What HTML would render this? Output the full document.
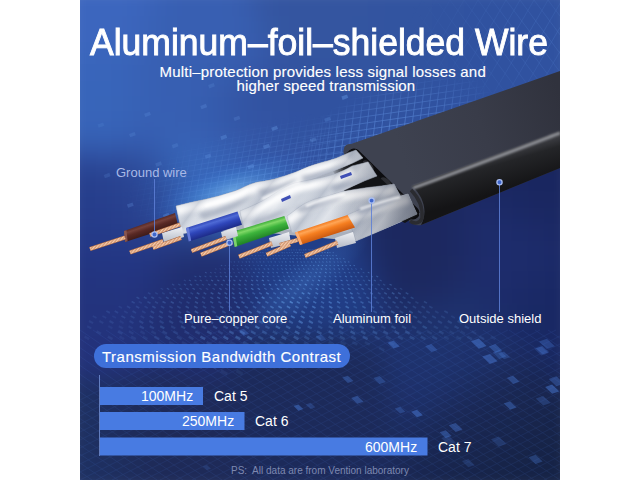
<!DOCTYPE html>
<html><head><meta charset="utf-8">
<style>
html,body{margin:0;padding:0;background:#fff;}
body{width:640px;height:480px;position:relative;overflow:hidden;font-family:"Liberation Sans",sans-serif;}
#art{position:absolute;left:80px;top:0;width:480px;height:480px;overflow:hidden;}
svg{position:absolute;left:0;top:0;}
.t{position:absolute;white-space:nowrap;color:#fff;line-height:1;}
</style></head><body>
<div id="art">
<svg width="480" height="480" viewBox="80 0 480 480">
<defs>
<linearGradient id="bg" x1="0" y1="0" x2="0" y2="480" gradientUnits="userSpaceOnUse">
<stop offset="0" stop-color="#2c5cbd"/>
<stop offset="0.31" stop-color="#2757bb"/>
<stop offset="0.46" stop-color="#2046aa"/>
<stop offset="0.58" stop-color="#1c368c"/>
<stop offset="0.71" stop-color="#182c70"/>
<stop offset="1" stop-color="#14255c"/>
</linearGradient>
<radialGradient id="navyR" cx="0" cy="0" r="1" gradientUnits="userSpaceOnUse" gradientTransform="translate(520 250) scale(190 95)">
<stop offset="0" stop-color="#182b7a" stop-opacity="0.9"/>
<stop offset="0.6" stop-color="#182b7a" stop-opacity="0.6"/>
<stop offset="1" stop-color="#182b7a" stop-opacity="0"/>
</radialGradient>
<radialGradient id="blueL" cx="0" cy="0" r="1" gradientUnits="userSpaceOnUse" gradientTransform="translate(110 265) scale(120 80)">
<stop offset="0" stop-color="#1f49ad" stop-opacity="0.8"/>
<stop offset="1" stop-color="#1f49ad" stop-opacity="0"/>
</radialGradient>
<radialGradient id="glow1" cx="0" cy="0" r="1" gradientUnits="userSpaceOnUse" gradientTransform="translate(232 190) rotate(-18) scale(90 28)">
<stop offset="0" stop-color="#8fd2ff" stop-opacity="0.95"/>
<stop offset="0.45" stop-color="#52a0ea" stop-opacity="0.55"/>
<stop offset="1" stop-color="#2a60c8" stop-opacity="0"/>
</radialGradient>
<radialGradient id="glow2" cx="0" cy="0" r="1" gradientUnits="userSpaceOnUse" gradientTransform="translate(310 282) scale(160 50)">
<stop offset="0" stop-color="#4a8ae0" stop-opacity="0.9"/>
<stop offset="0.5" stop-color="#3370cc" stop-opacity="0.5"/>
<stop offset="1" stop-color="#2a60c8" stop-opacity="0"/>
</radialGradient>
<linearGradient id="ctop" x1="400" y1="150" x2="560" y2="95" gradientUnits="userSpaceOnUse">
<stop offset="0" stop-color="#3e4250"/>
<stop offset="0.5" stop-color="#393c49"/>
<stop offset="1" stop-color="#30323d"/>
</linearGradient>
<linearGradient id="cside" x1="468" y1="164" x2="478" y2="198" gradientUnits="userSpaceOnUse">
<stop offset="0" stop-color="#3a3b40"/>
<stop offset="0.25" stop-color="#242528"/>
<stop offset="1" stop-color="#141416"/>
</linearGradient>
<filter id="blur1" x="-10%" y="-50%" width="120%" height="200%"><feGaussianBlur stdDeviation="1.2"/></filter>
<filter id="blur2" x="-20%" y="-50%" width="140%" height="200%"><feGaussianBlur stdDeviation="2"/></filter>
<linearGradient id="foilsh" x1="330" y1="0" x2="420" y2="0" gradientUnits="userSpaceOnUse">
<stop offset="0" stop-color="#3a4050" stop-opacity="0"/>
<stop offset="0.6" stop-color="#3a4050" stop-opacity="0.25"/>
<stop offset="1" stop-color="#3a4050" stop-opacity="0.6"/>
</linearGradient>
<clipPath id="fclip"><path d="M176,206 C195,201 215,198 232,192 C242,189 248,184 258,182 C268,181 280,178 296,172 C305,168 312,165 320,163 C332,160 340,157 348,153 L356,150 L363,158 C350,165 335,170 320,176 L280,194 L240,222 L182,234 Z"/><path d="M240,211 C250,207 262,202 274,194 C282,189 288,185 295,183 C305,181 312,179 320,178 C330,176 340,173 352,166 L368,162 L377,176 C360,182 345,190 330,197 L292,230 L244,229 Z"/><path d="M287,216 C292,213 297,208 304,204 C312,200 317,198 324,197 C332,195 338,192 346,191 C356,189 364,188 372,187 C382,186 388,185 394,184 L401,197 C385,202 370,210 356,218 L356,232 L292,233 Z"/><path d="M347,215 C357,211 367,206 380,202 C390,199 400,196 408,194 L417,214 C400,222 378,232 356,241 Z"/></clipPath>
<clipPath id="gridclip"><polygon points="300,0 560,0 560,73 347,150 250,170 230,90"/></clipPath>
<pattern id="cuPat" width="2.4" height="20" patternUnits="userSpaceOnUse" patternTransform="rotate(38)">
<rect width="2.4" height="20" fill="#d8987077"/><rect width="2.4" height="20" fill="#d69a72"/><rect width="1.1" height="20" fill="#f5ccb0"/>
</pattern>
<radialGradient id="gm" cx="0" cy="0" r="1" gradientUnits="userSpaceOnUse" gradientTransform="translate(390 130) rotate(-20) scale(110 45)">
<stop offset="0" stop-color="#fff" stop-opacity="0.55"/><stop offset="0.6" stop-color="#fff" stop-opacity="0.3"/><stop offset="1" stop-color="#fff" stop-opacity="0"/>
</radialGradient>
<mask id="gridmask" maskUnits="userSpaceOnUse" x="80" y="0" width="480" height="480"><rect x="80" y="0" width="480" height="480" fill="url(#gm)"/></mask>
<radialGradient id="mm" cx="0" cy="0" r="1" gradientUnits="userSpaceOnUse" gradientTransform="translate(540 40) scale(140 80)">
<stop offset="0" stop-color="#fff" stop-opacity="0.3"/><stop offset="1" stop-color="#fff" stop-opacity="0"/>
</radialGradient>
<mask id="meshmask" maskUnits="userSpaceOnUse" x="80" y="0" width="480" height="480"><rect x="80" y="0" width="480" height="480" fill="url(#mm)"/></mask>
<linearGradient id="twist" x1="180" y1="200" x2="218" y2="228" gradientUnits="userSpaceOnUse" spreadMethod="repeat">
<stop offset="0" stop-color="#ffffff" stop-opacity="0"/>
<stop offset="0.35" stop-color="#7f8aa0" stop-opacity="0.28"/>
<stop offset="0.55" stop-color="#ffffff" stop-opacity="0"/>
<stop offset="0.7" stop-color="#ffffff" stop-opacity="0.4"/>
<stop offset="1" stop-color="#ffffff" stop-opacity="0"/>
</linearGradient>
<filter id="bgblur" x="-5%" y="-5%" width="110%" height="110%" color-interpolation-filters="sRGB"><feGaussianBlur stdDeviation="9"/></filter>
<radialGradient id="beam" cx="0" cy="0" r="1" gradientUnits="userSpaceOnUse" gradientTransform="translate(305 282) rotate(-40) scale(85 22)">
<stop offset="0" stop-color="#5a9ae8" stop-opacity="0.22"/><stop offset="1" stop-color="#5a9ae8" stop-opacity="0"/>
</radialGradient>
<clipPath id="cA"><path d="M176,206 C195,201 215,198 232,192 C242,189 248,184 258,182 C268,181 280,178 296,172 C305,168 312,165 320,163 C332,160 340,157 348,153 L356,150 L363,158 C350,165 335,170 320,176 L280,194 L240,222 L182,234 Z"/></clipPath><clipPath id="cB"><path d="M240,211 C250,207 262,202 274,194 C282,189 288,185 295,183 C305,181 312,179 320,178 C330,176 340,173 352,166 L368,162 L377,176 C360,182 345,190 330,197 L292,230 L244,229 Z"/></clipPath><clipPath id="cC"><path d="M287,216 C292,213 297,208 304,204 C312,200 317,198 324,197 C332,195 338,192 346,191 C356,189 364,188 372,187 C382,186 388,185 394,184 L401,197 C385,202 370,210 356,218 L356,232 L292,233 Z"/></clipPath><clipPath id="cD"><path d="M347,215 C357,211 367,206 380,202 C390,199 400,196 408,194 L417,214 C400,222 378,232 356,241 Z"/></clipPath>
<linearGradient id="foilbase" x1="180" y1="0" x2="420" y2="0" gradientUnits="userSpaceOnUse">
<stop offset="0" stop-color="#d9dee6"/><stop offset="0.6" stop-color="#cdd3dd"/><stop offset="1" stop-color="#b4bbc8"/>
</linearGradient>
<radialGradient id="gm2" cx="0" cy="0" r="1" gradientUnits="userSpaceOnUse" gradientTransform="translate(270 175) rotate(-12) scale(150 55)">
<stop offset="0" stop-color="#fff" stop-opacity="0.35"/><stop offset="0.6" stop-color="#fff" stop-opacity="0.15"/><stop offset="1" stop-color="#fff" stop-opacity="0"/>
</radialGradient>
<mask id="gridmask2" maskUnits="userSpaceOnUse" x="80" y="0" width="480" height="480"><rect x="80" y="0" width="480" height="480" fill="url(#gm2)"/></mask>
<filter id="dotblur" x="0" y="0" width="1" height="1" filterUnits="objectBoundingBox"><feGaussianBlur stdDeviation="0.5"/></filter>
<linearGradient id="cavg" x1="332" y1="0" x2="352" y2="0" gradientUnits="userSpaceOnUse">
<stop offset="0" stop-color="#121316" stop-opacity="0"/><stop offset="0.6" stop-color="#121316" stop-opacity="0.85"/><stop offset="1" stop-color="#121316"/>
</linearGradient>
<linearGradient id="foil" x1="0" y1="0" x2="0" y2="1">
<stop offset="0" stop-color="#ffffff"/>
<stop offset="0.45" stop-color="#eceff4"/>
<stop offset="0.8" stop-color="#c9cfd9"/>
<stop offset="1" stop-color="#9aa3b3"/>
</linearGradient>
<linearGradient id="gBrown" x1="149.5" y1="222" x2="153.5" y2="233.5" gradientUnits="userSpaceOnUse">
<stop offset="0" stop-color="#5a2a26"/><stop offset="0.22" stop-color="#74403a"/><stop offset="0.5" stop-color="#582824"/><stop offset="1" stop-color="#3a1916"/>
</linearGradient>
<linearGradient id="gBlue" x1="211.75" y1="219.75" x2="216" y2="233.3" gradientUnits="userSpaceOnUse">
<stop offset="0" stop-color="#3248b8"/><stop offset="0.22" stop-color="#4e6ad6"/><stop offset="0.5" stop-color="#2f46ba"/><stop offset="1" stop-color="#1c2a86"/>
</linearGradient>
<linearGradient id="gGreen" x1="258.2" y1="224" x2="262.3" y2="237.6" gradientUnits="userSpaceOnUse">
<stop offset="0" stop-color="#3fae3a"/><stop offset="0.22" stop-color="#7fd866"/><stop offset="0.5" stop-color="#3db43c"/><stop offset="1" stop-color="#228628"/>
</linearGradient>
<linearGradient id="gOrange" x1="321.25" y1="223.75" x2="325.5" y2="236.8" gradientUnits="userSpaceOnUse">
<stop offset="0" stop-color="#f27c22"/><stop offset="0.22" stop-color="#ffa555"/><stop offset="0.5" stop-color="#f57e20"/><stop offset="1" stop-color="#cc5a10"/>
</linearGradient>
<linearGradient id="gStub" x1="0" y1="0" x2="0" y2="1">
<stop offset="0" stop-color="#eef0f4"/><stop offset="1" stop-color="#b4bac6"/>
</linearGradient>
</defs>
<!-- BG START -->
<g filter="url(#bgblur)"><rect x="64" y="-16" width="16" height="16" fill="#3c66be"/><rect x="80" y="-16" width="16" height="16" fill="#3c66be"/><rect x="96" y="-16" width="16" height="16" fill="#3c66be"/><rect x="112" y="-16" width="16" height="16" fill="#3c66be"/><rect x="128" y="-16" width="16" height="16" fill="#3c65bd"/><rect x="144" y="-16" width="16" height="16" fill="#3a63b9"/><rect x="160" y="-16" width="16" height="16" fill="#3960b4"/><rect x="176" y="-16" width="16" height="16" fill="#385fb2"/><rect x="192" y="-16" width="16" height="16" fill="#385fb2"/><rect x="208" y="-16" width="16" height="16" fill="#385fb2"/><rect x="224" y="-16" width="16" height="16" fill="#385eb1"/><rect x="240" y="-16" width="16" height="16" fill="#365bab"/><rect x="256" y="-16" width="16" height="16" fill="#3557a3"/><rect x="272" y="-16" width="16" height="16" fill="#3455a0"/><rect x="288" y="-16" width="16" height="16" fill="#3455a0"/><rect x="304" y="-16" width="16" height="16" fill="#3455a0"/><rect x="320" y="-16" width="16" height="16" fill="#3455a0"/><rect x="336" y="-16" width="16" height="16" fill="#3455a0"/><rect x="352" y="-16" width="16" height="16" fill="#3455a0"/><rect x="368" y="-16" width="16" height="16" fill="#3355a0"/><rect x="384" y="-16" width="16" height="16" fill="#3354a0"/><rect x="400" y="-16" width="16" height="16" fill="#3254a0"/><rect x="416" y="-16" width="16" height="16" fill="#3254a0"/><rect x="432" y="-16" width="16" height="16" fill="#3254a0"/><rect x="448" y="-16" width="16" height="16" fill="#3153a0"/><rect x="464" y="-16" width="16" height="16" fill="#3052a0"/><rect x="480" y="-16" width="16" height="16" fill="#3052a0"/><rect x="496" y="-16" width="16" height="16" fill="#3052a0"/><rect x="512" y="-16" width="16" height="16" fill="#3052a0"/><rect x="528" y="-16" width="16" height="16" fill="#3052a0"/><rect x="544" y="-16" width="16" height="16" fill="#3052a0"/><rect x="560" y="-16" width="16" height="16" fill="#3052a0"/><rect x="64" y="0" width="16" height="16" fill="#3c66be"/><rect x="80" y="0" width="16" height="16" fill="#3c66be"/><rect x="96" y="0" width="16" height="16" fill="#3c66be"/><rect x="112" y="0" width="16" height="16" fill="#3c66be"/><rect x="128" y="0" width="16" height="16" fill="#3b65bc"/><rect x="144" y="0" width="16" height="16" fill="#3a62b8"/><rect x="160" y="0" width="16" height="16" fill="#3860b4"/><rect x="176" y="0" width="16" height="16" fill="#385fb2"/><rect x="192" y="0" width="16" height="16" fill="#385fb2"/><rect x="208" y="0" width="16" height="16" fill="#385fb2"/><rect x="224" y="0" width="16" height="16" fill="#385fb1"/><rect x="240" y="0" width="16" height="16" fill="#375cad"/><rect x="256" y="0" width="16" height="16" fill="#3557a4"/><rect x="272" y="0" width="16" height="16" fill="#3455a1"/><rect x="288" y="0" width="16" height="16" fill="#3455a0"/><rect x="304" y="0" width="16" height="16" fill="#3455a0"/><rect x="320" y="0" width="16" height="16" fill="#3455a0"/><rect x="336" y="0" width="16" height="16" fill="#3455a0"/><rect x="352" y="0" width="16" height="16" fill="#3455a0"/><rect x="368" y="0" width="16" height="16" fill="#3354a0"/><rect x="384" y="0" width="16" height="16" fill="#3254a0"/><rect x="400" y="0" width="16" height="16" fill="#3254a0"/><rect x="416" y="0" width="16" height="16" fill="#3254a0"/><rect x="432" y="0" width="16" height="16" fill="#3153a0"/><rect x="448" y="0" width="16" height="16" fill="#3153a0"/><rect x="464" y="0" width="16" height="16" fill="#3052a0"/><rect x="480" y="0" width="16" height="16" fill="#3052a0"/><rect x="496" y="0" width="16" height="16" fill="#3052a0"/><rect x="512" y="0" width="16" height="16" fill="#3052a0"/><rect x="528" y="0" width="16" height="16" fill="#3052a0"/><rect x="544" y="0" width="16" height="16" fill="#3052a0"/><rect x="560" y="0" width="16" height="16" fill="#3052a0"/><rect x="64" y="16" width="16" height="16" fill="#3c66be"/><rect x="80" y="16" width="16" height="16" fill="#3c66be"/><rect x="96" y="16" width="16" height="16" fill="#3c66be"/><rect x="112" y="16" width="16" height="16" fill="#3c66bd"/><rect x="128" y="16" width="16" height="16" fill="#3b64bb"/><rect x="144" y="16" width="16" height="16" fill="#3962b6"/><rect x="160" y="16" width="16" height="16" fill="#3860b3"/><rect x="176" y="16" width="16" height="16" fill="#385fb2"/><rect x="192" y="16" width="16" height="16" fill="#385fb2"/><rect x="208" y="16" width="16" height="16" fill="#385fb2"/><rect x="224" y="16" width="16" height="16" fill="#385fb1"/><rect x="240" y="16" width="16" height="16" fill="#375daf"/><rect x="256" y="16" width="16" height="16" fill="#3559a6"/><rect x="272" y="16" width="16" height="16" fill="#3456a1"/><rect x="288" y="16" width="16" height="16" fill="#3455a0"/><rect x="304" y="16" width="16" height="16" fill="#3455a0"/><rect x="320" y="16" width="16" height="16" fill="#3455a0"/><rect x="336" y="16" width="16" height="16" fill="#3455a0"/><rect x="352" y="16" width="16" height="16" fill="#3355a0"/><rect x="368" y="16" width="16" height="16" fill="#3354a0"/><rect x="384" y="16" width="16" height="16" fill="#3254a0"/><rect x="400" y="16" width="16" height="16" fill="#3254a0"/><rect x="416" y="16" width="16" height="16" fill="#3254a0"/><rect x="432" y="16" width="16" height="16" fill="#3153a0"/><rect x="448" y="16" width="16" height="16" fill="#3153a0"/><rect x="464" y="16" width="16" height="16" fill="#3052a0"/><rect x="480" y="16" width="16" height="16" fill="#3052a0"/><rect x="496" y="16" width="16" height="16" fill="#3052a0"/><rect x="512" y="16" width="16" height="16" fill="#3052a0"/><rect x="528" y="16" width="16" height="16" fill="#3052a0"/><rect x="544" y="16" width="16" height="16" fill="#3052a0"/><rect x="560" y="16" width="16" height="16" fill="#3052a0"/><rect x="64" y="32" width="16" height="16" fill="#3c66be"/><rect x="80" y="32" width="16" height="16" fill="#3c66be"/><rect x="96" y="32" width="16" height="16" fill="#3b66bd"/><rect x="112" y="32" width="16" height="16" fill="#3b65bd"/><rect x="128" y="32" width="16" height="16" fill="#3a64ba"/><rect x="144" y="32" width="16" height="16" fill="#3961b5"/><rect x="160" y="32" width="16" height="16" fill="#385fb3"/><rect x="176" y="32" width="16" height="16" fill="#385fb2"/><rect x="192" y="32" width="16" height="16" fill="#385fb2"/><rect x="208" y="32" width="16" height="16" fill="#385fb2"/><rect x="224" y="32" width="16" height="16" fill="#385fb1"/><rect x="240" y="32" width="16" height="16" fill="#375daf"/><rect x="256" y="32" width="16" height="16" fill="#3659a8"/><rect x="272" y="32" width="16" height="16" fill="#3456a2"/><rect x="288" y="32" width="16" height="16" fill="#3455a0"/><rect x="304" y="32" width="16" height="16" fill="#3455a0"/><rect x="320" y="32" width="16" height="16" fill="#3455a0"/><rect x="336" y="32" width="16" height="16" fill="#3355a0"/><rect x="352" y="32" width="16" height="16" fill="#3354a0"/><rect x="368" y="32" width="16" height="16" fill="#3254a0"/><rect x="384" y="32" width="16" height="16" fill="#3254a0"/><rect x="400" y="32" width="16" height="16" fill="#3254a0"/><rect x="416" y="32" width="16" height="16" fill="#3153a0"/><rect x="432" y="32" width="16" height="16" fill="#3153a0"/><rect x="448" y="32" width="16" height="16" fill="#3153a0"/><rect x="464" y="32" width="16" height="16" fill="#3052a0"/><rect x="480" y="32" width="16" height="16" fill="#3052a0"/><rect x="496" y="32" width="16" height="16" fill="#3052a0"/><rect x="512" y="32" width="16" height="16" fill="#3052a0"/><rect x="528" y="32" width="16" height="16" fill="#3052a0"/><rect x="544" y="32" width="16" height="16" fill="#3052a0"/><rect x="560" y="32" width="16" height="16" fill="#3052a0"/><rect x="64" y="48" width="16" height="16" fill="#3a66bc"/><rect x="80" y="48" width="16" height="16" fill="#3a66bc"/><rect x="96" y="48" width="16" height="16" fill="#3a65bc"/><rect x="112" y="48" width="16" height="16" fill="#3a65bb"/><rect x="128" y="48" width="16" height="16" fill="#3963b8"/><rect x="144" y="48" width="16" height="16" fill="#3860b4"/><rect x="160" y="48" width="16" height="16" fill="#385fb2"/><rect x="176" y="48" width="16" height="16" fill="#385fb2"/><rect x="192" y="48" width="16" height="16" fill="#385fb2"/><rect x="208" y="48" width="16" height="16" fill="#385fb1"/><rect x="224" y="48" width="16" height="16" fill="#375eb0"/><rect x="240" y="48" width="16" height="16" fill="#375cae"/><rect x="256" y="48" width="16" height="16" fill="#3558a8"/><rect x="272" y="48" width="16" height="16" fill="#3455a2"/><rect x="288" y="48" width="16" height="16" fill="#3455a0"/><rect x="304" y="48" width="16" height="16" fill="#3455a0"/><rect x="320" y="48" width="16" height="16" fill="#3355a0"/><rect x="336" y="48" width="16" height="16" fill="#3354a0"/><rect x="352" y="48" width="16" height="16" fill="#3254a0"/><rect x="368" y="48" width="16" height="16" fill="#3254a0"/><rect x="384" y="48" width="16" height="16" fill="#3254a0"/><rect x="400" y="48" width="16" height="16" fill="#3254a0"/><rect x="416" y="48" width="16" height="16" fill="#3153a0"/><rect x="432" y="48" width="16" height="16" fill="#3153a0"/><rect x="448" y="48" width="16" height="16" fill="#3052a0"/><rect x="464" y="48" width="16" height="16" fill="#3052a0"/><rect x="480" y="48" width="16" height="16" fill="#3052a0"/><rect x="496" y="48" width="16" height="16" fill="#3052a0"/><rect x="512" y="48" width="16" height="16" fill="#3052a0"/><rect x="528" y="48" width="16" height="16" fill="#3052a0"/><rect x="544" y="48" width="16" height="16" fill="#3052a0"/><rect x="560" y="48" width="16" height="16" fill="#3052a0"/><rect x="64" y="64" width="16" height="16" fill="#3965bb"/><rect x="80" y="64" width="16" height="16" fill="#3965bb"/><rect x="96" y="64" width="16" height="16" fill="#3965ba"/><rect x="112" y="64" width="16" height="16" fill="#3864b9"/><rect x="128" y="64" width="16" height="16" fill="#3862b6"/><rect x="144" y="64" width="16" height="16" fill="#3860b4"/><rect x="160" y="64" width="16" height="16" fill="#375fb2"/><rect x="176" y="64" width="16" height="16" fill="#375fb2"/><rect x="192" y="64" width="16" height="16" fill="#375fb1"/><rect x="208" y="64" width="16" height="16" fill="#375eb0"/><rect x="224" y="64" width="16" height="16" fill="#365cad"/><rect x="240" y="64" width="16" height="16" fill="#3558a9"/><rect x="256" y="64" width="16" height="16" fill="#3355a4"/><rect x="272" y="64" width="16" height="16" fill="#3354a1"/><rect x="288" y="64" width="16" height="16" fill="#3253a0"/><rect x="304" y="64" width="16" height="16" fill="#3253a0"/><rect x="320" y="64" width="16" height="16" fill="#3253a0"/><rect x="336" y="64" width="16" height="16" fill="#3254a0"/><rect x="352" y="64" width="16" height="16" fill="#3254a0"/><rect x="368" y="64" width="16" height="16" fill="#3254a0"/><rect x="384" y="64" width="16" height="16" fill="#3254a0"/><rect x="400" y="64" width="16" height="16" fill="#3153a0"/><rect x="416" y="64" width="16" height="16" fill="#3153a0"/><rect x="432" y="64" width="16" height="16" fill="#3153a0"/><rect x="448" y="64" width="16" height="16" fill="#3052a0"/><rect x="464" y="64" width="16" height="16" fill="#3052a0"/><rect x="480" y="64" width="16" height="16" fill="#3052a0"/><rect x="496" y="64" width="16" height="16" fill="#3052a0"/><rect x="512" y="64" width="16" height="16" fill="#3052a0"/><rect x="528" y="64" width="16" height="16" fill="#3052a0"/><rect x="544" y="64" width="16" height="16" fill="#3052a0"/><rect x="560" y="64" width="16" height="16" fill="#3052a0"/><rect x="64" y="80" width="16" height="16" fill="#3865ba"/><rect x="80" y="80" width="16" height="16" fill="#3865ba"/><rect x="96" y="80" width="16" height="16" fill="#3865ba"/><rect x="112" y="80" width="16" height="16" fill="#3864b9"/><rect x="128" y="80" width="16" height="16" fill="#3862b6"/><rect x="144" y="80" width="16" height="16" fill="#3760b4"/><rect x="160" y="80" width="16" height="16" fill="#375fb2"/><rect x="176" y="80" width="16" height="16" fill="#375fb2"/><rect x="192" y="80" width="16" height="16" fill="#375eb1"/><rect x="208" y="80" width="16" height="16" fill="#365cae"/><rect x="224" y="80" width="16" height="16" fill="#3559a9"/><rect x="240" y="80" width="16" height="16" fill="#3355a5"/><rect x="256" y="80" width="16" height="16" fill="#3353a2"/><rect x="272" y="80" width="16" height="16" fill="#3253a1"/><rect x="288" y="80" width="16" height="16" fill="#3152a0"/><rect x="304" y="80" width="16" height="16" fill="#3152a0"/><rect x="320" y="80" width="16" height="16" fill="#3152a0"/><rect x="336" y="80" width="16" height="16" fill="#3153a0"/><rect x="352" y="80" width="16" height="16" fill="#3153a0"/><rect x="368" y="80" width="16" height="16" fill="#3153a0"/><rect x="384" y="80" width="16" height="16" fill="#3153a0"/><rect x="400" y="80" width="16" height="16" fill="#3153a0"/><rect x="416" y="80" width="16" height="16" fill="#3153a0"/><rect x="432" y="80" width="16" height="16" fill="#3052a0"/><rect x="448" y="80" width="16" height="16" fill="#3052a0"/><rect x="464" y="80" width="16" height="16" fill="#3052a0"/><rect x="480" y="80" width="16" height="16" fill="#3052a0"/><rect x="496" y="80" width="16" height="16" fill="#3052a0"/><rect x="512" y="80" width="16" height="16" fill="#3052a0"/><rect x="528" y="80" width="16" height="16" fill="#3052a0"/><rect x="544" y="80" width="16" height="16" fill="#3052a0"/><rect x="560" y="80" width="16" height="16" fill="#30529f"/><rect x="64" y="96" width="16" height="16" fill="#3865ba"/><rect x="80" y="96" width="16" height="16" fill="#3865ba"/><rect x="96" y="96" width="16" height="16" fill="#3865b9"/><rect x="112" y="96" width="16" height="16" fill="#3864b8"/><rect x="128" y="96" width="16" height="16" fill="#3762b6"/><rect x="144" y="96" width="16" height="16" fill="#3760b4"/><rect x="160" y="96" width="16" height="16" fill="#375fb3"/><rect x="176" y="96" width="16" height="16" fill="#375fb2"/><rect x="192" y="96" width="16" height="16" fill="#365eb0"/><rect x="208" y="96" width="16" height="16" fill="#355bac"/><rect x="224" y="96" width="16" height="16" fill="#3457a7"/><rect x="240" y="96" width="16" height="16" fill="#3355a4"/><rect x="256" y="96" width="16" height="16" fill="#3253a2"/><rect x="272" y="96" width="16" height="16" fill="#3253a1"/><rect x="288" y="96" width="16" height="16" fill="#3152a0"/><rect x="304" y="96" width="16" height="16" fill="#3152a0"/><rect x="320" y="96" width="16" height="16" fill="#3052a0"/><rect x="336" y="96" width="16" height="16" fill="#3052a0"/><rect x="352" y="96" width="16" height="16" fill="#3052a0"/><rect x="368" y="96" width="16" height="16" fill="#3153a0"/><rect x="384" y="96" width="16" height="16" fill="#3153a0"/><rect x="400" y="96" width="16" height="16" fill="#3153a0"/><rect x="416" y="96" width="16" height="16" fill="#3052a0"/><rect x="432" y="96" width="16" height="16" fill="#3052a0"/><rect x="448" y="96" width="16" height="16" fill="#3052a0"/><rect x="464" y="96" width="16" height="16" fill="#3052a0"/><rect x="480" y="96" width="16" height="16" fill="#3052a0"/><rect x="496" y="96" width="16" height="16" fill="#30519f"/><rect x="512" y="96" width="16" height="16" fill="#2f519e"/><rect x="528" y="96" width="16" height="16" fill="#2f509d"/><rect x="544" y="96" width="16" height="16" fill="#2f4f9c"/><rect x="560" y="96" width="16" height="16" fill="#2e4e9b"/><rect x="64" y="112" width="16" height="16" fill="#3864b9"/><rect x="80" y="112" width="16" height="16" fill="#3864b9"/><rect x="96" y="112" width="16" height="16" fill="#3864b9"/><rect x="112" y="112" width="16" height="16" fill="#3763b8"/><rect x="128" y="112" width="16" height="16" fill="#3761b5"/><rect x="144" y="112" width="16" height="16" fill="#3760b3"/><rect x="160" y="112" width="16" height="16" fill="#3760b3"/><rect x="176" y="112" width="16" height="16" fill="#375fb2"/><rect x="192" y="112" width="16" height="16" fill="#365eb1"/><rect x="208" y="112" width="16" height="16" fill="#355bad"/><rect x="224" y="112" width="16" height="16" fill="#3458a8"/><rect x="240" y="112" width="16" height="16" fill="#3355a5"/><rect x="256" y="112" width="16" height="16" fill="#3354a3"/><rect x="272" y="112" width="16" height="16" fill="#3253a2"/><rect x="288" y="112" width="16" height="16" fill="#3152a1"/><rect x="304" y="112" width="16" height="16" fill="#3152a0"/><rect x="320" y="112" width="16" height="16" fill="#3052a0"/><rect x="336" y="112" width="16" height="16" fill="#3052a0"/><rect x="352" y="112" width="16" height="16" fill="#3052a0"/><rect x="368" y="112" width="16" height="16" fill="#3052a0"/><rect x="384" y="112" width="16" height="16" fill="#3153a0"/><rect x="400" y="112" width="16" height="16" fill="#3052a0"/><rect x="416" y="112" width="16" height="16" fill="#3052a0"/><rect x="432" y="112" width="16" height="16" fill="#3052a0"/><rect x="448" y="112" width="16" height="16" fill="#3052a0"/><rect x="464" y="112" width="16" height="16" fill="#30529f"/><rect x="480" y="112" width="16" height="16" fill="#2f509d"/><rect x="496" y="112" width="16" height="16" fill="#2d4c97"/><rect x="512" y="112" width="16" height="16" fill="#2b4891"/><rect x="528" y="112" width="16" height="16" fill="#29448c"/><rect x="544" y="112" width="16" height="16" fill="#274086"/><rect x="560" y="112" width="16" height="16" fill="#253d81"/><rect x="64" y="128" width="16" height="16" fill="#3660b4"/><rect x="80" y="128" width="16" height="16" fill="#3661b5"/><rect x="96" y="128" width="16" height="16" fill="#3661b5"/><rect x="112" y="128" width="16" height="16" fill="#3660b4"/><rect x="128" y="128" width="16" height="16" fill="#365eb2"/><rect x="144" y="128" width="16" height="16" fill="#365eb1"/><rect x="160" y="128" width="16" height="16" fill="#3760b3"/><rect x="176" y="128" width="16" height="16" fill="#3761b4"/><rect x="192" y="128" width="16" height="16" fill="#3760b3"/><rect x="208" y="128" width="16" height="16" fill="#365daf"/><rect x="224" y="128" width="16" height="16" fill="#355aab"/><rect x="240" y="128" width="16" height="16" fill="#3457a7"/><rect x="256" y="128" width="16" height="16" fill="#3355a5"/><rect x="272" y="128" width="16" height="16" fill="#3254a3"/><rect x="288" y="128" width="16" height="16" fill="#3153a1"/><rect x="304" y="128" width="16" height="16" fill="#3152a0"/><rect x="320" y="128" width="16" height="16" fill="#3052a0"/><rect x="336" y="128" width="16" height="16" fill="#3052a0"/><rect x="352" y="128" width="16" height="16" fill="#3052a0"/><rect x="368" y="128" width="16" height="16" fill="#3052a0"/><rect x="384" y="128" width="16" height="16" fill="#3052a0"/><rect x="400" y="128" width="16" height="16" fill="#3052a0"/><rect x="416" y="128" width="16" height="16" fill="#3052a0"/><rect x="432" y="128" width="16" height="16" fill="#3052a0"/><rect x="448" y="128" width="16" height="16" fill="#30519f"/><rect x="464" y="128" width="16" height="16" fill="#2e4f9b"/><rect x="480" y="128" width="16" height="16" fill="#2a468f"/><rect x="496" y="128" width="16" height="16" fill="#23397c"/><rect x="512" y="128" width="16" height="16" fill="#1f3170"/><rect x="528" y="128" width="16" height="16" fill="#1d2e6a"/><rect x="544" y="128" width="16" height="16" fill="#1c2c67"/><rect x="560" y="128" width="16" height="16" fill="#1b2a65"/><rect x="64" y="144" width="16" height="16" fill="#3053a4"/><rect x="80" y="144" width="16" height="16" fill="#3155a7"/><rect x="96" y="144" width="16" height="16" fill="#3156a8"/><rect x="112" y="144" width="16" height="16" fill="#3155a7"/><rect x="128" y="144" width="16" height="16" fill="#3256a7"/><rect x="144" y="144" width="16" height="16" fill="#3359ab"/><rect x="160" y="144" width="16" height="16" fill="#355fb1"/><rect x="176" y="144" width="16" height="16" fill="#3763b6"/><rect x="192" y="144" width="16" height="16" fill="#3763b6"/><rect x="208" y="144" width="16" height="16" fill="#3761b3"/><rect x="224" y="144" width="16" height="16" fill="#355daf"/><rect x="240" y="144" width="16" height="16" fill="#3459aa"/><rect x="256" y="144" width="16" height="16" fill="#3357a7"/><rect x="272" y="144" width="16" height="16" fill="#3355a4"/><rect x="288" y="144" width="16" height="16" fill="#3253a2"/><rect x="304" y="144" width="16" height="16" fill="#3152a1"/><rect x="320" y="144" width="16" height="16" fill="#3052a0"/><rect x="336" y="144" width="16" height="16" fill="#3052a0"/><rect x="352" y="144" width="16" height="16" fill="#3052a0"/><rect x="368" y="144" width="16" height="16" fill="#30529f"/><rect x="384" y="144" width="16" height="16" fill="#2f519e"/><rect x="400" y="144" width="16" height="16" fill="#2f4f9b"/><rect x="416" y="144" width="16" height="16" fill="#2e4e9a"/><rect x="432" y="144" width="16" height="16" fill="#2e4e9a"/><rect x="448" y="144" width="16" height="16" fill="#2d4c98"/><rect x="464" y="144" width="16" height="16" fill="#28438a"/><rect x="480" y="144" width="16" height="16" fill="#203372"/><rect x="496" y="144" width="16" height="16" fill="#1b2a65"/><rect x="512" y="144" width="16" height="16" fill="#1a2862"/><rect x="528" y="144" width="16" height="16" fill="#1a2760"/><rect x="544" y="144" width="16" height="16" fill="#192760"/><rect x="560" y="144" width="16" height="16" fill="#192660"/><rect x="64" y="160" width="16" height="16" fill="#294494"/><rect x="80" y="160" width="16" height="16" fill="#2a4695"/><rect x="96" y="160" width="16" height="16" fill="#2b4796"/><rect x="112" y="160" width="16" height="16" fill="#2c4998"/><rect x="128" y="160" width="16" height="16" fill="#2d4c9b"/><rect x="144" y="160" width="16" height="16" fill="#3052a2"/><rect x="160" y="160" width="16" height="16" fill="#335bac"/><rect x="176" y="160" width="16" height="16" fill="#3663b5"/><rect x="192" y="160" width="16" height="16" fill="#3866b9"/><rect x="208" y="160" width="16" height="16" fill="#3764b7"/><rect x="224" y="160" width="16" height="16" fill="#3660b3"/><rect x="240" y="160" width="16" height="16" fill="#355cae"/><rect x="256" y="160" width="16" height="16" fill="#3459aa"/><rect x="272" y="160" width="16" height="16" fill="#3356a6"/><rect x="288" y="160" width="16" height="16" fill="#3254a3"/><rect x="304" y="160" width="16" height="16" fill="#3152a1"/><rect x="320" y="160" width="16" height="16" fill="#3052a0"/><rect x="336" y="160" width="16" height="16" fill="#3052a0"/><rect x="352" y="160" width="16" height="16" fill="#30519f"/><rect x="368" y="160" width="16" height="16" fill="#2f4f9c"/><rect x="384" y="160" width="16" height="16" fill="#2c4992"/><rect x="400" y="160" width="16" height="16" fill="#273e81"/><rect x="416" y="160" width="16" height="16" fill="#253a7b"/><rect x="432" y="160" width="16" height="16" fill="#253a7c"/><rect x="448" y="160" width="16" height="16" fill="#233879"/><rect x="464" y="160" width="16" height="16" fill="#1f306e"/><rect x="480" y="160" width="16" height="16" fill="#1b2964"/><rect x="496" y="160" width="16" height="16" fill="#1a2761"/><rect x="512" y="160" width="16" height="16" fill="#192760"/><rect x="528" y="160" width="16" height="16" fill="#192660"/><rect x="544" y="160" width="16" height="16" fill="#19265f"/><rect x="560" y="160" width="16" height="16" fill="#19265f"/><rect x="64" y="176" width="16" height="16" fill="#273f8e"/><rect x="80" y="176" width="16" height="16" fill="#27408e"/><rect x="96" y="176" width="16" height="16" fill="#28418f"/><rect x="112" y="176" width="16" height="16" fill="#294391"/><rect x="128" y="176" width="16" height="16" fill="#2b4795"/><rect x="144" y="176" width="16" height="16" fill="#2d4d9c"/><rect x="160" y="176" width="16" height="16" fill="#3157a7"/><rect x="176" y="176" width="16" height="16" fill="#3561b3"/><rect x="192" y="176" width="16" height="16" fill="#3866b9"/><rect x="208" y="176" width="16" height="16" fill="#3866ba"/><rect x="224" y="176" width="16" height="16" fill="#3764b7"/><rect x="240" y="176" width="16" height="16" fill="#3660b2"/><rect x="256" y="176" width="16" height="16" fill="#355cae"/><rect x="272" y="176" width="16" height="16" fill="#3458a9"/><rect x="288" y="176" width="16" height="16" fill="#3254a4"/><rect x="304" y="176" width="16" height="16" fill="#3052a0"/><rect x="320" y="176" width="16" height="16" fill="#30519f"/><rect x="336" y="176" width="16" height="16" fill="#2f519e"/><rect x="352" y="176" width="16" height="16" fill="#2e4e9a"/><rect x="368" y="176" width="16" height="16" fill="#2a458c"/><rect x="384" y="176" width="16" height="16" fill="#223574"/><rect x="400" y="176" width="16" height="16" fill="#1e2d66"/><rect x="416" y="176" width="16" height="16" fill="#1d2a63"/><rect x="432" y="176" width="16" height="16" fill="#1d2a63"/><rect x="448" y="176" width="16" height="16" fill="#1d2b64"/><rect x="464" y="176" width="16" height="16" fill="#1c2a65"/><rect x="480" y="176" width="16" height="16" fill="#1b2863"/><rect x="496" y="176" width="16" height="16" fill="#1a2762"/><rect x="512" y="176" width="16" height="16" fill="#1a2761"/><rect x="528" y="176" width="16" height="16" fill="#192660"/><rect x="544" y="176" width="16" height="16" fill="#192660"/><rect x="560" y="176" width="16" height="16" fill="#19265f"/><rect x="64" y="192" width="16" height="16" fill="#263e8c"/><rect x="80" y="192" width="16" height="16" fill="#263e8c"/><rect x="96" y="192" width="16" height="16" fill="#273f8d"/><rect x="112" y="192" width="16" height="16" fill="#28418f"/><rect x="128" y="192" width="16" height="16" fill="#2a4492"/><rect x="144" y="192" width="16" height="16" fill="#2c4997"/><rect x="160" y="192" width="16" height="16" fill="#2f52a1"/><rect x="176" y="192" width="16" height="16" fill="#335cae"/><rect x="192" y="192" width="16" height="16" fill="#3765b7"/><rect x="208" y="192" width="16" height="16" fill="#3867bb"/><rect x="224" y="192" width="16" height="16" fill="#3866b9"/><rect x="240" y="192" width="16" height="16" fill="#3763b6"/><rect x="256" y="192" width="16" height="16" fill="#355eb0"/><rect x="272" y="192" width="16" height="16" fill="#3258a8"/><rect x="288" y="192" width="16" height="16" fill="#2e509f"/><rect x="304" y="192" width="16" height="16" fill="#2b4c99"/><rect x="320" y="192" width="16" height="16" fill="#2b4b98"/><rect x="336" y="192" width="16" height="16" fill="#2b4a95"/><rect x="352" y="192" width="16" height="16" fill="#274186"/><rect x="368" y="192" width="16" height="16" fill="#21326f"/><rect x="384" y="192" width="16" height="16" fill="#1d2b63"/><rect x="400" y="192" width="16" height="16" fill="#1c2960"/><rect x="416" y="192" width="16" height="16" fill="#1c2860"/><rect x="432" y="192" width="16" height="16" fill="#1c2860"/><rect x="448" y="192" width="16" height="16" fill="#1c2962"/><rect x="464" y="192" width="16" height="16" fill="#1c2a65"/><rect x="480" y="192" width="16" height="16" fill="#1c2966"/><rect x="496" y="192" width="16" height="16" fill="#1b2964"/><rect x="512" y="192" width="16" height="16" fill="#1a2863"/><rect x="528" y="192" width="16" height="16" fill="#1a2761"/><rect x="544" y="192" width="16" height="16" fill="#1a2761"/><rect x="560" y="192" width="16" height="16" fill="#192660"/><rect x="64" y="208" width="16" height="16" fill="#263d8b"/><rect x="80" y="208" width="16" height="16" fill="#263d8b"/><rect x="96" y="208" width="16" height="16" fill="#263d8c"/><rect x="112" y="208" width="16" height="16" fill="#273f8d"/><rect x="128" y="208" width="16" height="16" fill="#29428f"/><rect x="144" y="208" width="16" height="16" fill="#2a4694"/><rect x="160" y="208" width="16" height="16" fill="#2d4c9b"/><rect x="176" y="208" width="16" height="16" fill="#3156a5"/><rect x="192" y="208" width="16" height="16" fill="#345fb0"/><rect x="208" y="208" width="16" height="16" fill="#3764b6"/><rect x="224" y="208" width="16" height="16" fill="#3765b8"/><rect x="240" y="208" width="16" height="16" fill="#3662b4"/><rect x="256" y="208" width="16" height="16" fill="#325aab"/><rect x="272" y="208" width="16" height="16" fill="#2b4d9b"/><rect x="288" y="208" width="16" height="16" fill="#254490"/><rect x="304" y="208" width="16" height="16" fill="#23418c"/><rect x="320" y="208" width="16" height="16" fill="#23408b"/><rect x="336" y="208" width="16" height="16" fill="#233e86"/><rect x="352" y="208" width="16" height="16" fill="#203474"/><rect x="368" y="208" width="16" height="16" fill="#1d2b64"/><rect x="384" y="208" width="16" height="16" fill="#1c2960"/><rect x="400" y="208" width="16" height="16" fill="#1c285f"/><rect x="416" y="208" width="16" height="16" fill="#1c285f"/><rect x="432" y="208" width="16" height="16" fill="#1c2860"/><rect x="448" y="208" width="16" height="16" fill="#1c2962"/><rect x="464" y="208" width="16" height="16" fill="#1d2a66"/><rect x="480" y="208" width="16" height="16" fill="#1d2b69"/><rect x="496" y="208" width="16" height="16" fill="#1c2a68"/><rect x="512" y="208" width="16" height="16" fill="#1b2966"/><rect x="528" y="208" width="16" height="16" fill="#1b2864"/><rect x="544" y="208" width="16" height="16" fill="#1a2863"/><rect x="560" y="208" width="16" height="16" fill="#1a2761"/><rect x="64" y="224" width="16" height="16" fill="#253b89"/><rect x="80" y="224" width="16" height="16" fill="#253b89"/><rect x="96" y="224" width="16" height="16" fill="#253b89"/><rect x="112" y="224" width="16" height="16" fill="#263c8a"/><rect x="128" y="224" width="16" height="16" fill="#273e8c"/><rect x="144" y="224" width="16" height="16" fill="#28418e"/><rect x="160" y="224" width="16" height="16" fill="#2a4591"/><rect x="176" y="224" width="16" height="16" fill="#2c4a96"/><rect x="192" y="224" width="16" height="16" fill="#2e4f9b"/><rect x="208" y="224" width="16" height="16" fill="#3054a1"/><rect x="224" y="224" width="16" height="16" fill="#3157a5"/><rect x="240" y="224" width="16" height="16" fill="#2f55a3"/><rect x="256" y="224" width="16" height="16" fill="#294a97"/><rect x="272" y="224" width="16" height="16" fill="#23428c"/><rect x="288" y="224" width="16" height="16" fill="#223f89"/><rect x="304" y="224" width="16" height="16" fill="#213e88"/><rect x="320" y="224" width="16" height="16" fill="#213e88"/><rect x="336" y="224" width="16" height="16" fill="#213c84"/><rect x="352" y="224" width="16" height="16" fill="#1f3374"/><rect x="368" y="224" width="16" height="16" fill="#1d2b64"/><rect x="384" y="224" width="16" height="16" fill="#1c2860"/><rect x="400" y="224" width="16" height="16" fill="#1c285f"/><rect x="416" y="224" width="16" height="16" fill="#1c285f"/><rect x="432" y="224" width="16" height="16" fill="#1c2860"/><rect x="448" y="224" width="16" height="16" fill="#1c2963"/><rect x="464" y="224" width="16" height="16" fill="#1d2b67"/><rect x="480" y="224" width="16" height="16" fill="#1d2c6b"/><rect x="496" y="224" width="16" height="16" fill="#1d2c6b"/><rect x="512" y="224" width="16" height="16" fill="#1c2b6a"/><rect x="528" y="224" width="16" height="16" fill="#1c2a68"/><rect x="544" y="224" width="16" height="16" fill="#1b2966"/><rect x="560" y="224" width="16" height="16" fill="#1a2864"/><rect x="64" y="240" width="16" height="16" fill="#243886"/><rect x="80" y="240" width="16" height="16" fill="#243886"/><rect x="96" y="240" width="16" height="16" fill="#243886"/><rect x="112" y="240" width="16" height="16" fill="#243986"/><rect x="128" y="240" width="16" height="16" fill="#253a87"/><rect x="144" y="240" width="16" height="16" fill="#253b87"/><rect x="160" y="240" width="16" height="16" fill="#263a84"/><rect x="176" y="240" width="16" height="16" fill="#253a80"/><rect x="192" y="240" width="16" height="16" fill="#25397f"/><rect x="208" y="240" width="16" height="16" fill="#253b80"/><rect x="224" y="240" width="16" height="16" fill="#263d83"/><rect x="240" y="240" width="16" height="16" fill="#253f87"/><rect x="256" y="240" width="16" height="16" fill="#233f89"/><rect x="272" y="240" width="16" height="16" fill="#213e88"/><rect x="288" y="240" width="16" height="16" fill="#213e88"/><rect x="304" y="240" width="16" height="16" fill="#213e88"/><rect x="320" y="240" width="16" height="16" fill="#213e88"/><rect x="336" y="240" width="16" height="16" fill="#213d85"/><rect x="352" y="240" width="16" height="16" fill="#1f3679"/><rect x="368" y="240" width="16" height="16" fill="#1d2c67"/><rect x="384" y="240" width="16" height="16" fill="#1c2960"/><rect x="400" y="240" width="16" height="16" fill="#1c285f"/><rect x="416" y="240" width="16" height="16" fill="#1c285f"/><rect x="432" y="240" width="16" height="16" fill="#1c2860"/><rect x="448" y="240" width="16" height="16" fill="#1c2963"/><rect x="464" y="240" width="16" height="16" fill="#1d2b68"/><rect x="480" y="240" width="16" height="16" fill="#1d2c6b"/><rect x="496" y="240" width="16" height="16" fill="#1d2c6c"/><rect x="512" y="240" width="16" height="16" fill="#1d2c6b"/><rect x="528" y="240" width="16" height="16" fill="#1c2b6a"/><rect x="544" y="240" width="16" height="16" fill="#1c2a68"/><rect x="560" y="240" width="16" height="16" fill="#1b2966"/><rect x="64" y="256" width="16" height="16" fill="#233682"/><rect x="80" y="256" width="16" height="16" fill="#233682"/><rect x="96" y="256" width="16" height="16" fill="#233683"/><rect x="112" y="256" width="16" height="16" fill="#233683"/><rect x="128" y="256" width="16" height="16" fill="#233683"/><rect x="144" y="256" width="16" height="16" fill="#23357f"/><rect x="160" y="256" width="16" height="16" fill="#223379"/><rect x="176" y="256" width="16" height="16" fill="#213174"/><rect x="192" y="256" width="16" height="16" fill="#213072"/><rect x="208" y="256" width="16" height="16" fill="#213072"/><rect x="224" y="256" width="16" height="16" fill="#213174"/><rect x="240" y="256" width="16" height="16" fill="#21367b"/><rect x="256" y="256" width="16" height="16" fill="#213c85"/><rect x="272" y="256" width="16" height="16" fill="#213e88"/><rect x="288" y="256" width="16" height="16" fill="#213e88"/><rect x="304" y="256" width="16" height="16" fill="#213e88"/><rect x="320" y="256" width="16" height="16" fill="#213e88"/><rect x="336" y="256" width="16" height="16" fill="#213d86"/><rect x="352" y="256" width="16" height="16" fill="#20397e"/><rect x="368" y="256" width="16" height="16" fill="#1d2e6b"/><rect x="384" y="256" width="16" height="16" fill="#1c2961"/><rect x="400" y="256" width="16" height="16" fill="#1c285f"/><rect x="416" y="256" width="16" height="16" fill="#1c285f"/><rect x="432" y="256" width="16" height="16" fill="#1c2960"/><rect x="448" y="256" width="16" height="16" fill="#1d2a63"/><rect x="464" y="256" width="16" height="16" fill="#1d2b69"/><rect x="480" y="256" width="16" height="16" fill="#1e2c6c"/><rect x="496" y="256" width="16" height="16" fill="#1d2c6c"/><rect x="512" y="256" width="16" height="16" fill="#1d2c6b"/><rect x="528" y="256" width="16" height="16" fill="#1c2b6a"/><rect x="544" y="256" width="16" height="16" fill="#1b2a68"/><rect x="560" y="256" width="16" height="16" fill="#1a2966"/><rect x="64" y="272" width="16" height="16" fill="#23347f"/><rect x="80" y="272" width="16" height="16" fill="#233480"/><rect x="96" y="272" width="16" height="16" fill="#233580"/><rect x="112" y="272" width="16" height="16" fill="#233581"/><rect x="128" y="272" width="16" height="16" fill="#233480"/><rect x="144" y="272" width="16" height="16" fill="#22337b"/><rect x="160" y="272" width="16" height="16" fill="#213074"/><rect x="176" y="272" width="16" height="16" fill="#202e70"/><rect x="192" y="272" width="16" height="16" fill="#202e6f"/><rect x="208" y="272" width="16" height="16" fill="#202e6f"/><rect x="224" y="272" width="16" height="16" fill="#202f70"/><rect x="240" y="272" width="16" height="16" fill="#213378"/><rect x="256" y="272" width="16" height="16" fill="#213b83"/><rect x="272" y="272" width="16" height="16" fill="#213e87"/><rect x="288" y="272" width="16" height="16" fill="#213e88"/><rect x="304" y="272" width="16" height="16" fill="#213e88"/><rect x="320" y="272" width="16" height="16" fill="#213e88"/><rect x="336" y="272" width="16" height="16" fill="#213d87"/><rect x="352" y="272" width="16" height="16" fill="#203b82"/><rect x="368" y="272" width="16" height="16" fill="#1e3170"/><rect x="384" y="272" width="16" height="16" fill="#1c2a63"/><rect x="400" y="272" width="16" height="16" fill="#1c2960"/><rect x="416" y="272" width="16" height="16" fill="#1c2960"/><rect x="432" y="272" width="16" height="16" fill="#1c2962"/><rect x="448" y="272" width="16" height="16" fill="#1d2b65"/><rect x="464" y="272" width="16" height="16" fill="#1d2c69"/><rect x="480" y="272" width="16" height="16" fill="#1d2c6c"/><rect x="496" y="272" width="16" height="16" fill="#1d2c6b"/><rect x="512" y="272" width="16" height="16" fill="#1c2b6a"/><rect x="528" y="272" width="16" height="16" fill="#1b2a68"/><rect x="544" y="272" width="16" height="16" fill="#1a2966"/><rect x="560" y="272" width="16" height="16" fill="#1a2965"/><rect x="64" y="288" width="16" height="16" fill="#23337e"/><rect x="80" y="288" width="16" height="16" fill="#23347e"/><rect x="96" y="288" width="16" height="16" fill="#23347e"/><rect x="112" y="288" width="16" height="16" fill="#23347f"/><rect x="128" y="288" width="16" height="16" fill="#23337d"/><rect x="144" y="288" width="16" height="16" fill="#223178"/><rect x="160" y="288" width="16" height="16" fill="#212f72"/><rect x="176" y="288" width="16" height="16" fill="#202d6f"/><rect x="192" y="288" width="16" height="16" fill="#202d6e"/><rect x="208" y="288" width="16" height="16" fill="#202d6e"/><rect x="224" y="288" width="16" height="16" fill="#202e70"/><rect x="240" y="288" width="16" height="16" fill="#203276"/><rect x="256" y="288" width="16" height="16" fill="#213a82"/><rect x="272" y="288" width="16" height="16" fill="#213d87"/><rect x="288" y="288" width="16" height="16" fill="#213e88"/><rect x="304" y="288" width="16" height="16" fill="#213e88"/><rect x="320" y="288" width="16" height="16" fill="#213e88"/><rect x="336" y="288" width="16" height="16" fill="#213e87"/><rect x="352" y="288" width="16" height="16" fill="#213c84"/><rect x="368" y="288" width="16" height="16" fill="#1f3476"/><rect x="384" y="288" width="16" height="16" fill="#1d2c66"/><rect x="400" y="288" width="16" height="16" fill="#1c2a63"/><rect x="416" y="288" width="16" height="16" fill="#1d2b64"/><rect x="432" y="288" width="16" height="16" fill="#1d2c66"/><rect x="448" y="288" width="16" height="16" fill="#1d2e69"/><rect x="464" y="288" width="16" height="16" fill="#1d2e6b"/><rect x="480" y="288" width="16" height="16" fill="#1d2d6b"/><rect x="496" y="288" width="16" height="16" fill="#1c2b6a"/><rect x="512" y="288" width="16" height="16" fill="#1b2a68"/><rect x="528" y="288" width="16" height="16" fill="#1a2966"/><rect x="544" y="288" width="16" height="16" fill="#192865"/><rect x="560" y="288" width="16" height="16" fill="#192864"/><rect x="64" y="304" width="16" height="16" fill="#23337c"/><rect x="80" y="304" width="16" height="16" fill="#23337d"/><rect x="96" y="304" width="16" height="16" fill="#23337d"/><rect x="112" y="304" width="16" height="16" fill="#23337d"/><rect x="128" y="304" width="16" height="16" fill="#23337c"/><rect x="144" y="304" width="16" height="16" fill="#223076"/><rect x="160" y="304" width="16" height="16" fill="#212e71"/><rect x="176" y="304" width="16" height="16" fill="#202d6f"/><rect x="192" y="304" width="16" height="16" fill="#202d6e"/><rect x="208" y="304" width="16" height="16" fill="#202d6e"/><rect x="224" y="304" width="16" height="16" fill="#202e6f"/><rect x="240" y="304" width="16" height="16" fill="#203275"/><rect x="256" y="304" width="16" height="16" fill="#213980"/><rect x="272" y="304" width="16" height="16" fill="#213c84"/><rect x="288" y="304" width="16" height="16" fill="#213d85"/><rect x="304" y="304" width="16" height="16" fill="#213d85"/><rect x="320" y="304" width="16" height="16" fill="#213d85"/><rect x="336" y="304" width="16" height="16" fill="#213d85"/><rect x="352" y="304" width="16" height="16" fill="#203c83"/><rect x="368" y="304" width="16" height="16" fill="#1f3679"/><rect x="384" y="304" width="16" height="16" fill="#1e2f6b"/><rect x="400" y="304" width="16" height="16" fill="#1d2e69"/><rect x="416" y="304" width="16" height="16" fill="#1e306a"/><rect x="432" y="304" width="16" height="16" fill="#1e306c"/><rect x="448" y="304" width="16" height="16" fill="#1e316d"/><rect x="464" y="304" width="16" height="16" fill="#1e316d"/><rect x="480" y="304" width="16" height="16" fill="#1d2f6c"/><rect x="496" y="304" width="16" height="16" fill="#1c2c69"/><rect x="512" y="304" width="16" height="16" fill="#1a2a66"/><rect x="528" y="304" width="16" height="16" fill="#192965"/><rect x="544" y="304" width="16" height="16" fill="#192864"/><rect x="560" y="304" width="16" height="16" fill="#192864"/><rect x="64" y="320" width="16" height="16" fill="#23337b"/><rect x="80" y="320" width="16" height="16" fill="#23337c"/><rect x="96" y="320" width="16" height="16" fill="#23337c"/><rect x="112" y="320" width="16" height="16" fill="#23337c"/><rect x="128" y="320" width="16" height="16" fill="#22327a"/><rect x="144" y="320" width="16" height="16" fill="#213075"/><rect x="160" y="320" width="16" height="16" fill="#202e70"/><rect x="176" y="320" width="16" height="16" fill="#202d6f"/><rect x="192" y="320" width="16" height="16" fill="#202d6e"/><rect x="208" y="320" width="16" height="16" fill="#202d6e"/><rect x="224" y="320" width="16" height="16" fill="#202e6f"/><rect x="240" y="320" width="16" height="16" fill="#203071"/><rect x="256" y="320" width="16" height="16" fill="#203576"/><rect x="272" y="320" width="16" height="16" fill="#1f3778"/><rect x="288" y="320" width="16" height="16" fill="#1f3779"/><rect x="304" y="320" width="16" height="16" fill="#1f3779"/><rect x="320" y="320" width="16" height="16" fill="#1f3779"/><rect x="336" y="320" width="16" height="16" fill="#1f3779"/><rect x="352" y="320" width="16" height="16" fill="#1f3778"/><rect x="368" y="320" width="16" height="16" fill="#1f3473"/><rect x="384" y="320" width="16" height="16" fill="#1e316d"/><rect x="400" y="320" width="16" height="16" fill="#1e316d"/><rect x="416" y="320" width="16" height="16" fill="#1e326d"/><rect x="432" y="320" width="16" height="16" fill="#1e326d"/><rect x="448" y="320" width="16" height="16" fill="#1e326d"/><rect x="464" y="320" width="16" height="16" fill="#1e316d"/><rect x="480" y="320" width="16" height="16" fill="#1d306c"/><rect x="496" y="320" width="16" height="16" fill="#1c2d69"/><rect x="512" y="320" width="16" height="16" fill="#1a2a66"/><rect x="528" y="320" width="16" height="16" fill="#192964"/><rect x="544" y="320" width="16" height="16" fill="#192864"/><rect x="560" y="320" width="16" height="16" fill="#192864"/><rect x="64" y="336" width="16" height="16" fill="#23327b"/><rect x="80" y="336" width="16" height="16" fill="#23327b"/><rect x="96" y="336" width="16" height="16" fill="#23327b"/><rect x="112" y="336" width="16" height="16" fill="#23327b"/><rect x="128" y="336" width="16" height="16" fill="#223279"/><rect x="144" y="336" width="16" height="16" fill="#213075"/><rect x="160" y="336" width="16" height="16" fill="#202e70"/><rect x="176" y="336" width="16" height="16" fill="#202d6e"/><rect x="192" y="336" width="16" height="16" fill="#202d6e"/><rect x="208" y="336" width="16" height="16" fill="#202d6e"/><rect x="224" y="336" width="16" height="16" fill="#202d6d"/><rect x="240" y="336" width="16" height="16" fill="#1e2e68"/><rect x="256" y="336" width="16" height="16" fill="#1d2e64"/><rect x="272" y="336" width="16" height="16" fill="#1d2e64"/><rect x="288" y="336" width="16" height="16" fill="#1d2e63"/><rect x="304" y="336" width="16" height="16" fill="#1d2e63"/><rect x="320" y="336" width="16" height="16" fill="#1d2e63"/><rect x="336" y="336" width="16" height="16" fill="#1d2e63"/><rect x="352" y="336" width="16" height="16" fill="#1d2e64"/><rect x="368" y="336" width="16" height="16" fill="#1d2f67"/><rect x="384" y="336" width="16" height="16" fill="#1e316d"/><rect x="400" y="336" width="16" height="16" fill="#1e326e"/><rect x="416" y="336" width="16" height="16" fill="#1e326e"/><rect x="432" y="336" width="16" height="16" fill="#1e326e"/><rect x="448" y="336" width="16" height="16" fill="#1e326d"/><rect x="464" y="336" width="16" height="16" fill="#1e316c"/><rect x="480" y="336" width="16" height="16" fill="#1d306b"/><rect x="496" y="336" width="16" height="16" fill="#1c2e68"/><rect x="512" y="336" width="16" height="16" fill="#1b2b64"/><rect x="528" y="336" width="16" height="16" fill="#192963"/><rect x="544" y="336" width="16" height="16" fill="#192863"/><rect x="560" y="336" width="16" height="16" fill="#192864"/><rect x="64" y="352" width="16" height="16" fill="#23327a"/><rect x="80" y="352" width="16" height="16" fill="#23327a"/><rect x="96" y="352" width="16" height="16" fill="#23327a"/><rect x="112" y="352" width="16" height="16" fill="#23327a"/><rect x="128" y="352" width="16" height="16" fill="#223178"/><rect x="144" y="352" width="16" height="16" fill="#212f73"/><rect x="160" y="352" width="16" height="16" fill="#202e6f"/><rect x="176" y="352" width="16" height="16" fill="#202d6e"/><rect x="192" y="352" width="16" height="16" fill="#202d6e"/><rect x="208" y="352" width="16" height="16" fill="#202d6c"/><rect x="224" y="352" width="16" height="16" fill="#1e2c66"/><rect x="240" y="352" width="16" height="16" fill="#1d2b5e"/><rect x="256" y="352" width="16" height="16" fill="#1c2b5c"/><rect x="272" y="352" width="16" height="16" fill="#1c2b5b"/><rect x="288" y="352" width="16" height="16" fill="#1c2b5b"/><rect x="304" y="352" width="16" height="16" fill="#1c2b5b"/><rect x="320" y="352" width="16" height="16" fill="#1c2b5b"/><rect x="336" y="352" width="16" height="16" fill="#1c2b5b"/><rect x="352" y="352" width="16" height="16" fill="#1c2b5c"/><rect x="368" y="352" width="16" height="16" fill="#1d2d60"/><rect x="384" y="352" width="16" height="16" fill="#1e316b"/><rect x="400" y="352" width="16" height="16" fill="#1e326d"/><rect x="416" y="352" width="16" height="16" fill="#1e326d"/><rect x="432" y="352" width="16" height="16" fill="#1e326d"/><rect x="448" y="352" width="16" height="16" fill="#1e316c"/><rect x="464" y="352" width="16" height="16" fill="#1d306a"/><rect x="480" y="352" width="16" height="16" fill="#1d2f67"/><rect x="496" y="352" width="16" height="16" fill="#1c2d62"/><rect x="512" y="352" width="16" height="16" fill="#1b2a5e"/><rect x="528" y="352" width="16" height="16" fill="#1a295e"/><rect x="544" y="352" width="16" height="16" fill="#192860"/><rect x="560" y="352" width="16" height="16" fill="#192862"/><rect x="64" y="368" width="16" height="16" fill="#213171"/><rect x="80" y="368" width="16" height="16" fill="#213171"/><rect x="96" y="368" width="16" height="16" fill="#213171"/><rect x="112" y="368" width="16" height="16" fill="#21306f"/><rect x="128" y="368" width="16" height="16" fill="#202e69"/><rect x="144" y="368" width="16" height="16" fill="#1f2d64"/><rect x="160" y="368" width="16" height="16" fill="#1f2c63"/><rect x="176" y="368" width="16" height="16" fill="#1f2c65"/><rect x="192" y="368" width="16" height="16" fill="#1f2c67"/><rect x="208" y="368" width="16" height="16" fill="#1e2c65"/><rect x="224" y="368" width="16" height="16" fill="#1d2b5d"/><rect x="240" y="368" width="16" height="16" fill="#1c2a5b"/><rect x="256" y="368" width="16" height="16" fill="#1c2a5a"/><rect x="272" y="368" width="16" height="16" fill="#1c2a5a"/><rect x="288" y="368" width="16" height="16" fill="#1c2a5a"/><rect x="304" y="368" width="16" height="16" fill="#1c2a5a"/><rect x="320" y="368" width="16" height="16" fill="#1c2a5a"/><rect x="336" y="368" width="16" height="16" fill="#1c2a5a"/><rect x="352" y="368" width="16" height="16" fill="#1c2a5a"/><rect x="368" y="368" width="16" height="16" fill="#1c2b5d"/><rect x="384" y="368" width="16" height="16" fill="#1d3068"/><rect x="400" y="368" width="16" height="16" fill="#1e316d"/><rect x="416" y="368" width="16" height="16" fill="#1e316c"/><rect x="432" y="368" width="16" height="16" fill="#1d316b"/><rect x="448" y="368" width="16" height="16" fill="#1d3068"/><rect x="464" y="368" width="16" height="16" fill="#1c2e64"/><rect x="480" y="368" width="16" height="16" fill="#1c2c5f"/><rect x="496" y="368" width="16" height="16" fill="#1b2a5a"/><rect x="512" y="368" width="16" height="16" fill="#1a2857"/><rect x="528" y="368" width="16" height="16" fill="#192755"/><rect x="544" y="368" width="16" height="16" fill="#192757"/><rect x="560" y="368" width="16" height="16" fill="#19275b"/><rect x="64" y="384" width="16" height="16" fill="#1e3064"/><rect x="80" y="384" width="16" height="16" fill="#1e3063"/><rect x="96" y="384" width="16" height="16" fill="#1e2f62"/><rect x="112" y="384" width="16" height="16" fill="#1e2e5f"/><rect x="128" y="384" width="16" height="16" fill="#1e2c5c"/><rect x="144" y="384" width="16" height="16" fill="#1e2b5a"/><rect x="160" y="384" width="16" height="16" fill="#1e2a59"/><rect x="176" y="384" width="16" height="16" fill="#1e2a59"/><rect x="192" y="384" width="16" height="16" fill="#1e2a5a"/><rect x="208" y="384" width="16" height="16" fill="#1d2a5b"/><rect x="224" y="384" width="16" height="16" fill="#1c2a5b"/><rect x="240" y="384" width="16" height="16" fill="#1c2a5a"/><rect x="256" y="384" width="16" height="16" fill="#1c2a5a"/><rect x="272" y="384" width="16" height="16" fill="#1c2a5a"/><rect x="288" y="384" width="16" height="16" fill="#1c2a5a"/><rect x="304" y="384" width="16" height="16" fill="#1c2a5a"/><rect x="320" y="384" width="16" height="16" fill="#1c2a5a"/><rect x="336" y="384" width="16" height="16" fill="#1c2a5a"/><rect x="352" y="384" width="16" height="16" fill="#1c2a5a"/><rect x="368" y="384" width="16" height="16" fill="#1c2b5c"/><rect x="384" y="384" width="16" height="16" fill="#1d2e65"/><rect x="400" y="384" width="16" height="16" fill="#1e316b"/><rect x="416" y="384" width="16" height="16" fill="#1d306a"/><rect x="432" y="384" width="16" height="16" fill="#1d2f67"/><rect x="448" y="384" width="16" height="16" fill="#1c2d62"/><rect x="464" y="384" width="16" height="16" fill="#1b2b5d"/><rect x="480" y="384" width="16" height="16" fill="#1a2958"/><rect x="496" y="384" width="16" height="16" fill="#1a2854"/><rect x="512" y="384" width="16" height="16" fill="#192752"/><rect x="528" y="384" width="16" height="16" fill="#192650"/><rect x="544" y="384" width="16" height="16" fill="#192650"/><rect x="560" y="384" width="16" height="16" fill="#182650"/><rect x="64" y="400" width="16" height="16" fill="#1e3062"/><rect x="80" y="400" width="16" height="16" fill="#1e3062"/><rect x="96" y="400" width="16" height="16" fill="#1e2f60"/><rect x="112" y="400" width="16" height="16" fill="#1e2d5e"/><rect x="128" y="400" width="16" height="16" fill="#1e2c5b"/><rect x="144" y="400" width="16" height="16" fill="#1e2b59"/><rect x="160" y="400" width="16" height="16" fill="#1e2a58"/><rect x="176" y="400" width="16" height="16" fill="#1e2a58"/><rect x="192" y="400" width="16" height="16" fill="#1e2a58"/><rect x="208" y="400" width="16" height="16" fill="#1e2a59"/><rect x="224" y="400" width="16" height="16" fill="#1d2a5a"/><rect x="240" y="400" width="16" height="16" fill="#1c2a5a"/><rect x="256" y="400" width="16" height="16" fill="#1c2a5a"/><rect x="272" y="400" width="16" height="16" fill="#1c2a5a"/><rect x="288" y="400" width="16" height="16" fill="#1c2a5a"/><rect x="304" y="400" width="16" height="16" fill="#1c2a5a"/><rect x="320" y="400" width="16" height="16" fill="#1c2a5a"/><rect x="336" y="400" width="16" height="16" fill="#1c2a5a"/><rect x="352" y="400" width="16" height="16" fill="#1c2a5a"/><rect x="368" y="400" width="16" height="16" fill="#1c2a5b"/><rect x="384" y="400" width="16" height="16" fill="#1d2d61"/><rect x="400" y="400" width="16" height="16" fill="#1d2f67"/><rect x="416" y="400" width="16" height="16" fill="#1c2e64"/><rect x="432" y="400" width="16" height="16" fill="#1c2c5f"/><rect x="448" y="400" width="16" height="16" fill="#1b2a5a"/><rect x="464" y="400" width="16" height="16" fill="#1a2856"/><rect x="480" y="400" width="16" height="16" fill="#192753"/><rect x="496" y="400" width="16" height="16" fill="#192651"/><rect x="512" y="400" width="16" height="16" fill="#19264f"/><rect x="528" y="400" width="16" height="16" fill="#18254e"/><rect x="544" y="400" width="16" height="16" fill="#18254c"/><rect x="560" y="400" width="16" height="16" fill="#17244b"/><rect x="64" y="416" width="16" height="16" fill="#1e3062"/><rect x="80" y="416" width="16" height="16" fill="#1e3061"/><rect x="96" y="416" width="16" height="16" fill="#1e2f60"/><rect x="112" y="416" width="16" height="16" fill="#1e2d5e"/><rect x="128" y="416" width="16" height="16" fill="#1e2c5b"/><rect x="144" y="416" width="16" height="16" fill="#1e2b59"/><rect x="160" y="416" width="16" height="16" fill="#1e2a58"/><rect x="176" y="416" width="16" height="16" fill="#1e2a58"/><rect x="192" y="416" width="16" height="16" fill="#1e2a58"/><rect x="208" y="416" width="16" height="16" fill="#1e2a58"/><rect x="224" y="416" width="16" height="16" fill="#1d2a59"/><rect x="240" y="416" width="16" height="16" fill="#1c2a5a"/><rect x="256" y="416" width="16" height="16" fill="#1c2a5a"/><rect x="272" y="416" width="16" height="16" fill="#1c2a5a"/><rect x="288" y="416" width="16" height="16" fill="#1c2a5a"/><rect x="304" y="416" width="16" height="16" fill="#1c2a5a"/><rect x="320" y="416" width="16" height="16" fill="#1c2a5a"/><rect x="336" y="416" width="16" height="16" fill="#1c2a5a"/><rect x="352" y="416" width="16" height="16" fill="#1c2a5a"/><rect x="368" y="416" width="16" height="16" fill="#1c2a5a"/><rect x="384" y="416" width="16" height="16" fill="#1c2c5e"/><rect x="400" y="416" width="16" height="16" fill="#1c2d61"/><rect x="416" y="416" width="16" height="16" fill="#1b2b5d"/><rect x="432" y="416" width="16" height="16" fill="#1a2958"/><rect x="448" y="416" width="16" height="16" fill="#1a2854"/><rect x="464" y="416" width="16" height="16" fill="#192752"/><rect x="480" y="416" width="16" height="16" fill="#192650"/><rect x="496" y="416" width="16" height="16" fill="#18264f"/><rect x="512" y="416" width="16" height="16" fill="#18254d"/><rect x="528" y="416" width="16" height="16" fill="#18254b"/><rect x="544" y="416" width="16" height="16" fill="#17244a"/><rect x="560" y="416" width="16" height="16" fill="#172449"/><rect x="64" y="432" width="16" height="16" fill="#1e3062"/><rect x="80" y="432" width="16" height="16" fill="#1e3061"/><rect x="96" y="432" width="16" height="16" fill="#1e2f60"/><rect x="112" y="432" width="16" height="16" fill="#1e2d5e"/><rect x="128" y="432" width="16" height="16" fill="#1e2c5b"/><rect x="144" y="432" width="16" height="16" fill="#1e2b59"/><rect x="160" y="432" width="16" height="16" fill="#1e2a58"/><rect x="176" y="432" width="16" height="16" fill="#1e2a58"/><rect x="192" y="432" width="16" height="16" fill="#1e2a58"/><rect x="208" y="432" width="16" height="16" fill="#1e2a58"/><rect x="224" y="432" width="16" height="16" fill="#1e2a58"/><rect x="240" y="432" width="16" height="16" fill="#1c2a5a"/><rect x="256" y="432" width="16" height="16" fill="#1c2a5a"/><rect x="272" y="432" width="16" height="16" fill="#1c2a5a"/><rect x="288" y="432" width="16" height="16" fill="#1c2a5a"/><rect x="304" y="432" width="16" height="16" fill="#1c2a5a"/><rect x="320" y="432" width="16" height="16" fill="#1c2a5a"/><rect x="336" y="432" width="16" height="16" fill="#1c2a5a"/><rect x="352" y="432" width="16" height="16" fill="#1c2a5a"/><rect x="368" y="432" width="16" height="16" fill="#1c2a5a"/><rect x="384" y="432" width="16" height="16" fill="#1c2b5b"/><rect x="400" y="432" width="16" height="16" fill="#1b2a5a"/><rect x="416" y="432" width="16" height="16" fill="#1a2856"/><rect x="432" y="432" width="16" height="16" fill="#192753"/><rect x="448" y="432" width="16" height="16" fill="#192651"/><rect x="464" y="432" width="16" height="16" fill="#19264f"/><rect x="480" y="432" width="16" height="16" fill="#18254e"/><rect x="496" y="432" width="16" height="16" fill="#18254c"/><rect x="512" y="432" width="16" height="16" fill="#17244b"/><rect x="528" y="432" width="16" height="16" fill="#172449"/><rect x="544" y="432" width="16" height="16" fill="#172448"/><rect x="560" y="432" width="16" height="16" fill="#162347"/><rect x="64" y="448" width="16" height="16" fill="#1e3062"/><rect x="80" y="448" width="16" height="16" fill="#1e3061"/><rect x="96" y="448" width="16" height="16" fill="#1e2f60"/><rect x="112" y="448" width="16" height="16" fill="#1e2e5e"/><rect x="128" y="448" width="16" height="16" fill="#1e2c5b"/><rect x="144" y="448" width="16" height="16" fill="#1e2b59"/><rect x="160" y="448" width="16" height="16" fill="#1e2a58"/><rect x="176" y="448" width="16" height="16" fill="#1e2a58"/><rect x="192" y="448" width="16" height="16" fill="#1e2a58"/><rect x="208" y="448" width="16" height="16" fill="#1e2a58"/><rect x="224" y="448" width="16" height="16" fill="#1e2a58"/><rect x="240" y="448" width="16" height="16" fill="#1d2a59"/><rect x="256" y="448" width="16" height="16" fill="#1c2a5a"/><rect x="272" y="448" width="16" height="16" fill="#1c2a5a"/><rect x="288" y="448" width="16" height="16" fill="#1c2a5a"/><rect x="304" y="448" width="16" height="16" fill="#1c2a5a"/><rect x="320" y="448" width="16" height="16" fill="#1c2a5a"/><rect x="336" y="448" width="16" height="16" fill="#1c2a5a"/><rect x="352" y="448" width="16" height="16" fill="#1c2a5a"/><rect x="368" y="448" width="16" height="16" fill="#1c2a5a"/><rect x="384" y="448" width="16" height="16" fill="#1c2a5a"/><rect x="400" y="448" width="16" height="16" fill="#1a2855"/><rect x="416" y="448" width="16" height="16" fill="#192752"/><rect x="432" y="448" width="16" height="16" fill="#192650"/><rect x="448" y="448" width="16" height="16" fill="#18264f"/><rect x="464" y="448" width="16" height="16" fill="#18254d"/><rect x="480" y="448" width="16" height="16" fill="#18254b"/><rect x="496" y="448" width="16" height="16" fill="#17244a"/><rect x="512" y="448" width="16" height="16" fill="#172448"/><rect x="528" y="448" width="16" height="16" fill="#162347"/><rect x="544" y="448" width="16" height="16" fill="#162347"/><rect x="560" y="448" width="16" height="16" fill="#162346"/><rect x="64" y="464" width="16" height="16" fill="#1e3062"/><rect x="80" y="464" width="16" height="16" fill="#1e3061"/><rect x="96" y="464" width="16" height="16" fill="#1e2f60"/><rect x="112" y="464" width="16" height="16" fill="#1e2e5e"/><rect x="128" y="464" width="16" height="16" fill="#1e2c5b"/><rect x="144" y="464" width="16" height="16" fill="#1e2b59"/><rect x="160" y="464" width="16" height="16" fill="#1e2a58"/><rect x="176" y="464" width="16" height="16" fill="#1e2a58"/><rect x="192" y="464" width="16" height="16" fill="#1e2a58"/><rect x="208" y="464" width="16" height="16" fill="#1e2a58"/><rect x="224" y="464" width="16" height="16" fill="#1e2a58"/><rect x="240" y="464" width="16" height="16" fill="#1e2a59"/><rect x="256" y="464" width="16" height="16" fill="#1c2a5a"/><rect x="272" y="464" width="16" height="16" fill="#1c2a5a"/><rect x="288" y="464" width="16" height="16" fill="#1c2a5a"/><rect x="304" y="464" width="16" height="16" fill="#1c2a5a"/><rect x="320" y="464" width="16" height="16" fill="#1c2a5a"/><rect x="336" y="464" width="16" height="16" fill="#1c2a5a"/><rect x="352" y="464" width="16" height="16" fill="#1c2a5a"/><rect x="368" y="464" width="16" height="16" fill="#1c2a5a"/><rect x="384" y="464" width="16" height="16" fill="#1c2a59"/><rect x="400" y="464" width="16" height="16" fill="#1a2753"/><rect x="416" y="464" width="16" height="16" fill="#192650"/><rect x="432" y="464" width="16" height="16" fill="#18254e"/><rect x="448" y="464" width="16" height="16" fill="#18254c"/><rect x="464" y="464" width="16" height="16" fill="#17244b"/><rect x="480" y="464" width="16" height="16" fill="#172449"/><rect x="496" y="464" width="16" height="16" fill="#172448"/><rect x="512" y="464" width="16" height="16" fill="#162347"/><rect x="528" y="464" width="16" height="16" fill="#162347"/><rect x="544" y="464" width="16" height="16" fill="#162346"/><rect x="560" y="464" width="16" height="16" fill="#162346"/><rect x="64" y="480" width="16" height="16" fill="#1e3062"/><rect x="80" y="480" width="16" height="16" fill="#1e3061"/><rect x="96" y="480" width="16" height="16" fill="#1e2f60"/><rect x="112" y="480" width="16" height="16" fill="#1e2e5e"/><rect x="128" y="480" width="16" height="16" fill="#1e2c5b"/><rect x="144" y="480" width="16" height="16" fill="#1e2b59"/><rect x="160" y="480" width="16" height="16" fill="#1e2a58"/><rect x="176" y="480" width="16" height="16" fill="#1e2a58"/><rect x="192" y="480" width="16" height="16" fill="#1e2a58"/><rect x="208" y="480" width="16" height="16" fill="#1e2a58"/><rect x="224" y="480" width="16" height="16" fill="#1e2a58"/><rect x="240" y="480" width="16" height="16" fill="#1e2a58"/><rect x="256" y="480" width="16" height="16" fill="#1d2a59"/><rect x="272" y="480" width="16" height="16" fill="#1c2a5a"/><rect x="288" y="480" width="16" height="16" fill="#1c2a5a"/><rect x="304" y="480" width="16" height="16" fill="#1c2a5a"/><rect x="320" y="480" width="16" height="16" fill="#1c2a5a"/><rect x="336" y="480" width="16" height="16" fill="#1c2a5a"/><rect x="352" y="480" width="16" height="16" fill="#1c2a5b"/><rect x="368" y="480" width="16" height="16" fill="#1c2b5c"/><rect x="384" y="480" width="16" height="16" fill="#1c2b5b"/><rect x="400" y="480" width="16" height="16" fill="#192752"/><rect x="416" y="480" width="16" height="16" fill="#18254e"/><rect x="432" y="480" width="16" height="16" fill="#18254c"/><rect x="448" y="480" width="16" height="16" fill="#17244a"/><rect x="464" y="480" width="16" height="16" fill="#172448"/><rect x="480" y="480" width="16" height="16" fill="#162347"/><rect x="496" y="480" width="16" height="16" fill="#162347"/><rect x="512" y="480" width="16" height="16" fill="#162346"/><rect x="528" y="480" width="16" height="16" fill="#162346"/><rect x="544" y="480" width="16" height="16" fill="#162346"/><rect x="560" y="480" width="16" height="16" fill="#162346"/></g>
<!-- BG END -->
<rect x="80" y="200" width="480" height="160" fill="url(#beam)"/>
<rect x="80" y="0" width="480" height="480" fill="url(#glow1)" opacity="0.55"/>

<!-- TEX START -->
<g fill="#6aa8f0" filter="url(#dotblur)"><rect x="262.2" y="249.4" width="1.4" height="0.9" transform="rotate(28 262.7 249.8)" opacity="0.14"/><rect x="264.7" y="249.4" width="1.4" height="0.9" transform="rotate(28 265.3 249.8)" opacity="0.19"/><rect x="267.2" y="249.4" width="1.4" height="0.9" transform="rotate(28 267.8 249.8)" opacity="0.28"/><rect x="269.8" y="249.4" width="1.4" height="0.9" transform="rotate(28 270.3 249.8)" opacity="0.22"/><rect x="272.1" y="249.4" width="1.4" height="0.9" transform="rotate(28 272.6 249.8)" opacity="0.25"/><rect x="273.9" y="249.4" width="1.4" height="0.9" transform="rotate(28 274.5 249.8)" opacity="0.29"/><rect x="277.0" y="249.4" width="1.4" height="0.9" transform="rotate(28 277.6 249.8)" opacity="0.29"/><rect x="279.5" y="249.4" width="1.4" height="0.9" transform="rotate(28 280.0 249.8)" opacity="0.22"/><rect x="281.5" y="249.4" width="1.4" height="0.9" transform="rotate(28 282.0 249.8)" opacity="0.18"/><rect x="284.1" y="249.4" width="1.4" height="0.9" transform="rotate(28 284.6 249.8)" opacity="0.18"/><rect x="285.9" y="249.4" width="1.4" height="0.9" transform="rotate(28 286.5 249.8)" opacity="0.21"/><rect x="288.4" y="249.4" width="1.4" height="0.9" transform="rotate(28 288.9 249.8)" opacity="0.23"/><rect x="290.7" y="249.4" width="1.4" height="0.9" transform="rotate(28 291.2 249.8)" opacity="0.18"/><rect x="293.2" y="249.4" width="1.4" height="0.9" transform="rotate(28 293.7 249.8)" opacity="0.20"/><rect x="295.8" y="249.4" width="1.4" height="0.9" transform="rotate(28 296.3 249.8)" opacity="0.20"/><rect x="298.7" y="249.4" width="1.4" height="0.9" transform="rotate(28 299.2 249.8)" opacity="0.32"/><rect x="300.4" y="249.4" width="1.4" height="0.9" transform="rotate(28 300.9 249.8)" opacity="0.25"/><rect x="303.0" y="249.4" width="1.4" height="0.9" transform="rotate(28 303.5 249.8)" opacity="0.29"/><rect x="305.1" y="249.4" width="1.4" height="0.9" transform="rotate(28 305.7 249.8)" opacity="0.40"/><rect x="308.4" y="249.4" width="1.4" height="0.9" transform="rotate(28 308.9 249.8)" opacity="0.33"/><rect x="310.3" y="249.4" width="1.4" height="0.9" transform="rotate(28 310.8 249.8)" opacity="0.25"/><rect x="312.3" y="249.4" width="1.4" height="0.9" transform="rotate(28 312.8 249.8)" opacity="0.31"/><rect x="314.8" y="249.4" width="1.4" height="0.9" transform="rotate(28 315.4 249.8)" opacity="0.44"/><rect x="317.1" y="249.4" width="1.4" height="0.9" transform="rotate(28 317.7 249.8)" opacity="0.25"/><rect x="320.3" y="249.4" width="1.4" height="0.9" transform="rotate(28 320.9 249.8)" opacity="0.39"/><rect x="321.9" y="249.4" width="1.4" height="0.9" transform="rotate(28 322.5 249.8)" opacity="0.40"/><rect x="324.2" y="249.4" width="1.4" height="0.9" transform="rotate(28 324.7 249.8)" opacity="0.40"/><rect x="327.5" y="249.4" width="1.4" height="0.9" transform="rotate(28 328.1 249.8)" opacity="0.50"/><rect x="254.3" y="252.1" width="1.4" height="0.9" transform="rotate(28 254.8 252.6)" opacity="0.25"/><rect x="256.8" y="252.1" width="1.4" height="0.9" transform="rotate(28 257.4 252.6)" opacity="0.21"/><rect x="259.8" y="252.1" width="1.4" height="0.9" transform="rotate(28 260.4 252.6)" opacity="0.28"/><rect x="262.2" y="252.1" width="1.4" height="0.9" transform="rotate(28 262.7 252.6)" opacity="0.27"/><rect x="265.2" y="252.1" width="1.4" height="0.9" transform="rotate(28 265.8 252.6)" opacity="0.24"/><rect x="267.6" y="252.1" width="1.4" height="0.9" transform="rotate(28 268.1 252.6)" opacity="0.20"/><rect x="269.9" y="252.1" width="1.4" height="0.9" transform="rotate(28 270.5 252.6)" opacity="0.18"/><rect x="272.6" y="252.1" width="1.4" height="0.9" transform="rotate(28 273.2 252.6)" opacity="0.28"/><rect x="275.5" y="252.1" width="1.4" height="0.9" transform="rotate(28 276.0 252.6)" opacity="0.19"/><rect x="278.0" y="252.1" width="1.4" height="0.9" transform="rotate(28 278.6 252.6)" opacity="0.31"/><rect x="281.5" y="252.1" width="1.4" height="0.9" transform="rotate(28 282.0 252.6)" opacity="0.29"/><rect x="283.6" y="252.1" width="1.4" height="0.9" transform="rotate(28 284.1 252.6)" opacity="0.22"/><rect x="286.3" y="252.1" width="1.4" height="0.9" transform="rotate(28 286.8 252.6)" opacity="0.27"/><rect x="288.8" y="252.1" width="1.4" height="0.9" transform="rotate(28 289.4 252.6)" opacity="0.27"/><rect x="291.6" y="252.1" width="1.4" height="0.9" transform="rotate(28 292.2 252.6)" opacity="0.38"/><rect x="295.0" y="252.1" width="1.4" height="0.9" transform="rotate(28 295.6 252.6)" opacity="0.31"/><rect x="297.0" y="252.1" width="1.4" height="0.9" transform="rotate(28 297.5 252.6)" opacity="0.41"/><rect x="299.7" y="252.1" width="1.4" height="0.9" transform="rotate(28 300.3 252.6)" opacity="0.29"/><rect x="302.1" y="252.1" width="1.4" height="0.9" transform="rotate(28 302.6 252.6)" opacity="0.30"/><rect x="305.3" y="252.1" width="1.4" height="0.9" transform="rotate(28 305.8 252.6)" opacity="0.34"/><rect x="307.7" y="252.1" width="1.4" height="0.9" transform="rotate(28 308.2 252.6)" opacity="0.35"/><rect x="310.2" y="252.1" width="1.4" height="0.9" transform="rotate(28 310.7 252.6)" opacity="0.30"/><rect x="312.9" y="252.1" width="1.4" height="0.9" transform="rotate(28 313.5 252.6)" opacity="0.35"/><rect x="315.6" y="252.1" width="1.4" height="0.9" transform="rotate(28 316.1 252.6)" opacity="0.26"/><rect x="318.5" y="252.1" width="1.4" height="0.9" transform="rotate(28 319.1 252.6)" opacity="0.32"/><rect x="321.5" y="252.1" width="1.4" height="0.9" transform="rotate(28 322.0 252.6)" opacity="0.41"/><rect x="324.3" y="252.1" width="1.4" height="0.9" transform="rotate(28 324.9 252.6)" opacity="0.45"/><rect x="327.0" y="252.1" width="1.4" height="0.9" transform="rotate(28 327.5 252.6)" opacity="0.52"/><rect x="329.3" y="252.1" width="1.4" height="0.9" transform="rotate(28 329.9 252.6)" opacity="0.37"/><rect x="332.6" y="252.1" width="1.4" height="0.9" transform="rotate(28 333.2 252.6)" opacity="0.32"/><rect x="248.7" y="255.1" width="1.4" height="0.9" transform="rotate(28 249.2 255.5)" opacity="0.14"/><rect x="251.5" y="255.1" width="1.4" height="0.9" transform="rotate(28 252.0 255.5)" opacity="0.28"/><rect x="254.9" y="255.1" width="1.4" height="0.9" transform="rotate(28 255.5 255.5)" opacity="0.27"/><rect x="258.1" y="255.1" width="1.4" height="0.9" transform="rotate(28 258.6 255.5)" opacity="0.19"/><rect x="260.2" y="255.1" width="1.4" height="0.9" transform="rotate(28 260.7 255.5)" opacity="0.18"/><rect x="263.6" y="255.1" width="1.4" height="0.9" transform="rotate(28 264.2 255.5)" opacity="0.26"/><rect x="267.0" y="255.1" width="1.4" height="0.9" transform="rotate(28 267.6 255.5)" opacity="0.28"/><rect x="269.7" y="255.1" width="1.4" height="0.9" transform="rotate(28 270.3 255.5)" opacity="0.29"/><rect x="272.5" y="255.1" width="1.4" height="0.9" transform="rotate(28 273.1 255.5)" opacity="0.26"/><rect x="275.1" y="255.1" width="1.4" height="0.9" transform="rotate(28 275.6 255.5)" opacity="0.31"/><rect x="278.3" y="255.1" width="1.4" height="0.9" transform="rotate(28 278.8 255.5)" opacity="0.34"/><rect x="281.7" y="255.1" width="1.4" height="0.9" transform="rotate(28 282.2 255.5)" opacity="0.24"/><rect x="284.2" y="255.1" width="1.4" height="0.9" transform="rotate(28 284.7 255.5)" opacity="0.24"/><rect x="287.7" y="255.1" width="1.4" height="0.9" transform="rotate(28 288.2 255.5)" opacity="0.34"/><rect x="290.1" y="255.1" width="1.4" height="0.9" transform="rotate(28 290.7 255.5)" opacity="0.22"/><rect x="293.5" y="255.1" width="1.4" height="0.9" transform="rotate(28 294.1 255.5)" opacity="0.34"/><rect x="296.4" y="255.1" width="1.4" height="0.9" transform="rotate(28 297.0 255.5)" opacity="0.27"/><rect x="299.6" y="255.1" width="1.4" height="0.9" transform="rotate(28 300.2 255.5)" opacity="0.23"/><rect x="302.3" y="255.1" width="1.4" height="0.9" transform="rotate(28 302.9 255.5)" opacity="0.34"/><rect x="306.0" y="255.1" width="1.4" height="0.9" transform="rotate(28 306.5 255.5)" opacity="0.40"/><rect x="308.9" y="255.1" width="1.4" height="0.9" transform="rotate(28 309.4 255.5)" opacity="0.37"/><rect x="311.2" y="255.1" width="1.4" height="0.9" transform="rotate(28 311.8 255.5)" opacity="0.32"/><rect x="314.9" y="255.1" width="1.4" height="0.9" transform="rotate(28 315.5 255.5)" opacity="0.45"/><rect x="317.3" y="255.1" width="1.4" height="0.9" transform="rotate(28 317.8 255.5)" opacity="0.27"/><rect x="320.5" y="255.1" width="1.4" height="0.9" transform="rotate(28 321.0 255.5)" opacity="0.46"/><rect x="323.4" y="255.1" width="1.4" height="0.9" transform="rotate(28 323.9 255.5)" opacity="0.35"/><rect x="326.6" y="255.1" width="1.4" height="0.9" transform="rotate(28 327.2 255.5)" opacity="0.54"/><rect x="329.2" y="255.1" width="1.4" height="0.9" transform="rotate(28 329.7 255.5)" opacity="0.29"/><rect x="332.3" y="255.1" width="1.4" height="0.9" transform="rotate(28 332.8 255.5)" opacity="0.41"/><rect x="335.6" y="255.1" width="1.4" height="0.9" transform="rotate(28 336.2 255.5)" opacity="0.34"/><rect x="240.0" y="258.2" width="1.4" height="0.9" transform="rotate(28 240.5 258.6)" opacity="0.17"/><rect x="242.6" y="258.2" width="1.4" height="0.9" transform="rotate(28 243.2 258.6)" opacity="0.19"/><rect x="246.6" y="258.2" width="1.4" height="0.9" transform="rotate(28 247.2 258.6)" opacity="0.18"/><rect x="249.6" y="258.2" width="1.4" height="0.9" transform="rotate(28 250.1 258.6)" opacity="0.18"/><rect x="253.4" y="258.2" width="1.4" height="0.9" transform="rotate(28 253.9 258.6)" opacity="0.24"/><rect x="256.0" y="258.2" width="1.4" height="0.9" transform="rotate(28 256.5 258.6)" opacity="0.17"/><rect x="259.6" y="258.2" width="1.4" height="0.9" transform="rotate(28 260.2 258.6)" opacity="0.25"/><rect x="263.2" y="258.2" width="1.4" height="0.9" transform="rotate(28 263.7 258.6)" opacity="0.18"/><rect x="266.0" y="258.2" width="1.4" height="0.9" transform="rotate(28 266.6 258.6)" opacity="0.29"/><rect x="269.6" y="258.2" width="1.4" height="0.9" transform="rotate(28 270.1 258.6)" opacity="0.23"/><rect x="272.8" y="258.2" width="1.4" height="0.9" transform="rotate(28 273.4 258.6)" opacity="0.35"/><rect x="276.1" y="258.2" width="1.4" height="0.9" transform="rotate(28 276.7 258.6)" opacity="0.29"/><rect x="279.5" y="258.2" width="1.4" height="0.9" transform="rotate(28 280.1 258.6)" opacity="0.28"/><rect x="283.3" y="258.2" width="1.4" height="0.9" transform="rotate(28 283.9 258.6)" opacity="0.40"/><rect x="286.2" y="258.2" width="1.4" height="0.9" transform="rotate(28 286.7 258.6)" opacity="0.25"/><rect x="289.8" y="258.2" width="1.4" height="0.9" transform="rotate(28 290.4 258.6)" opacity="0.26"/><rect x="292.4" y="258.2" width="1.4" height="0.9" transform="rotate(28 293.0 258.6)" opacity="0.42"/><rect x="296.2" y="258.2" width="1.4" height="0.9" transform="rotate(28 296.7 258.6)" opacity="0.42"/><rect x="299.5" y="258.2" width="1.4" height="0.9" transform="rotate(28 300.0 258.6)" opacity="0.45"/><rect x="302.8" y="258.2" width="1.4" height="0.9" transform="rotate(28 303.4 258.6)" opacity="0.29"/><rect x="305.7" y="258.2" width="1.4" height="0.9" transform="rotate(28 306.3 258.6)" opacity="0.40"/><rect x="309.7" y="258.2" width="1.4" height="0.9" transform="rotate(28 310.2 258.6)" opacity="0.50"/><rect x="312.4" y="258.2" width="1.4" height="0.9" transform="rotate(28 313.0 258.6)" opacity="0.44"/><rect x="316.0" y="258.2" width="1.4" height="0.9" transform="rotate(28 316.6 258.6)" opacity="0.42"/><rect x="319.1" y="258.2" width="1.4" height="0.9" transform="rotate(28 319.7 258.6)" opacity="0.36"/><rect x="322.8" y="258.2" width="1.4" height="0.9" transform="rotate(28 323.4 258.6)" opacity="0.55"/><rect x="325.7" y="258.2" width="1.4" height="0.9" transform="rotate(28 326.3 258.6)" opacity="0.43"/><rect x="329.8" y="258.2" width="1.4" height="0.9" transform="rotate(28 330.3 258.6)" opacity="0.57"/><rect x="332.5" y="258.2" width="1.4" height="0.9" transform="rotate(28 333.0 258.6)" opacity="0.33"/><rect x="336.5" y="258.2" width="1.4" height="0.9" transform="rotate(28 337.1 258.6)" opacity="0.57"/><rect x="339.4" y="258.2" width="1.4" height="0.9" transform="rotate(28 339.9 258.6)" opacity="0.30"/><rect x="343.2" y="258.2" width="1.4" height="0.9" transform="rotate(28 343.7 258.6)" opacity="0.39"/><rect x="230.4" y="261.4" width="1.4" height="0.9" transform="rotate(28 231.0 261.9)" opacity="0.18"/><rect x="233.7" y="261.4" width="1.4" height="0.9" transform="rotate(28 234.3 261.9)" opacity="0.24"/><rect x="237.9" y="261.4" width="1.4" height="0.9" transform="rotate(28 238.5 261.9)" opacity="0.20"/><rect x="241.7" y="261.4" width="1.4" height="0.9" transform="rotate(28 242.2 261.9)" opacity="0.22"/><rect x="245.6" y="261.4" width="1.4" height="0.9" transform="rotate(28 246.2 261.9)" opacity="0.27"/><rect x="248.6" y="261.4" width="1.4" height="0.9" transform="rotate(28 249.2 261.9)" opacity="0.30"/><rect x="252.1" y="261.4" width="1.4" height="0.9" transform="rotate(28 252.6 261.9)" opacity="0.25"/><rect x="256.1" y="261.4" width="1.4" height="0.9" transform="rotate(28 256.6 261.9)" opacity="0.21"/><rect x="259.4" y="261.4" width="1.4" height="0.9" transform="rotate(28 260.0 261.9)" opacity="0.31"/><rect x="263.0" y="261.4" width="1.4" height="0.9" transform="rotate(28 263.6 261.9)" opacity="0.28"/><rect x="267.6" y="261.4" width="1.4" height="0.9" transform="rotate(28 268.2 261.9)" opacity="0.21"/><rect x="270.5" y="261.4" width="1.4" height="0.9" transform="rotate(28 271.1 261.9)" opacity="0.31"/><rect x="274.5" y="261.4" width="1.4" height="0.9" transform="rotate(28 275.1 261.9)" opacity="0.32"/><rect x="278.5" y="261.4" width="1.4" height="0.9" transform="rotate(28 279.0 261.9)" opacity="0.24"/><rect x="281.6" y="261.4" width="1.4" height="0.9" transform="rotate(28 282.2 261.9)" opacity="0.28"/><rect x="285.0" y="261.4" width="1.4" height="0.9" transform="rotate(28 285.6 261.9)" opacity="0.42"/><rect x="289.4" y="261.4" width="1.4" height="0.9" transform="rotate(28 290.0 261.9)" opacity="0.40"/><rect x="292.3" y="261.4" width="1.4" height="0.9" transform="rotate(28 292.9 261.9)" opacity="0.44"/><rect x="296.7" y="261.4" width="1.4" height="0.9" transform="rotate(28 297.3 261.9)" opacity="0.36"/><rect x="300.4" y="261.4" width="1.4" height="0.9" transform="rotate(28 300.9 261.9)" opacity="0.37"/><rect x="303.5" y="261.4" width="1.4" height="0.9" transform="rotate(28 304.1 261.9)" opacity="0.29"/><rect x="307.2" y="261.4" width="1.4" height="0.9" transform="rotate(28 307.8 261.9)" opacity="0.28"/><rect x="311.0" y="261.4" width="1.4" height="0.9" transform="rotate(28 311.5 261.9)" opacity="0.49"/><rect x="315.0" y="261.4" width="1.4" height="0.9" transform="rotate(28 315.5 261.9)" opacity="0.52"/><rect x="318.7" y="261.4" width="1.4" height="0.9" transform="rotate(28 319.2 261.9)" opacity="0.37"/><rect x="322.2" y="261.4" width="1.4" height="0.9" transform="rotate(28 322.7 261.9)" opacity="0.42"/><rect x="326.1" y="261.4" width="1.4" height="0.9" transform="rotate(28 326.6 261.9)" opacity="0.45"/><rect x="329.2" y="261.4" width="1.4" height="0.9" transform="rotate(28 329.8 261.9)" opacity="0.48"/><rect x="333.6" y="261.4" width="1.4" height="0.9" transform="rotate(28 334.1 261.9)" opacity="0.36"/><rect x="337.2" y="261.4" width="1.4" height="0.9" transform="rotate(28 337.7 261.9)" opacity="0.29"/><rect x="340.2" y="261.4" width="1.4" height="0.9" transform="rotate(28 340.7 261.9)" opacity="0.35"/><rect x="344.3" y="261.4" width="1.4" height="0.9" transform="rotate(28 344.9 261.9)" opacity="0.54"/><rect x="348.0" y="261.4" width="1.4" height="0.9" transform="rotate(28 348.6 261.9)" opacity="0.36"/><rect x="220.8" y="264.9" width="1.5" height="0.9" transform="rotate(28 221.4 265.3)" opacity="0.27"/><rect x="224.6" y="264.9" width="1.5" height="0.9" transform="rotate(28 225.2 265.3)" opacity="0.18"/><rect x="228.7" y="264.9" width="1.5" height="0.9" transform="rotate(28 229.2 265.3)" opacity="0.26"/><rect x="233.2" y="264.9" width="1.5" height="0.9" transform="rotate(28 233.8 265.3)" opacity="0.18"/><rect x="236.6" y="264.9" width="1.5" height="0.9" transform="rotate(28 237.1 265.3)" opacity="0.20"/><rect x="240.8" y="264.9" width="1.5" height="0.9" transform="rotate(28 241.3 265.3)" opacity="0.24"/><rect x="244.6" y="264.9" width="1.5" height="0.9" transform="rotate(28 245.2 265.3)" opacity="0.22"/><rect x="248.7" y="264.9" width="1.5" height="0.9" transform="rotate(28 249.2 265.3)" opacity="0.33"/><rect x="253.2" y="264.9" width="1.5" height="0.9" transform="rotate(28 253.8 265.3)" opacity="0.19"/><rect x="257.5" y="264.9" width="1.5" height="0.9" transform="rotate(28 258.1 265.3)" opacity="0.20"/><rect x="260.9" y="264.9" width="1.5" height="0.9" transform="rotate(28 261.5 265.3)" opacity="0.37"/><rect x="265.4" y="264.9" width="1.5" height="0.9" transform="rotate(28 265.9 265.3)" opacity="0.33"/><rect x="269.0" y="264.9" width="1.5" height="0.9" transform="rotate(28 269.6 265.3)" opacity="0.24"/><rect x="273.2" y="264.9" width="1.5" height="0.9" transform="rotate(28 273.8 265.3)" opacity="0.23"/><rect x="276.8" y="264.9" width="1.5" height="0.9" transform="rotate(28 277.4 265.3)" opacity="0.30"/><rect x="280.7" y="264.9" width="1.5" height="0.9" transform="rotate(28 281.3 265.3)" opacity="0.31"/><rect x="285.5" y="264.9" width="1.5" height="0.9" transform="rotate(28 286.0 265.3)" opacity="0.40"/><rect x="289.2" y="264.9" width="1.5" height="0.9" transform="rotate(28 289.8 265.3)" opacity="0.40"/><rect x="293.2" y="264.9" width="1.5" height="0.9" transform="rotate(28 293.8 265.3)" opacity="0.29"/><rect x="297.3" y="264.9" width="1.5" height="0.9" transform="rotate(28 297.9 265.3)" opacity="0.37"/><rect x="301.5" y="264.9" width="1.5" height="0.9" transform="rotate(28 302.1 265.3)" opacity="0.52"/><rect x="305.2" y="264.9" width="1.5" height="0.9" transform="rotate(28 305.8 265.3)" opacity="0.44"/><rect x="309.6" y="264.9" width="1.5" height="0.9" transform="rotate(28 310.1 265.3)" opacity="0.41"/><rect x="313.1" y="264.9" width="1.5" height="0.9" transform="rotate(28 313.6 265.3)" opacity="0.50"/><rect x="317.7" y="264.9" width="1.5" height="0.9" transform="rotate(28 318.3 265.3)" opacity="0.52"/><rect x="321.6" y="264.9" width="1.5" height="0.9" transform="rotate(28 322.2 265.3)" opacity="0.55"/><rect x="325.6" y="264.9" width="1.5" height="0.9" transform="rotate(28 326.2 265.3)" opacity="0.49"/><rect x="329.4" y="264.9" width="1.5" height="0.9" transform="rotate(28 330.0 265.3)" opacity="0.39"/><rect x="333.6" y="264.9" width="1.5" height="0.9" transform="rotate(28 334.2 265.3)" opacity="0.32"/><rect x="337.4" y="264.9" width="1.5" height="0.9" transform="rotate(28 338.0 265.3)" opacity="0.51"/><rect x="341.7" y="264.9" width="1.5" height="0.9" transform="rotate(28 342.3 265.3)" opacity="0.46"/><rect x="345.3" y="264.9" width="1.5" height="0.9" transform="rotate(28 345.8 265.3)" opacity="0.39"/><rect x="349.5" y="264.9" width="1.5" height="0.9" transform="rotate(28 350.1 265.3)" opacity="0.43"/><rect x="353.5" y="264.9" width="1.5" height="0.9" transform="rotate(28 354.0 265.3)" opacity="0.43"/><rect x="215.0" y="268.4" width="1.7" height="0.9" transform="rotate(28 215.7 268.9)" opacity="0.16"/><rect x="219.4" y="268.4" width="1.7" height="0.9" transform="rotate(28 220.0 268.9)" opacity="0.17"/><rect x="223.8" y="268.4" width="1.7" height="0.9" transform="rotate(28 224.5 268.9)" opacity="0.23"/><rect x="228.3" y="268.4" width="1.7" height="0.9" transform="rotate(28 228.9 268.9)" opacity="0.29"/><rect x="232.1" y="268.4" width="1.7" height="0.9" transform="rotate(28 232.8 268.9)" opacity="0.30"/><rect x="237.0" y="268.4" width="1.7" height="0.9" transform="rotate(28 237.6 268.9)" opacity="0.26"/><rect x="241.6" y="268.4" width="1.7" height="0.9" transform="rotate(28 242.2 268.9)" opacity="0.31"/><rect x="245.7" y="268.4" width="1.7" height="0.9" transform="rotate(28 246.3 268.9)" opacity="0.25"/><rect x="250.7" y="268.4" width="1.7" height="0.9" transform="rotate(28 251.3 268.9)" opacity="0.19"/><rect x="254.7" y="268.4" width="1.7" height="0.9" transform="rotate(28 255.4 268.9)" opacity="0.31"/><rect x="258.5" y="268.4" width="1.7" height="0.9" transform="rotate(28 259.2 268.9)" opacity="0.31"/><rect x="263.6" y="268.4" width="1.7" height="0.9" transform="rotate(28 264.2 268.9)" opacity="0.39"/><rect x="267.6" y="268.4" width="1.7" height="0.9" transform="rotate(28 268.3 268.9)" opacity="0.42"/><rect x="272.2" y="268.4" width="1.7" height="0.9" transform="rotate(28 272.9 268.9)" opacity="0.33"/><rect x="277.0" y="268.4" width="1.7" height="0.9" transform="rotate(28 277.6 268.9)" opacity="0.24"/><rect x="281.2" y="268.4" width="1.7" height="0.9" transform="rotate(28 281.9 268.9)" opacity="0.39"/><rect x="285.2" y="268.4" width="1.7" height="0.9" transform="rotate(28 285.9 268.9)" opacity="0.46"/><rect x="289.6" y="268.4" width="1.7" height="0.9" transform="rotate(28 290.3 268.9)" opacity="0.38"/><rect x="294.2" y="268.4" width="1.7" height="0.9" transform="rotate(28 294.9 268.9)" opacity="0.48"/><rect x="298.3" y="268.4" width="1.7" height="0.9" transform="rotate(28 298.9 268.9)" opacity="0.40"/><rect x="302.9" y="268.4" width="1.7" height="0.9" transform="rotate(28 303.5 268.9)" opacity="0.44"/><rect x="307.7" y="268.4" width="1.7" height="0.9" transform="rotate(28 308.3 268.9)" opacity="0.38"/><rect x="312.1" y="268.4" width="1.7" height="0.9" transform="rotate(28 312.7 268.9)" opacity="0.42"/><rect x="316.2" y="268.4" width="1.7" height="0.9" transform="rotate(28 316.8 268.9)" opacity="0.38"/><rect x="320.6" y="268.4" width="1.7" height="0.9" transform="rotate(28 321.2 268.9)" opacity="0.59"/><rect x="325.1" y="268.4" width="1.7" height="0.9" transform="rotate(28 325.8 268.9)" opacity="0.54"/><rect x="329.2" y="268.4" width="1.7" height="0.9" transform="rotate(28 329.8 268.9)" opacity="0.39"/><rect x="333.5" y="268.4" width="1.7" height="0.9" transform="rotate(28 334.2 268.9)" opacity="0.46"/><rect x="338.3" y="268.4" width="1.7" height="0.9" transform="rotate(28 338.9 268.9)" opacity="0.50"/><rect x="342.1" y="268.4" width="1.7" height="0.9" transform="rotate(28 342.7 268.9)" opacity="0.47"/><rect x="347.3" y="268.4" width="1.7" height="0.9" transform="rotate(28 348.0 268.9)" opacity="0.41"/><rect x="350.9" y="268.4" width="1.7" height="0.9" transform="rotate(28 351.5 268.9)" opacity="0.33"/><rect x="355.2" y="268.4" width="1.7" height="0.9" transform="rotate(28 355.9 268.9)" opacity="0.29"/><rect x="360.5" y="268.4" width="1.7" height="0.9" transform="rotate(28 361.2 268.9)" opacity="0.37"/><rect x="204.9" y="272.1" width="1.9" height="0.9" transform="rotate(28 205.7 272.6)" opacity="0.29"/><rect x="209.9" y="272.1" width="1.9" height="0.9" transform="rotate(28 210.7 272.6)" opacity="0.24"/><rect x="214.2" y="272.1" width="1.9" height="0.9" transform="rotate(28 214.9 272.6)" opacity="0.22"/><rect x="219.6" y="272.1" width="1.9" height="0.9" transform="rotate(28 220.3 272.6)" opacity="0.22"/><rect x="224.2" y="272.1" width="1.9" height="0.9" transform="rotate(28 224.9 272.6)" opacity="0.26"/><rect x="229.1" y="272.1" width="1.9" height="0.9" transform="rotate(28 229.9 272.6)" opacity="0.30"/><rect x="233.3" y="272.1" width="1.9" height="0.9" transform="rotate(28 234.1 272.6)" opacity="0.17"/><rect x="238.1" y="272.1" width="1.9" height="0.9" transform="rotate(28 238.8 272.6)" opacity="0.25"/><rect x="243.2" y="272.1" width="1.9" height="0.9" transform="rotate(28 243.9 272.6)" opacity="0.33"/><rect x="248.3" y="272.1" width="1.9" height="0.9" transform="rotate(28 249.0 272.6)" opacity="0.20"/><rect x="253.0" y="272.1" width="1.9" height="0.9" transform="rotate(28 253.8 272.6)" opacity="0.35"/><rect x="257.8" y="272.1" width="1.9" height="0.9" transform="rotate(28 258.6 272.6)" opacity="0.32"/><rect x="262.0" y="272.1" width="1.9" height="0.9" transform="rotate(28 262.8 272.6)" opacity="0.39"/><rect x="267.4" y="272.1" width="1.9" height="0.9" transform="rotate(28 268.1 272.6)" opacity="0.37"/><rect x="272.2" y="272.1" width="1.9" height="0.9" transform="rotate(28 273.0 272.6)" opacity="0.31"/><rect x="276.2" y="272.1" width="1.9" height="0.9" transform="rotate(28 276.9 272.6)" opacity="0.38"/><rect x="281.7" y="272.1" width="1.9" height="0.9" transform="rotate(28 282.4 272.6)" opacity="0.31"/><rect x="286.4" y="272.1" width="1.9" height="0.9" transform="rotate(28 287.2 272.6)" opacity="0.51"/><rect x="290.7" y="272.1" width="1.9" height="0.9" transform="rotate(28 291.4 272.6)" opacity="0.44"/><rect x="295.9" y="272.1" width="1.9" height="0.9" transform="rotate(28 296.7 272.6)" opacity="0.42"/><rect x="300.3" y="272.1" width="1.9" height="0.9" transform="rotate(28 301.0 272.6)" opacity="0.37"/><rect x="305.6" y="272.1" width="1.9" height="0.9" transform="rotate(28 306.3 272.6)" opacity="0.53"/><rect x="310.1" y="272.1" width="1.9" height="0.9" transform="rotate(28 310.8 272.6)" opacity="0.33"/><rect x="315.2" y="272.1" width="1.9" height="0.9" transform="rotate(28 315.9 272.6)" opacity="0.54"/><rect x="319.4" y="272.1" width="1.9" height="0.9" transform="rotate(28 320.2 272.6)" opacity="0.48"/><rect x="324.9" y="272.1" width="1.9" height="0.9" transform="rotate(28 325.6 272.6)" opacity="0.56"/><rect x="329.3" y="272.1" width="1.9" height="0.9" transform="rotate(28 330.0 272.6)" opacity="0.43"/><rect x="334.1" y="272.1" width="1.9" height="0.9" transform="rotate(28 334.9 272.6)" opacity="0.34"/><rect x="338.5" y="272.1" width="1.9" height="0.9" transform="rotate(28 339.3 272.6)" opacity="0.33"/><rect x="343.8" y="272.1" width="1.9" height="0.9" transform="rotate(28 344.6 272.6)" opacity="0.36"/><rect x="348.5" y="272.1" width="1.9" height="0.9" transform="rotate(28 349.2 272.6)" opacity="0.36"/><rect x="353.2" y="272.1" width="1.9" height="0.9" transform="rotate(28 353.9 272.6)" opacity="0.28"/><rect x="357.5" y="272.1" width="1.9" height="0.9" transform="rotate(28 358.3 272.6)" opacity="0.46"/><rect x="362.6" y="272.1" width="1.9" height="0.9" transform="rotate(28 363.4 272.6)" opacity="0.24"/><rect x="367.7" y="272.1" width="1.9" height="0.9" transform="rotate(28 368.4 272.6)" opacity="0.37"/><rect x="194.4" y="275.9" width="2.1" height="1.0" transform="rotate(28 195.3 276.4)" opacity="0.22"/><rect x="199.1" y="275.9" width="2.1" height="1.0" transform="rotate(28 199.9 276.4)" opacity="0.27"/><rect x="204.4" y="275.9" width="2.1" height="1.0" transform="rotate(28 205.2 276.4)" opacity="0.21"/><rect x="209.5" y="275.9" width="2.1" height="1.0" transform="rotate(28 210.3 276.4)" opacity="0.20"/><rect x="215.3" y="275.9" width="2.1" height="1.0" transform="rotate(28 216.1 276.4)" opacity="0.21"/><rect x="219.9" y="275.9" width="2.1" height="1.0" transform="rotate(28 220.7 276.4)" opacity="0.24"/><rect x="225.2" y="275.9" width="2.1" height="1.0" transform="rotate(28 226.0 276.4)" opacity="0.32"/><rect x="230.2" y="275.9" width="2.1" height="1.0" transform="rotate(28 231.0 276.4)" opacity="0.34"/><rect x="235.3" y="275.9" width="2.1" height="1.0" transform="rotate(28 236.1 276.4)" opacity="0.34"/><rect x="241.1" y="275.9" width="2.1" height="1.0" transform="rotate(28 241.9 276.4)" opacity="0.23"/><rect x="246.1" y="275.9" width="2.1" height="1.0" transform="rotate(28 246.9 276.4)" opacity="0.25"/><rect x="251.1" y="275.9" width="2.1" height="1.0" transform="rotate(28 251.9 276.4)" opacity="0.24"/><rect x="256.4" y="275.9" width="2.1" height="1.0" transform="rotate(28 257.2 276.4)" opacity="0.42"/><rect x="262.2" y="275.9" width="2.1" height="1.0" transform="rotate(28 263.0 276.4)" opacity="0.43"/><rect x="266.5" y="275.9" width="2.1" height="1.0" transform="rotate(28 267.3 276.4)" opacity="0.30"/><rect x="272.5" y="275.9" width="2.1" height="1.0" transform="rotate(28 273.3 276.4)" opacity="0.26"/><rect x="277.5" y="275.9" width="2.1" height="1.0" transform="rotate(28 278.3 276.4)" opacity="0.33"/><rect x="283.0" y="275.9" width="2.1" height="1.0" transform="rotate(28 283.8 276.4)" opacity="0.27"/><rect x="288.0" y="275.9" width="2.1" height="1.0" transform="rotate(28 288.8 276.4)" opacity="0.38"/><rect x="292.5" y="275.9" width="2.1" height="1.0" transform="rotate(28 293.3 276.4)" opacity="0.29"/><rect x="298.4" y="275.9" width="2.1" height="1.0" transform="rotate(28 299.2 276.4)" opacity="0.45"/><rect x="302.9" y="275.9" width="2.1" height="1.0" transform="rotate(28 303.7 276.4)" opacity="0.43"/><rect x="308.8" y="275.9" width="2.1" height="1.0" transform="rotate(28 309.6 276.4)" opacity="0.37"/><rect x="313.7" y="275.9" width="2.1" height="1.0" transform="rotate(28 314.5 276.4)" opacity="0.35"/><rect x="318.5" y="275.9" width="2.1" height="1.0" transform="rotate(28 319.3 276.4)" opacity="0.54"/><rect x="324.2" y="275.9" width="2.1" height="1.0" transform="rotate(28 325.0 276.4)" opacity="0.35"/><rect x="328.8" y="275.9" width="2.1" height="1.0" transform="rotate(28 329.6 276.4)" opacity="0.32"/><rect x="334.5" y="275.9" width="2.1" height="1.0" transform="rotate(28 335.3 276.4)" opacity="0.42"/><rect x="339.3" y="275.9" width="2.1" height="1.0" transform="rotate(28 340.2 276.4)" opacity="0.32"/><rect x="344.9" y="275.9" width="2.1" height="1.0" transform="rotate(28 345.7 276.4)" opacity="0.44"/><rect x="350.3" y="275.9" width="2.1" height="1.0" transform="rotate(28 351.1 276.4)" opacity="0.38"/><rect x="354.8" y="275.9" width="2.1" height="1.0" transform="rotate(28 355.7 276.4)" opacity="0.25"/><rect x="360.6" y="275.9" width="2.1" height="1.0" transform="rotate(28 361.4 276.4)" opacity="0.31"/><rect x="365.7" y="275.9" width="2.1" height="1.0" transform="rotate(28 366.6 276.4)" opacity="0.22"/><rect x="371.0" y="275.9" width="2.1" height="1.0" transform="rotate(28 371.8 276.4)" opacity="0.26"/><rect x="376.2" y="275.9" width="2.1" height="1.0" transform="rotate(28 377.1 276.4)" opacity="0.34"/><rect x="183.7" y="279.9" width="2.3" height="1.1" transform="rotate(28 184.6 280.4)" opacity="0.17"/><rect x="188.8" y="279.9" width="2.3" height="1.1" transform="rotate(28 189.7 280.4)" opacity="0.23"/><rect x="194.4" y="279.9" width="2.3" height="1.1" transform="rotate(28 195.3 280.4)" opacity="0.22"/><rect x="199.7" y="279.9" width="2.3" height="1.1" transform="rotate(28 200.6 280.4)" opacity="0.22"/><rect x="205.7" y="279.9" width="2.3" height="1.1" transform="rotate(28 206.6 280.4)" opacity="0.16"/><rect x="211.0" y="279.9" width="2.3" height="1.1" transform="rotate(28 211.9 280.4)" opacity="0.32"/><rect x="217.2" y="279.9" width="2.3" height="1.1" transform="rotate(28 218.1 280.4)" opacity="0.32"/><rect x="222.7" y="279.9" width="2.3" height="1.1" transform="rotate(28 223.6 280.4)" opacity="0.31"/><rect x="228.5" y="279.9" width="2.3" height="1.1" transform="rotate(28 229.4 280.4)" opacity="0.34"/><rect x="233.3" y="279.9" width="2.3" height="1.1" transform="rotate(28 234.2 280.4)" opacity="0.30"/><rect x="239.1" y="279.9" width="2.3" height="1.1" transform="rotate(28 240.0 280.4)" opacity="0.32"/><rect x="244.8" y="279.9" width="2.3" height="1.1" transform="rotate(28 245.6 280.4)" opacity="0.31"/><rect x="251.0" y="279.9" width="2.3" height="1.1" transform="rotate(28 251.9 280.4)" opacity="0.34"/><rect x="255.9" y="279.9" width="2.3" height="1.1" transform="rotate(28 256.8 280.4)" opacity="0.34"/><rect x="261.7" y="279.9" width="2.3" height="1.1" transform="rotate(28 262.6 280.4)" opacity="0.46"/><rect x="267.2" y="279.9" width="2.3" height="1.1" transform="rotate(28 268.1 280.4)" opacity="0.32"/><rect x="273.2" y="279.9" width="2.3" height="1.1" transform="rotate(28 274.1 280.4)" opacity="0.29"/><rect x="278.7" y="279.9" width="2.3" height="1.1" transform="rotate(28 279.6 280.4)" opacity="0.53"/><rect x="284.3" y="279.9" width="2.3" height="1.1" transform="rotate(28 285.1 280.4)" opacity="0.36"/><rect x="289.8" y="279.9" width="2.3" height="1.1" transform="rotate(28 290.7 280.4)" opacity="0.45"/><rect x="295.1" y="279.9" width="2.3" height="1.1" transform="rotate(28 296.0 280.4)" opacity="0.34"/><rect x="300.7" y="279.9" width="2.3" height="1.1" transform="rotate(28 301.6 280.4)" opacity="0.39"/><rect x="306.6" y="279.9" width="2.3" height="1.1" transform="rotate(28 307.5 280.4)" opacity="0.39"/><rect x="312.0" y="279.9" width="2.3" height="1.1" transform="rotate(28 312.9 280.4)" opacity="0.33"/><rect x="317.9" y="279.9" width="2.3" height="1.1" transform="rotate(28 318.8 280.4)" opacity="0.55"/><rect x="323.6" y="279.9" width="2.3" height="1.1" transform="rotate(28 324.5 280.4)" opacity="0.46"/><rect x="329.3" y="279.9" width="2.3" height="1.1" transform="rotate(28 330.2 280.4)" opacity="0.34"/><rect x="334.9" y="279.9" width="2.3" height="1.1" transform="rotate(28 335.8 280.4)" opacity="0.40"/><rect x="340.4" y="279.9" width="2.3" height="1.1" transform="rotate(28 341.3 280.4)" opacity="0.42"/><rect x="345.9" y="279.9" width="2.3" height="1.1" transform="rotate(28 346.8 280.4)" opacity="0.32"/><rect x="351.3" y="279.9" width="2.3" height="1.1" transform="rotate(28 352.2 280.4)" opacity="0.28"/><rect x="357.2" y="279.9" width="2.3" height="1.1" transform="rotate(28 358.1 280.4)" opacity="0.30"/><rect x="362.9" y="279.9" width="2.3" height="1.1" transform="rotate(28 363.7 280.4)" opacity="0.21"/><rect x="368.2" y="279.9" width="2.3" height="1.1" transform="rotate(28 369.1 280.4)" opacity="0.37"/><rect x="373.7" y="279.9" width="2.3" height="1.1" transform="rotate(28 374.6 280.4)" opacity="0.29"/><rect x="379.6" y="279.9" width="2.3" height="1.1" transform="rotate(28 380.5 280.4)" opacity="0.23"/><rect x="172.0" y="284.0" width="2.5" height="1.2" transform="rotate(28 173.0 284.5)" opacity="0.20"/><rect x="178.2" y="284.0" width="2.5" height="1.2" transform="rotate(28 179.2 284.5)" opacity="0.19"/><rect x="183.9" y="284.0" width="2.5" height="1.2" transform="rotate(28 184.9 284.5)" opacity="0.22"/><rect x="189.9" y="284.0" width="2.5" height="1.2" transform="rotate(28 190.9 284.5)" opacity="0.28"/><rect x="196.3" y="284.0" width="2.5" height="1.2" transform="rotate(28 197.3 284.5)" opacity="0.23"/><rect x="201.8" y="284.0" width="2.5" height="1.2" transform="rotate(28 202.7 284.5)" opacity="0.21"/><rect x="208.1" y="284.0" width="2.5" height="1.2" transform="rotate(28 209.1 284.5)" opacity="0.25"/><rect x="214.3" y="284.0" width="2.5" height="1.2" transform="rotate(28 215.3 284.5)" opacity="0.32"/><rect x="220.8" y="284.0" width="2.5" height="1.2" transform="rotate(28 221.7 284.5)" opacity="0.26"/><rect x="226.3" y="284.0" width="2.5" height="1.2" transform="rotate(28 227.2 284.5)" opacity="0.30"/><rect x="232.9" y="284.0" width="2.5" height="1.2" transform="rotate(28 233.8 284.5)" opacity="0.26"/><rect x="238.4" y="284.0" width="2.5" height="1.2" transform="rotate(28 239.4 284.5)" opacity="0.36"/><rect x="244.1" y="284.0" width="2.5" height="1.2" transform="rotate(28 245.1 284.5)" opacity="0.28"/><rect x="251.0" y="284.0" width="2.5" height="1.2" transform="rotate(28 251.9 284.5)" opacity="0.41"/><rect x="256.6" y="284.0" width="2.5" height="1.2" transform="rotate(28 257.5 284.5)" opacity="0.26"/><rect x="263.0" y="284.0" width="2.5" height="1.2" transform="rotate(28 263.9 284.5)" opacity="0.42"/><rect x="268.9" y="284.0" width="2.5" height="1.2" transform="rotate(28 269.9 284.5)" opacity="0.52"/><rect x="275.0" y="284.0" width="2.5" height="1.2" transform="rotate(28 276.0 284.5)" opacity="0.39"/><rect x="280.4" y="284.0" width="2.5" height="1.2" transform="rotate(28 281.3 284.5)" opacity="0.37"/><rect x="286.8" y="284.0" width="2.5" height="1.2" transform="rotate(28 287.7 284.5)" opacity="0.44"/><rect x="292.5" y="284.0" width="2.5" height="1.2" transform="rotate(28 293.4 284.5)" opacity="0.36"/><rect x="299.0" y="284.0" width="2.5" height="1.2" transform="rotate(28 299.9 284.5)" opacity="0.49"/><rect x="304.7" y="284.0" width="2.5" height="1.2" transform="rotate(28 305.7 284.5)" opacity="0.61"/><rect x="311.0" y="284.0" width="2.5" height="1.2" transform="rotate(28 312.0 284.5)" opacity="0.31"/><rect x="316.9" y="284.0" width="2.5" height="1.2" transform="rotate(28 317.8 284.5)" opacity="0.53"/><rect x="322.8" y="284.0" width="2.5" height="1.2" transform="rotate(28 323.8 284.5)" opacity="0.48"/><rect x="328.5" y="284.0" width="2.5" height="1.2" transform="rotate(28 329.5 284.5)" opacity="0.36"/><rect x="335.4" y="284.0" width="2.5" height="1.2" transform="rotate(28 336.4 284.5)" opacity="0.41"/><rect x="341.3" y="284.0" width="2.5" height="1.2" transform="rotate(28 342.2 284.5)" opacity="0.30"/><rect x="347.2" y="284.0" width="2.5" height="1.2" transform="rotate(28 348.1 284.5)" opacity="0.36"/><rect x="353.0" y="284.0" width="2.5" height="1.2" transform="rotate(28 353.9 284.5)" opacity="0.37"/><rect x="359.3" y="284.0" width="2.5" height="1.2" transform="rotate(28 360.2 284.5)" opacity="0.42"/><rect x="365.3" y="284.0" width="2.5" height="1.2" transform="rotate(28 366.3 284.5)" opacity="0.28"/><rect x="370.9" y="284.0" width="2.5" height="1.2" transform="rotate(28 371.9 284.5)" opacity="0.22"/><rect x="377.6" y="284.0" width="2.5" height="1.2" transform="rotate(28 378.6 284.5)" opacity="0.20"/><rect x="383.0" y="284.0" width="2.5" height="1.2" transform="rotate(28 384.0 284.5)" opacity="0.20"/><rect x="389.5" y="284.0" width="2.5" height="1.2" transform="rotate(28 390.4 284.5)" opacity="0.30"/><rect x="160.6" y="288.1" width="2.7" height="1.3" transform="rotate(28 161.7 288.8)" opacity="0.14"/><rect x="166.7" y="288.1" width="2.7" height="1.3" transform="rotate(28 167.8 288.8)" opacity="0.24"/><rect x="173.6" y="288.1" width="2.7" height="1.3" transform="rotate(28 174.6 288.8)" opacity="0.16"/><rect x="179.6" y="288.1" width="2.7" height="1.3" transform="rotate(28 180.7 288.8)" opacity="0.24"/><rect x="186.1" y="288.1" width="2.7" height="1.3" transform="rotate(28 187.2 288.8)" opacity="0.28"/><rect x="192.4" y="288.1" width="2.7" height="1.3" transform="rotate(28 193.5 288.8)" opacity="0.29"/><rect x="199.2" y="288.1" width="2.7" height="1.3" transform="rotate(28 200.3 288.8)" opacity="0.19"/><rect x="205.7" y="288.1" width="2.7" height="1.3" transform="rotate(28 206.7 288.8)" opacity="0.18"/><rect x="212.4" y="288.1" width="2.7" height="1.3" transform="rotate(28 213.5 288.8)" opacity="0.21"/><rect x="219.1" y="288.1" width="2.7" height="1.3" transform="rotate(28 220.1 288.8)" opacity="0.28"/><rect x="225.0" y="288.1" width="2.7" height="1.3" transform="rotate(28 226.1 288.8)" opacity="0.23"/><rect x="231.8" y="288.1" width="2.7" height="1.3" transform="rotate(28 232.8 288.8)" opacity="0.24"/><rect x="238.5" y="288.1" width="2.7" height="1.3" transform="rotate(28 239.6 288.8)" opacity="0.23"/><rect x="244.6" y="288.1" width="2.7" height="1.3" transform="rotate(28 245.7 288.8)" opacity="0.34"/><rect x="250.9" y="288.1" width="2.7" height="1.3" transform="rotate(28 251.9 288.8)" opacity="0.41"/><rect x="257.5" y="288.1" width="2.7" height="1.3" transform="rotate(28 258.5 288.8)" opacity="0.41"/><rect x="264.1" y="288.1" width="2.7" height="1.3" transform="rotate(28 265.2 288.8)" opacity="0.34"/><rect x="270.5" y="288.1" width="2.7" height="1.3" transform="rotate(28 271.5 288.8)" opacity="0.30"/><rect x="276.7" y="288.1" width="2.7" height="1.3" transform="rotate(28 277.8 288.8)" opacity="0.53"/><rect x="283.4" y="288.1" width="2.7" height="1.3" transform="rotate(28 284.4 288.8)" opacity="0.49"/><rect x="289.6" y="288.1" width="2.7" height="1.3" transform="rotate(28 290.7 288.8)" opacity="0.47"/><rect x="296.4" y="288.1" width="2.7" height="1.3" transform="rotate(28 297.4 288.8)" opacity="0.46"/><rect x="302.8" y="288.1" width="2.7" height="1.3" transform="rotate(28 303.9 288.8)" opacity="0.32"/><rect x="309.3" y="288.1" width="2.7" height="1.3" transform="rotate(28 310.4 288.8)" opacity="0.37"/><rect x="315.6" y="288.1" width="2.7" height="1.3" transform="rotate(28 316.7 288.8)" opacity="0.50"/><rect x="322.2" y="288.1" width="2.7" height="1.3" transform="rotate(28 323.3 288.8)" opacity="0.39"/><rect x="329.4" y="288.1" width="2.7" height="1.3" transform="rotate(28 330.4 288.8)" opacity="0.47"/><rect x="335.8" y="288.1" width="2.7" height="1.3" transform="rotate(28 336.9 288.8)" opacity="0.47"/><rect x="341.5" y="288.1" width="2.7" height="1.3" transform="rotate(28 342.6 288.8)" opacity="0.30"/><rect x="347.9" y="288.1" width="2.7" height="1.3" transform="rotate(28 349.0 288.8)" opacity="0.38"/><rect x="355.1" y="288.1" width="2.7" height="1.3" transform="rotate(28 356.1 288.8)" opacity="0.29"/><rect x="361.3" y="288.1" width="2.7" height="1.3" transform="rotate(28 362.3 288.8)" opacity="0.33"/><rect x="368.1" y="288.1" width="2.7" height="1.3" transform="rotate(28 369.1 288.8)" opacity="0.24"/><rect x="374.7" y="288.1" width="2.7" height="1.3" transform="rotate(28 375.8 288.8)" opacity="0.25"/><rect x="381.0" y="288.1" width="2.7" height="1.3" transform="rotate(28 382.0 288.8)" opacity="0.21"/><rect x="386.9" y="288.1" width="2.7" height="1.3" transform="rotate(28 388.0 288.8)" opacity="0.32"/><rect x="394.0" y="288.1" width="2.7" height="1.3" transform="rotate(28 395.1 288.8)" opacity="0.27"/><rect x="399.8" y="288.1" width="2.7" height="1.3" transform="rotate(28 400.9 288.8)" opacity="0.16"/><rect x="147.8" y="292.5" width="3.0" height="1.4" transform="rotate(28 149.0 293.1)" opacity="0.15"/><rect x="155.1" y="292.5" width="3.0" height="1.4" transform="rotate(28 156.3 293.1)" opacity="0.14"/><rect x="162.0" y="292.5" width="3.0" height="1.4" transform="rotate(28 163.1 293.1)" opacity="0.14"/><rect x="169.3" y="292.5" width="3.0" height="1.4" transform="rotate(28 170.5 293.1)" opacity="0.22"/><rect x="175.8" y="292.5" width="3.0" height="1.4" transform="rotate(28 176.9 293.1)" opacity="0.17"/><rect x="183.0" y="292.5" width="3.0" height="1.4" transform="rotate(28 184.2 293.1)" opacity="0.21"/><rect x="190.4" y="292.5" width="3.0" height="1.4" transform="rotate(28 191.5 293.1)" opacity="0.20"/><rect x="196.7" y="292.5" width="3.0" height="1.4" transform="rotate(28 197.8 293.1)" opacity="0.30"/><rect x="203.5" y="292.5" width="3.0" height="1.4" transform="rotate(28 204.6 293.1)" opacity="0.26"/><rect x="210.6" y="292.5" width="3.0" height="1.4" transform="rotate(28 211.8 293.1)" opacity="0.31"/><rect x="217.8" y="292.5" width="3.0" height="1.4" transform="rotate(28 218.9 293.1)" opacity="0.32"/><rect x="224.4" y="292.5" width="3.0" height="1.4" transform="rotate(28 225.5 293.1)" opacity="0.32"/><rect x="231.7" y="292.5" width="3.0" height="1.4" transform="rotate(28 232.9 293.1)" opacity="0.30"/><rect x="238.8" y="292.5" width="3.0" height="1.4" transform="rotate(28 240.0 293.1)" opacity="0.39"/><rect x="245.1" y="292.5" width="3.0" height="1.4" transform="rotate(28 246.3 293.1)" opacity="0.29"/><rect x="252.3" y="292.5" width="3.0" height="1.4" transform="rotate(28 253.5 293.1)" opacity="0.29"/><rect x="259.0" y="292.5" width="3.0" height="1.4" transform="rotate(28 260.1 293.1)" opacity="0.33"/><rect x="266.0" y="292.5" width="3.0" height="1.4" transform="rotate(28 267.2 293.1)" opacity="0.46"/><rect x="273.2" y="292.5" width="3.0" height="1.4" transform="rotate(28 274.4 293.1)" opacity="0.32"/><rect x="280.1" y="292.5" width="3.0" height="1.4" transform="rotate(28 281.2 293.1)" opacity="0.43"/><rect x="287.1" y="292.5" width="3.0" height="1.4" transform="rotate(28 288.2 293.1)" opacity="0.35"/><rect x="293.7" y="292.5" width="3.0" height="1.4" transform="rotate(28 294.8 293.1)" opacity="0.30"/><rect x="301.6" y="292.5" width="3.0" height="1.4" transform="rotate(28 302.7 293.1)" opacity="0.52"/><rect x="307.6" y="292.5" width="3.0" height="1.4" transform="rotate(28 308.7 293.1)" opacity="0.50"/><rect x="315.4" y="292.5" width="3.0" height="1.4" transform="rotate(28 316.6 293.1)" opacity="0.44"/><rect x="321.5" y="292.5" width="3.0" height="1.4" transform="rotate(28 322.7 293.1)" opacity="0.40"/><rect x="328.8" y="292.5" width="3.0" height="1.4" transform="rotate(28 329.9 293.1)" opacity="0.30"/><rect x="335.8" y="292.5" width="3.0" height="1.4" transform="rotate(28 337.0 293.1)" opacity="0.24"/><rect x="343.2" y="292.5" width="3.0" height="1.4" transform="rotate(28 344.3 293.1)" opacity="0.37"/><rect x="349.8" y="292.5" width="3.0" height="1.4" transform="rotate(28 351.0 293.1)" opacity="0.41"/><rect x="356.8" y="292.5" width="3.0" height="1.4" transform="rotate(28 357.9 293.1)" opacity="0.25"/><rect x="363.3" y="292.5" width="3.0" height="1.4" transform="rotate(28 364.5 293.1)" opacity="0.22"/><rect x="370.1" y="292.5" width="3.0" height="1.4" transform="rotate(28 371.2 293.1)" opacity="0.33"/><rect x="377.8" y="292.5" width="3.0" height="1.4" transform="rotate(28 379.0 293.1)" opacity="0.23"/><rect x="384.1" y="292.5" width="3.0" height="1.4" transform="rotate(28 385.2 293.1)" opacity="0.28"/><rect x="391.7" y="292.5" width="3.0" height="1.4" transform="rotate(28 392.9 293.1)" opacity="0.31"/><rect x="398.0" y="292.5" width="3.0" height="1.4" transform="rotate(28 399.1 293.1)" opacity="0.28"/><rect x="405.6" y="292.5" width="3.0" height="1.4" transform="rotate(28 406.7 293.1)" opacity="0.26"/><rect x="136.4" y="296.9" width="3.2" height="1.5" transform="rotate(28 137.6 297.6)" opacity="0.20"/><rect x="143.7" y="296.9" width="3.2" height="1.5" transform="rotate(28 145.0 297.6)" opacity="0.22"/><rect x="151.2" y="296.9" width="3.2" height="1.5" transform="rotate(28 152.5 297.6)" opacity="0.19"/><rect x="158.5" y="296.9" width="3.2" height="1.5" transform="rotate(28 159.7 297.6)" opacity="0.13"/><rect x="165.8" y="296.9" width="3.2" height="1.5" transform="rotate(28 167.0 297.6)" opacity="0.21"/><rect x="172.8" y="296.9" width="3.2" height="1.5" transform="rotate(28 174.1 297.6)" opacity="0.21"/><rect x="180.9" y="296.9" width="3.2" height="1.5" transform="rotate(28 182.1 297.6)" opacity="0.21"/><rect x="188.0" y="296.9" width="3.2" height="1.5" transform="rotate(28 189.2 297.6)" opacity="0.19"/><rect x="195.1" y="296.9" width="3.2" height="1.5" transform="rotate(28 196.3 297.6)" opacity="0.29"/><rect x="202.2" y="296.9" width="3.2" height="1.5" transform="rotate(28 203.5 297.6)" opacity="0.19"/><rect x="210.3" y="296.9" width="3.2" height="1.5" transform="rotate(28 211.5 297.6)" opacity="0.25"/><rect x="217.1" y="296.9" width="3.2" height="1.5" transform="rotate(28 218.3 297.6)" opacity="0.30"/><rect x="224.8" y="296.9" width="3.2" height="1.5" transform="rotate(28 226.0 297.6)" opacity="0.31"/><rect x="232.3" y="296.9" width="3.2" height="1.5" transform="rotate(28 233.5 297.6)" opacity="0.32"/><rect x="239.8" y="296.9" width="3.2" height="1.5" transform="rotate(28 241.1 297.6)" opacity="0.31"/><rect x="246.8" y="296.9" width="3.2" height="1.5" transform="rotate(28 248.0 297.6)" opacity="0.28"/><rect x="255.0" y="296.9" width="3.2" height="1.5" transform="rotate(28 256.2 297.6)" opacity="0.40"/><rect x="261.6" y="296.9" width="3.2" height="1.5" transform="rotate(28 262.9 297.6)" opacity="0.50"/><rect x="269.2" y="296.9" width="3.2" height="1.5" transform="rotate(28 270.4 297.6)" opacity="0.31"/><rect x="276.9" y="296.9" width="3.2" height="1.5" transform="rotate(28 278.1 297.6)" opacity="0.36"/><rect x="284.3" y="296.9" width="3.2" height="1.5" transform="rotate(28 285.5 297.6)" opacity="0.46"/><rect x="291.4" y="296.9" width="3.2" height="1.5" transform="rotate(28 292.6 297.6)" opacity="0.46"/><rect x="298.7" y="296.9" width="3.2" height="1.5" transform="rotate(28 299.9 297.6)" opacity="0.44"/><rect x="306.6" y="296.9" width="3.2" height="1.5" transform="rotate(28 307.8 297.6)" opacity="0.30"/><rect x="313.8" y="296.9" width="3.2" height="1.5" transform="rotate(28 315.1 297.6)" opacity="0.29"/><rect x="321.3" y="296.9" width="3.2" height="1.5" transform="rotate(28 322.5 297.6)" opacity="0.48"/><rect x="328.8" y="296.9" width="3.2" height="1.5" transform="rotate(28 330.1 297.6)" opacity="0.42"/><rect x="336.4" y="296.9" width="3.2" height="1.5" transform="rotate(28 337.7 297.6)" opacity="0.25"/><rect x="344.1" y="296.9" width="3.2" height="1.5" transform="rotate(28 345.3 297.6)" opacity="0.37"/><rect x="350.6" y="296.9" width="3.2" height="1.5" transform="rotate(28 351.9 297.6)" opacity="0.38"/><rect x="358.3" y="296.9" width="3.2" height="1.5" transform="rotate(28 359.6 297.6)" opacity="0.23"/><rect x="366.3" y="296.9" width="3.2" height="1.5" transform="rotate(28 367.5 297.6)" opacity="0.29"/><rect x="373.5" y="296.9" width="3.2" height="1.5" transform="rotate(28 374.8 297.6)" opacity="0.20"/><rect x="381.0" y="296.9" width="3.2" height="1.5" transform="rotate(28 382.2 297.6)" opacity="0.18"/><rect x="387.8" y="296.9" width="3.2" height="1.5" transform="rotate(28 389.1 297.6)" opacity="0.23"/><rect x="395.0" y="296.9" width="3.2" height="1.5" transform="rotate(28 396.3 297.6)" opacity="0.25"/><rect x="402.6" y="296.9" width="3.2" height="1.5" transform="rotate(28 403.9 297.6)" opacity="0.20"/><rect x="410.6" y="296.9" width="3.2" height="1.5" transform="rotate(28 411.8 297.6)" opacity="0.21"/><rect x="131.5" y="301.4" width="3.4" height="1.6" transform="rotate(28 132.9 302.2)" opacity="0.18"/><rect x="138.6" y="301.4" width="3.4" height="1.6" transform="rotate(28 139.9 302.2)" opacity="0.12"/><rect x="147.3" y="301.4" width="3.4" height="1.6" transform="rotate(28 148.6 302.2)" opacity="0.19"/><rect x="154.8" y="301.4" width="3.4" height="1.6" transform="rotate(28 156.1 302.2)" opacity="0.17"/><rect x="162.4" y="301.4" width="3.4" height="1.6" transform="rotate(28 163.8 302.2)" opacity="0.23"/><rect x="170.6" y="301.4" width="3.4" height="1.6" transform="rotate(28 171.9 302.2)" opacity="0.25"/><rect x="178.7" y="301.4" width="3.4" height="1.6" transform="rotate(28 180.0 302.2)" opacity="0.15"/><rect x="186.3" y="301.4" width="3.4" height="1.6" transform="rotate(28 187.6 302.2)" opacity="0.18"/><rect x="194.8" y="301.4" width="3.4" height="1.6" transform="rotate(28 196.1 302.2)" opacity="0.25"/><rect x="201.8" y="301.4" width="3.4" height="1.6" transform="rotate(28 203.1 302.2)" opacity="0.19"/><rect x="210.0" y="301.4" width="3.4" height="1.6" transform="rotate(28 211.4 302.2)" opacity="0.26"/><rect x="218.2" y="301.4" width="3.4" height="1.6" transform="rotate(28 219.5 302.2)" opacity="0.26"/><rect x="225.8" y="301.4" width="3.4" height="1.6" transform="rotate(28 227.2 302.2)" opacity="0.20"/><rect x="234.0" y="301.4" width="3.4" height="1.6" transform="rotate(28 235.3 302.2)" opacity="0.29"/><rect x="241.3" y="301.4" width="3.4" height="1.6" transform="rotate(28 242.6 302.2)" opacity="0.34"/><rect x="250.2" y="301.4" width="3.4" height="1.6" transform="rotate(28 251.5 302.2)" opacity="0.26"/><rect x="257.2" y="301.4" width="3.4" height="1.6" transform="rotate(28 258.5 302.2)" opacity="0.44"/><rect x="265.2" y="301.4" width="3.4" height="1.6" transform="rotate(28 266.6 302.2)" opacity="0.35"/><rect x="273.4" y="301.4" width="3.4" height="1.6" transform="rotate(28 274.7 302.2)" opacity="0.36"/><rect x="281.3" y="301.4" width="3.4" height="1.6" transform="rotate(28 282.7 302.2)" opacity="0.44"/><rect x="289.6" y="301.4" width="3.4" height="1.6" transform="rotate(28 291.0 302.2)" opacity="0.57"/><rect x="296.6" y="301.4" width="3.4" height="1.6" transform="rotate(28 297.9 302.2)" opacity="0.44"/><rect x="305.2" y="301.4" width="3.4" height="1.6" transform="rotate(28 306.6 302.2)" opacity="0.51"/><rect x="313.1" y="301.4" width="3.4" height="1.6" transform="rotate(28 314.5 302.2)" opacity="0.42"/><rect x="320.9" y="301.4" width="3.4" height="1.6" transform="rotate(28 322.2 302.2)" opacity="0.33"/><rect x="328.5" y="301.4" width="3.4" height="1.6" transform="rotate(28 329.8 302.2)" opacity="0.42"/><rect x="336.9" y="301.4" width="3.4" height="1.6" transform="rotate(28 338.3 302.2)" opacity="0.42"/><rect x="344.7" y="301.4" width="3.4" height="1.6" transform="rotate(28 346.0 302.2)" opacity="0.27"/><rect x="352.6" y="301.4" width="3.4" height="1.6" transform="rotate(28 354.0 302.2)" opacity="0.34"/><rect x="360.3" y="301.4" width="3.4" height="1.6" transform="rotate(28 361.6 302.2)" opacity="0.31"/><rect x="368.0" y="301.4" width="3.4" height="1.6" transform="rotate(28 369.4 302.2)" opacity="0.28"/><rect x="376.0" y="301.4" width="3.4" height="1.6" transform="rotate(28 377.3 302.2)" opacity="0.18"/><rect x="383.8" y="301.4" width="3.4" height="1.6" transform="rotate(28 385.1 302.2)" opacity="0.22"/><rect x="392.4" y="301.4" width="3.4" height="1.6" transform="rotate(28 393.7 302.2)" opacity="0.24"/><rect x="399.6" y="301.4" width="3.4" height="1.6" transform="rotate(28 401.0 302.2)" opacity="0.19"/><rect x="407.4" y="301.4" width="3.4" height="1.6" transform="rotate(28 408.7 302.2)" opacity="0.20"/><rect x="415.2" y="301.4" width="3.4" height="1.6" transform="rotate(28 416.5 302.2)" opacity="0.14"/><rect x="423.8" y="301.4" width="3.4" height="1.6" transform="rotate(28 425.2 302.2)" opacity="0.19"/><rect x="118.5" y="306.1" width="3.7" height="1.7" transform="rotate(28 119.9 307.0)" opacity="0.10"/><rect x="126.8" y="306.1" width="3.7" height="1.7" transform="rotate(28 128.2 307.0)" opacity="0.14"/><rect x="135.8" y="306.1" width="3.7" height="1.7" transform="rotate(28 137.3 307.0)" opacity="0.16"/><rect x="144.3" y="306.1" width="3.7" height="1.7" transform="rotate(28 145.7 307.0)" opacity="0.13"/><rect x="152.1" y="306.1" width="3.7" height="1.7" transform="rotate(28 153.5 307.0)" opacity="0.20"/><rect x="160.8" y="306.1" width="3.7" height="1.7" transform="rotate(28 162.2 307.0)" opacity="0.17"/><rect x="169.2" y="306.1" width="3.7" height="1.7" transform="rotate(28 170.6 307.0)" opacity="0.17"/><rect x="177.0" y="306.1" width="3.7" height="1.7" transform="rotate(28 178.4 307.0)" opacity="0.19"/><rect x="185.4" y="306.1" width="3.7" height="1.7" transform="rotate(28 186.8 307.0)" opacity="0.24"/><rect x="194.1" y="306.1" width="3.7" height="1.7" transform="rotate(28 195.5 307.0)" opacity="0.23"/><rect x="202.7" y="306.1" width="3.7" height="1.7" transform="rotate(28 204.2 307.0)" opacity="0.21"/><rect x="211.0" y="306.1" width="3.7" height="1.7" transform="rotate(28 212.4 307.0)" opacity="0.18"/><rect x="219.9" y="306.1" width="3.7" height="1.7" transform="rotate(28 221.3 307.0)" opacity="0.30"/><rect x="228.3" y="306.1" width="3.7" height="1.7" transform="rotate(28 229.7 307.0)" opacity="0.22"/><rect x="236.3" y="306.1" width="3.7" height="1.7" transform="rotate(28 237.8 307.0)" opacity="0.39"/><rect x="244.4" y="306.1" width="3.7" height="1.7" transform="rotate(28 245.9 307.0)" opacity="0.26"/><rect x="252.7" y="306.1" width="3.7" height="1.7" transform="rotate(28 254.1 307.0)" opacity="0.29"/><rect x="261.7" y="306.1" width="3.7" height="1.7" transform="rotate(28 263.1 307.0)" opacity="0.29"/><rect x="270.1" y="306.1" width="3.7" height="1.7" transform="rotate(28 271.5 307.0)" opacity="0.40"/><rect x="278.2" y="306.1" width="3.7" height="1.7" transform="rotate(28 279.7 307.0)" opacity="0.45"/><rect x="286.7" y="306.1" width="3.7" height="1.7" transform="rotate(28 288.1 307.0)" opacity="0.46"/><rect x="295.1" y="306.1" width="3.7" height="1.7" transform="rotate(28 296.5 307.0)" opacity="0.36"/><rect x="303.6" y="306.1" width="3.7" height="1.7" transform="rotate(28 305.1 307.0)" opacity="0.32"/><rect x="312.0" y="306.1" width="3.7" height="1.7" transform="rotate(28 313.4 307.0)" opacity="0.43"/><rect x="320.5" y="306.1" width="3.7" height="1.7" transform="rotate(28 321.9 307.0)" opacity="0.30"/><rect x="328.9" y="306.1" width="3.7" height="1.7" transform="rotate(28 330.3 307.0)" opacity="0.43"/><rect x="336.9" y="306.1" width="3.7" height="1.7" transform="rotate(28 338.3 307.0)" opacity="0.26"/><rect x="345.4" y="306.1" width="3.7" height="1.7" transform="rotate(28 346.8 307.0)" opacity="0.38"/><rect x="353.4" y="306.1" width="3.7" height="1.7" transform="rotate(28 354.8 307.0)" opacity="0.19"/><rect x="362.1" y="306.1" width="3.7" height="1.7" transform="rotate(28 363.6 307.0)" opacity="0.30"/><rect x="370.8" y="306.1" width="3.7" height="1.7" transform="rotate(28 372.3 307.0)" opacity="0.24"/><rect x="379.4" y="306.1" width="3.7" height="1.7" transform="rotate(28 380.9 307.0)" opacity="0.20"/><rect x="387.6" y="306.1" width="3.7" height="1.7" transform="rotate(28 389.0 307.0)" opacity="0.17"/><rect x="395.3" y="306.1" width="3.7" height="1.7" transform="rotate(28 396.7 307.0)" opacity="0.17"/><rect x="403.7" y="306.1" width="3.7" height="1.7" transform="rotate(28 405.1 307.0)" opacity="0.22"/><rect x="412.6" y="306.1" width="3.7" height="1.7" transform="rotate(28 414.0 307.0)" opacity="0.17"/><rect x="421.4" y="306.1" width="3.7" height="1.7" transform="rotate(28 422.8 307.0)" opacity="0.18"/><rect x="429.0" y="306.1" width="3.7" height="1.7" transform="rotate(28 430.4 307.0)" opacity="0.15"/><rect x="106.2" y="310.9" width="3.9" height="1.8" transform="rotate(28 107.8 311.8)" opacity="0.14"/><rect x="114.5" y="310.9" width="3.9" height="1.8" transform="rotate(28 116.1 311.8)" opacity="0.14"/><rect x="124.0" y="310.9" width="3.9" height="1.8" transform="rotate(28 125.5 311.8)" opacity="0.11"/><rect x="132.4" y="310.9" width="3.9" height="1.8" transform="rotate(28 133.9 311.8)" opacity="0.14"/><rect x="141.9" y="310.9" width="3.9" height="1.8" transform="rotate(28 143.4 311.8)" opacity="0.12"/><rect x="150.6" y="310.9" width="3.9" height="1.8" transform="rotate(28 152.1 311.8)" opacity="0.18"/><rect x="159.3" y="310.9" width="3.9" height="1.8" transform="rotate(28 160.8 311.8)" opacity="0.18"/><rect x="168.6" y="310.9" width="3.9" height="1.8" transform="rotate(28 170.1 311.8)" opacity="0.15"/><rect x="177.5" y="310.9" width="3.9" height="1.8" transform="rotate(28 179.0 311.8)" opacity="0.18"/><rect x="186.3" y="310.9" width="3.9" height="1.8" transform="rotate(28 187.8 311.8)" opacity="0.27"/><rect x="194.6" y="310.9" width="3.9" height="1.8" transform="rotate(28 196.1 311.8)" opacity="0.29"/><rect x="204.3" y="310.9" width="3.9" height="1.8" transform="rotate(28 205.8 311.8)" opacity="0.22"/><rect x="212.3" y="310.9" width="3.9" height="1.8" transform="rotate(28 213.8 311.8)" opacity="0.20"/><rect x="222.1" y="310.9" width="3.9" height="1.8" transform="rotate(28 223.6 311.8)" opacity="0.20"/><rect x="230.9" y="310.9" width="3.9" height="1.8" transform="rotate(28 232.5 311.8)" opacity="0.25"/><rect x="239.7" y="310.9" width="3.9" height="1.8" transform="rotate(28 241.2 311.8)" opacity="0.26"/><rect x="248.0" y="310.9" width="3.9" height="1.8" transform="rotate(28 249.5 311.8)" opacity="0.42"/><rect x="256.8" y="310.9" width="3.9" height="1.8" transform="rotate(28 258.4 311.8)" opacity="0.35"/><rect x="266.6" y="310.9" width="3.9" height="1.8" transform="rotate(28 268.1 311.8)" opacity="0.46"/><rect x="275.4" y="310.9" width="3.9" height="1.8" transform="rotate(28 277.0 311.8)" opacity="0.53"/><rect x="283.5" y="310.9" width="3.9" height="1.8" transform="rotate(28 285.0 311.8)" opacity="0.33"/><rect x="293.2" y="310.9" width="3.9" height="1.8" transform="rotate(28 294.7 311.8)" opacity="0.43"/><rect x="301.3" y="310.9" width="3.9" height="1.8" transform="rotate(28 302.8 311.8)" opacity="0.37"/><rect x="310.4" y="310.9" width="3.9" height="1.8" transform="rotate(28 311.9 311.8)" opacity="0.33"/><rect x="319.2" y="310.9" width="3.9" height="1.8" transform="rotate(28 320.7 311.8)" opacity="0.22"/><rect x="329.0" y="310.9" width="3.9" height="1.8" transform="rotate(28 330.5 311.8)" opacity="0.27"/><rect x="337.8" y="310.9" width="3.9" height="1.8" transform="rotate(28 339.3 311.8)" opacity="0.22"/><rect x="346.3" y="310.9" width="3.9" height="1.8" transform="rotate(28 347.8 311.8)" opacity="0.21"/><rect x="355.1" y="310.9" width="3.9" height="1.8" transform="rotate(28 356.6 311.8)" opacity="0.21"/><rect x="364.3" y="310.9" width="3.9" height="1.8" transform="rotate(28 365.8 311.8)" opacity="0.20"/><rect x="373.2" y="310.9" width="3.9" height="1.8" transform="rotate(28 374.8 311.8)" opacity="0.25"/><rect x="381.5" y="310.9" width="3.9" height="1.8" transform="rotate(28 383.0 311.8)" opacity="0.22"/><rect x="390.8" y="310.9" width="3.9" height="1.8" transform="rotate(28 392.3 311.8)" opacity="0.29"/><rect x="399.6" y="310.9" width="3.9" height="1.8" transform="rotate(28 401.1 311.8)" opacity="0.18"/><rect x="409.1" y="310.9" width="3.9" height="1.8" transform="rotate(28 410.6 311.8)" opacity="0.26"/><rect x="417.8" y="310.9" width="3.9" height="1.8" transform="rotate(28 419.3 311.8)" opacity="0.17"/><rect x="426.1" y="310.9" width="3.9" height="1.8" transform="rotate(28 427.6 311.8)" opacity="0.16"/><rect x="434.9" y="310.9" width="3.9" height="1.8" transform="rotate(28 436.4 311.8)" opacity="0.12"/><rect x="444.2" y="310.9" width="3.9" height="1.8" transform="rotate(28 445.8 311.8)" opacity="0.16"/><rect x="92.6" y="315.8" width="4.2" height="1.9" transform="rotate(28 94.2 316.8)" opacity="0.10"/><rect x="102.3" y="315.8" width="4.2" height="1.9" transform="rotate(28 103.9 316.8)" opacity="0.09"/><rect x="112.1" y="315.8" width="4.2" height="1.9" transform="rotate(28 113.7 316.8)" opacity="0.08"/><rect x="121.3" y="315.8" width="4.2" height="1.9" transform="rotate(28 122.9 316.8)" opacity="0.15"/><rect x="130.5" y="315.8" width="4.2" height="1.9" transform="rotate(28 132.1 316.8)" opacity="0.14"/><rect x="140.4" y="315.8" width="4.2" height="1.9" transform="rotate(28 142.0 316.8)" opacity="0.12"/><rect x="149.5" y="315.8" width="4.2" height="1.9" transform="rotate(28 151.1 316.8)" opacity="0.18"/><rect x="158.6" y="315.8" width="4.2" height="1.9" transform="rotate(28 160.2 316.8)" opacity="0.19"/><rect x="168.1" y="315.8" width="4.2" height="1.9" transform="rotate(28 169.7 316.8)" opacity="0.18"/><rect x="177.7" y="315.8" width="4.2" height="1.9" transform="rotate(28 179.3 316.8)" opacity="0.22"/><rect x="186.8" y="315.8" width="4.2" height="1.9" transform="rotate(28 188.5 316.8)" opacity="0.23"/><rect x="196.5" y="315.8" width="4.2" height="1.9" transform="rotate(28 198.1 316.8)" opacity="0.19"/><rect x="206.0" y="315.8" width="4.2" height="1.9" transform="rotate(28 207.6 316.8)" opacity="0.21"/><rect x="215.7" y="315.8" width="4.2" height="1.9" transform="rotate(28 217.3 316.8)" opacity="0.27"/><rect x="224.9" y="315.8" width="4.2" height="1.9" transform="rotate(28 226.6 316.8)" opacity="0.31"/><rect x="234.1" y="315.8" width="4.2" height="1.9" transform="rotate(28 235.7 316.8)" opacity="0.27"/><rect x="243.2" y="315.8" width="4.2" height="1.9" transform="rotate(28 244.8 316.8)" opacity="0.46"/><rect x="253.0" y="315.8" width="4.2" height="1.9" transform="rotate(28 254.6 316.8)" opacity="0.38"/><rect x="262.4" y="315.8" width="4.2" height="1.9" transform="rotate(28 264.1 316.8)" opacity="0.46"/><rect x="271.6" y="315.8" width="4.2" height="1.9" transform="rotate(28 273.2 316.8)" opacity="0.30"/><rect x="281.6" y="315.8" width="4.2" height="1.9" transform="rotate(28 283.2 316.8)" opacity="0.37"/><rect x="290.8" y="315.8" width="4.2" height="1.9" transform="rotate(28 292.4 316.8)" opacity="0.44"/><rect x="300.5" y="315.8" width="4.2" height="1.9" transform="rotate(28 302.1 316.8)" opacity="0.43"/><rect x="309.1" y="315.8" width="4.2" height="1.9" transform="rotate(28 310.7 316.8)" opacity="0.30"/><rect x="319.3" y="315.8" width="4.2" height="1.9" transform="rotate(28 320.9 316.8)" opacity="0.37"/><rect x="328.0" y="315.8" width="4.2" height="1.9" transform="rotate(28 329.6 316.8)" opacity="0.22"/><rect x="337.6" y="315.8" width="4.2" height="1.9" transform="rotate(28 339.2 316.8)" opacity="0.20"/><rect x="347.1" y="315.8" width="4.2" height="1.9" transform="rotate(28 348.7 316.8)" opacity="0.32"/><rect x="356.7" y="315.8" width="4.2" height="1.9" transform="rotate(28 358.3 316.8)" opacity="0.25"/><rect x="365.7" y="315.8" width="4.2" height="1.9" transform="rotate(28 367.3 316.8)" opacity="0.23"/><rect x="376.0" y="315.8" width="4.2" height="1.9" transform="rotate(28 377.6 316.8)" opacity="0.27"/><rect x="384.9" y="315.8" width="4.2" height="1.9" transform="rotate(28 386.5 316.8)" opacity="0.22"/><rect x="394.7" y="315.8" width="4.2" height="1.9" transform="rotate(28 396.3 316.8)" opacity="0.25"/><rect x="403.4" y="315.8" width="4.2" height="1.9" transform="rotate(28 405.0 316.8)" opacity="0.23"/><rect x="413.1" y="315.8" width="4.2" height="1.9" transform="rotate(28 414.7 316.8)" opacity="0.20"/><rect x="422.4" y="315.8" width="4.2" height="1.9" transform="rotate(28 424.0 316.8)" opacity="0.17"/><rect x="431.9" y="315.8" width="4.2" height="1.9" transform="rotate(28 433.5 316.8)" opacity="0.16"/><rect x="441.0" y="315.8" width="4.2" height="1.9" transform="rotate(28 442.6 316.8)" opacity="0.13"/><rect x="451.0" y="315.8" width="4.2" height="1.9" transform="rotate(28 452.6 316.8)" opacity="0.11"/><rect x="88.9" y="320.8" width="4.5" height="2.1" transform="rotate(28 90.6 321.8)" opacity="0.10"/><rect x="99.2" y="320.8" width="4.5" height="2.1" transform="rotate(28 100.9 321.8)" opacity="0.10"/><rect x="109.3" y="320.8" width="4.5" height="2.1" transform="rotate(28 111.0 321.8)" opacity="0.13"/><rect x="119.5" y="320.8" width="4.5" height="2.1" transform="rotate(28 121.2 321.8)" opacity="0.08"/><rect x="129.3" y="320.8" width="4.5" height="2.1" transform="rotate(28 131.0 321.8)" opacity="0.12"/><rect x="139.1" y="320.8" width="4.5" height="2.1" transform="rotate(28 140.8 321.8)" opacity="0.17"/><rect x="149.0" y="320.8" width="4.5" height="2.1" transform="rotate(28 150.7 321.8)" opacity="0.15"/><rect x="159.4" y="320.8" width="4.5" height="2.1" transform="rotate(28 161.1 321.8)" opacity="0.16"/><rect x="169.0" y="320.8" width="4.5" height="2.1" transform="rotate(28 170.7 321.8)" opacity="0.18"/><rect x="179.3" y="320.8" width="4.5" height="2.1" transform="rotate(28 181.0 321.8)" opacity="0.21"/><rect x="189.1" y="320.8" width="4.5" height="2.1" transform="rotate(28 190.9 321.8)" opacity="0.20"/><rect x="198.4" y="320.8" width="4.5" height="2.1" transform="rotate(28 200.1 321.8)" opacity="0.26"/><rect x="208.9" y="320.8" width="4.5" height="2.1" transform="rotate(28 210.6 321.8)" opacity="0.30"/><rect x="219.0" y="320.8" width="4.5" height="2.1" transform="rotate(28 220.8 321.8)" opacity="0.21"/><rect x="228.4" y="320.8" width="4.5" height="2.1" transform="rotate(28 230.2 321.8)" opacity="0.22"/><rect x="239.0" y="320.8" width="4.5" height="2.1" transform="rotate(28 240.7 321.8)" opacity="0.25"/><rect x="248.2" y="320.8" width="4.5" height="2.1" transform="rotate(28 249.9 321.8)" opacity="0.41"/><rect x="258.7" y="320.8" width="4.5" height="2.1" transform="rotate(28 260.4 321.8)" opacity="0.26"/><rect x="268.7" y="320.8" width="4.5" height="2.1" transform="rotate(28 270.4 321.8)" opacity="0.41"/><rect x="278.5" y="320.8" width="4.5" height="2.1" transform="rotate(28 280.2 321.8)" opacity="0.25"/><rect x="288.7" y="320.8" width="4.5" height="2.1" transform="rotate(28 290.4 321.8)" opacity="0.32"/><rect x="298.5" y="320.8" width="4.5" height="2.1" transform="rotate(28 300.2 321.8)" opacity="0.42"/><rect x="308.7" y="320.8" width="4.5" height="2.1" transform="rotate(28 310.4 321.8)" opacity="0.37"/><rect x="318.0" y="320.8" width="4.5" height="2.1" transform="rotate(28 319.7 321.8)" opacity="0.25"/><rect x="328.3" y="320.8" width="4.5" height="2.1" transform="rotate(28 330.0 321.8)" opacity="0.18"/><rect x="338.7" y="320.8" width="4.5" height="2.1" transform="rotate(28 340.4 321.8)" opacity="0.22"/><rect x="348.0" y="320.8" width="4.5" height="2.1" transform="rotate(28 349.7 321.8)" opacity="0.22"/><rect x="357.9" y="320.8" width="4.5" height="2.1" transform="rotate(28 359.6 321.8)" opacity="0.30"/><rect x="368.2" y="320.8" width="4.5" height="2.1" transform="rotate(28 369.9 321.8)" opacity="0.23"/><rect x="378.0" y="320.8" width="4.5" height="2.1" transform="rotate(28 379.7 321.8)" opacity="0.16"/><rect x="387.8" y="320.8" width="4.5" height="2.1" transform="rotate(28 389.5 321.8)" opacity="0.26"/><rect x="398.3" y="320.8" width="4.5" height="2.1" transform="rotate(28 400.0 321.8)" opacity="0.25"/><rect x="407.7" y="320.8" width="4.5" height="2.1" transform="rotate(28 409.4 321.8)" opacity="0.15"/><rect x="417.4" y="320.8" width="4.5" height="2.1" transform="rotate(28 419.2 321.8)" opacity="0.19"/><rect x="427.7" y="320.8" width="4.5" height="2.1" transform="rotate(28 429.4 321.8)" opacity="0.17"/><rect x="437.8" y="320.8" width="4.5" height="2.1" transform="rotate(28 439.5 321.8)" opacity="0.17"/><rect x="447.6" y="320.8" width="4.5" height="2.1" transform="rotate(28 449.3 321.8)" opacity="0.18"/><rect x="457.4" y="320.8" width="4.5" height="2.1" transform="rotate(28 459.1 321.8)" opacity="0.18"/><rect x="86.9" y="325.9" width="4.7" height="2.2" transform="rotate(28 88.7 327.0)" opacity="0.09"/><rect x="108.0" y="325.9" width="4.7" height="2.2" transform="rotate(28 109.9 327.0)" opacity="0.08"/><rect x="118.6" y="325.9" width="4.7" height="2.2" transform="rotate(28 120.4 327.0)" opacity="0.09"/><rect x="128.3" y="325.9" width="4.7" height="2.2" transform="rotate(28 130.1 327.0)" opacity="0.09"/><rect x="139.5" y="325.9" width="4.7" height="2.2" transform="rotate(28 141.3 327.0)" opacity="0.17"/><rect x="149.6" y="325.9" width="4.7" height="2.2" transform="rotate(28 151.4 327.0)" opacity="0.16"/><rect x="160.0" y="325.9" width="4.7" height="2.2" transform="rotate(28 161.8 327.0)" opacity="0.20"/><rect x="170.9" y="325.9" width="4.7" height="2.2" transform="rotate(28 172.7 327.0)" opacity="0.13"/><rect x="180.8" y="325.9" width="4.7" height="2.2" transform="rotate(28 182.6 327.0)" opacity="0.21"/><rect x="191.2" y="325.9" width="4.7" height="2.2" transform="rotate(28 193.1 327.0)" opacity="0.26"/><rect x="202.0" y="325.9" width="4.7" height="2.2" transform="rotate(28 203.8 327.0)" opacity="0.19"/><rect x="212.8" y="325.9" width="4.7" height="2.2" transform="rotate(28 214.6 327.0)" opacity="0.23"/><rect x="223.3" y="325.9" width="4.7" height="2.2" transform="rotate(28 225.1 327.0)" opacity="0.22"/><rect x="234.1" y="325.9" width="4.7" height="2.2" transform="rotate(28 235.9 327.0)" opacity="0.28"/><rect x="244.5" y="325.9" width="4.7" height="2.2" transform="rotate(28 246.4 327.0)" opacity="0.26"/><rect x="255.0" y="325.9" width="4.7" height="2.2" transform="rotate(28 256.8 327.0)" opacity="0.45"/><rect x="265.1" y="325.9" width="4.7" height="2.2" transform="rotate(28 266.9 327.0)" opacity="0.23"/><rect x="275.6" y="325.9" width="4.7" height="2.2" transform="rotate(28 277.4 327.0)" opacity="0.36"/><rect x="285.9" y="325.9" width="4.7" height="2.2" transform="rotate(28 287.7 327.0)" opacity="0.32"/><rect x="296.3" y="325.9" width="4.7" height="2.2" transform="rotate(28 298.1 327.0)" opacity="0.28"/><rect x="307.4" y="325.9" width="4.7" height="2.2" transform="rotate(28 309.2 327.0)" opacity="0.26"/><rect x="317.9" y="325.9" width="4.7" height="2.2" transform="rotate(28 319.7 327.0)" opacity="0.19"/><rect x="328.5" y="325.9" width="4.7" height="2.2" transform="rotate(28 330.3 327.0)" opacity="0.19"/><rect x="339.1" y="325.9" width="4.7" height="2.2" transform="rotate(28 340.9 327.0)" opacity="0.32"/><rect x="349.6" y="325.9" width="4.7" height="2.2" transform="rotate(28 351.4 327.0)" opacity="0.23"/><rect x="359.5" y="325.9" width="4.7" height="2.2" transform="rotate(28 361.3 327.0)" opacity="0.20"/><rect x="370.4" y="325.9" width="4.7" height="2.2" transform="rotate(28 372.2 327.0)" opacity="0.21"/><rect x="381.1" y="325.9" width="4.7" height="2.2" transform="rotate(28 382.9 327.0)" opacity="0.15"/><rect x="391.2" y="325.9" width="4.7" height="2.2" transform="rotate(28 393.0 327.0)" opacity="0.24"/><rect x="401.8" y="325.9" width="4.7" height="2.2" transform="rotate(28 403.6 327.0)" opacity="0.19"/><rect x="411.8" y="325.9" width="4.7" height="2.2" transform="rotate(28 413.6 327.0)" opacity="0.13"/><rect x="422.4" y="325.9" width="4.7" height="2.2" transform="rotate(28 424.3 327.0)" opacity="0.21"/><rect x="433.5" y="325.9" width="4.7" height="2.2" transform="rotate(28 435.3 327.0)" opacity="0.13"/><rect x="444.1" y="325.9" width="4.7" height="2.2" transform="rotate(28 445.9 327.0)" opacity="0.10"/><rect x="454.3" y="325.9" width="4.7" height="2.2" transform="rotate(28 456.1 327.0)" opacity="0.17"/><rect x="464.5" y="325.9" width="4.7" height="2.2" transform="rotate(28 466.3 327.0)" opacity="0.16"/><rect x="96.3" y="331.1" width="5.0" height="2.3" transform="rotate(28 98.2 332.3)" opacity="0.10"/><rect x="117.7" y="331.1" width="5.0" height="2.3" transform="rotate(28 119.6 332.3)" opacity="0.13"/><rect x="128.7" y="331.1" width="5.0" height="2.3" transform="rotate(28 130.7 332.3)" opacity="0.11"/><rect x="140.2" y="331.1" width="5.0" height="2.3" transform="rotate(28 142.1 332.3)" opacity="0.09"/><rect x="151.2" y="331.1" width="5.0" height="2.3" transform="rotate(28 153.1 332.3)" opacity="0.10"/><rect x="162.3" y="331.1" width="5.0" height="2.3" transform="rotate(28 164.2 332.3)" opacity="0.15"/><rect x="173.2" y="331.1" width="5.0" height="2.3" transform="rotate(28 175.1 332.3)" opacity="0.13"/><rect x="184.3" y="331.1" width="5.0" height="2.3" transform="rotate(28 186.2 332.3)" opacity="0.15"/><rect x="195.1" y="331.1" width="5.0" height="2.3" transform="rotate(28 197.0 332.3)" opacity="0.18"/><rect x="206.9" y="331.1" width="5.0" height="2.3" transform="rotate(28 208.8 332.3)" opacity="0.24"/><rect x="217.9" y="331.1" width="5.0" height="2.3" transform="rotate(28 219.9 332.3)" opacity="0.18"/><rect x="229.0" y="331.1" width="5.0" height="2.3" transform="rotate(28 231.0 332.3)" opacity="0.29"/><rect x="239.9" y="331.1" width="5.0" height="2.3" transform="rotate(28 241.9 332.3)" opacity="0.33"/><rect x="250.9" y="331.1" width="5.0" height="2.3" transform="rotate(28 252.8 332.3)" opacity="0.26"/><rect x="262.0" y="331.1" width="5.0" height="2.3" transform="rotate(28 263.9 332.3)" opacity="0.24"/><rect x="272.6" y="331.1" width="5.0" height="2.3" transform="rotate(28 274.5 332.3)" opacity="0.20"/><rect x="283.8" y="331.1" width="5.0" height="2.3" transform="rotate(28 285.7 332.3)" opacity="0.28"/><rect x="294.7" y="331.1" width="5.0" height="2.3" transform="rotate(28 296.6 332.3)" opacity="0.33"/><rect x="305.6" y="331.1" width="5.0" height="2.3" transform="rotate(28 307.5 332.3)" opacity="0.26"/><rect x="316.8" y="331.1" width="5.0" height="2.3" transform="rotate(28 318.7 332.3)" opacity="0.25"/><rect x="328.4" y="331.1" width="5.0" height="2.3" transform="rotate(28 330.3 332.3)" opacity="0.26"/><rect x="338.7" y="331.1" width="5.0" height="2.3" transform="rotate(28 340.6 332.3)" opacity="0.18"/><rect x="350.3" y="331.1" width="5.0" height="2.3" transform="rotate(28 352.2 332.3)" opacity="0.28"/><rect x="360.8" y="331.1" width="5.0" height="2.3" transform="rotate(28 362.7 332.3)" opacity="0.22"/><rect x="372.5" y="331.1" width="5.0" height="2.3" transform="rotate(28 374.4 332.3)" opacity="0.24"/><rect x="383.2" y="331.1" width="5.0" height="2.3" transform="rotate(28 385.1 332.3)" opacity="0.23"/><rect x="394.4" y="331.1" width="5.0" height="2.3" transform="rotate(28 396.3 332.3)" opacity="0.23"/><rect x="405.0" y="331.1" width="5.0" height="2.3" transform="rotate(28 406.9 332.3)" opacity="0.22"/><rect x="416.4" y="331.1" width="5.0" height="2.3" transform="rotate(28 418.3 332.3)" opacity="0.15"/><rect x="427.1" y="331.1" width="5.0" height="2.3" transform="rotate(28 429.1 332.3)" opacity="0.12"/><rect x="438.8" y="331.1" width="5.0" height="2.3" transform="rotate(28 440.8 332.3)" opacity="0.15"/><rect x="449.3" y="331.1" width="5.0" height="2.3" transform="rotate(28 451.2 332.3)" opacity="0.11"/><rect x="460.3" y="331.1" width="5.0" height="2.3" transform="rotate(28 462.3 332.3)" opacity="0.09"/><rect x="471.5" y="331.1" width="5.0" height="2.3" transform="rotate(28 473.4 332.3)" opacity="0.09"/><rect x="84.3" y="336.4" width="5.3" height="2.4" transform="rotate(28 86.4 337.6)" opacity="0.08"/><rect x="107.6" y="336.4" width="5.3" height="2.4" transform="rotate(28 109.6 337.6)" opacity="0.10"/><rect x="119.2" y="336.4" width="5.3" height="2.4" transform="rotate(28 121.3 337.6)" opacity="0.08"/><rect x="130.9" y="336.4" width="5.3" height="2.4" transform="rotate(28 133.0 337.6)" opacity="0.11"/><rect x="142.5" y="336.4" width="5.3" height="2.4" transform="rotate(28 144.6 337.6)" opacity="0.09"/><rect x="154.2" y="336.4" width="5.3" height="2.4" transform="rotate(28 156.2 337.6)" opacity="0.15"/><rect x="165.1" y="336.4" width="5.3" height="2.4" transform="rotate(28 167.1 337.6)" opacity="0.18"/><rect x="176.7" y="336.4" width="5.3" height="2.4" transform="rotate(28 178.7 337.6)" opacity="0.13"/><rect x="188.5" y="336.4" width="5.3" height="2.4" transform="rotate(28 190.5 337.6)" opacity="0.16"/><rect x="200.2" y="336.4" width="5.3" height="2.4" transform="rotate(28 202.2 337.6)" opacity="0.28"/><rect x="212.0" y="336.4" width="5.3" height="2.4" transform="rotate(28 214.0 337.6)" opacity="0.28"/><rect x="223.3" y="336.4" width="5.3" height="2.4" transform="rotate(28 225.3 337.6)" opacity="0.32"/><rect x="235.3" y="336.4" width="5.3" height="2.4" transform="rotate(28 237.4 337.6)" opacity="0.32"/><rect x="247.1" y="336.4" width="5.3" height="2.4" transform="rotate(28 249.1 337.6)" opacity="0.35"/><rect x="258.2" y="336.4" width="5.3" height="2.4" transform="rotate(28 260.2 337.6)" opacity="0.20"/><rect x="270.0" y="336.4" width="5.3" height="2.4" transform="rotate(28 272.1 337.6)" opacity="0.33"/><rect x="281.3" y="336.4" width="5.3" height="2.4" transform="rotate(28 283.4 337.6)" opacity="0.27"/><rect x="293.5" y="336.4" width="5.3" height="2.4" transform="rotate(28 295.5 337.6)" opacity="0.28"/><rect x="304.2" y="336.4" width="5.3" height="2.4" transform="rotate(28 306.3 337.6)" opacity="0.22"/><rect x="315.9" y="336.4" width="5.3" height="2.4" transform="rotate(28 317.9 337.6)" opacity="0.16"/><rect x="328.3" y="336.4" width="5.3" height="2.4" transform="rotate(28 330.3 337.6)" opacity="0.19"/><rect x="339.7" y="336.4" width="5.3" height="2.4" transform="rotate(28 341.7 337.6)" opacity="0.19"/><rect x="351.0" y="336.4" width="5.3" height="2.4" transform="rotate(28 353.1 337.6)" opacity="0.16"/><rect x="362.7" y="336.4" width="5.3" height="2.4" transform="rotate(28 364.7 337.6)" opacity="0.23"/><rect x="374.6" y="336.4" width="5.3" height="2.4" transform="rotate(28 376.6 337.6)" opacity="0.15"/><rect x="385.6" y="336.4" width="5.3" height="2.4" transform="rotate(28 387.7 337.6)" opacity="0.14"/><rect x="397.9" y="336.4" width="5.3" height="2.4" transform="rotate(28 399.9 337.6)" opacity="0.16"/><rect x="409.5" y="336.4" width="5.3" height="2.4" transform="rotate(28 411.5 337.6)" opacity="0.18"/><rect x="420.5" y="336.4" width="5.3" height="2.4" transform="rotate(28 422.6 337.6)" opacity="0.16"/><rect x="432.1" y="336.4" width="5.3" height="2.4" transform="rotate(28 434.1 337.6)" opacity="0.16"/><rect x="443.8" y="336.4" width="5.3" height="2.4" transform="rotate(28 445.9 337.6)" opacity="0.10"/><rect x="456.2" y="336.4" width="5.3" height="2.4" transform="rotate(28 458.3 337.6)" opacity="0.10"/><rect x="467.1" y="336.4" width="5.3" height="2.4" transform="rotate(28 469.1 337.6)" opacity="0.13"/><rect x="479.1" y="336.4" width="5.3" height="2.4" transform="rotate(28 481.1 337.6)" opacity="0.12"/><rect x="490.5" y="336.4" width="5.3" height="2.4" transform="rotate(28 492.5 337.6)" opacity="0.08"/><rect x="157.0" y="341.8" width="5.6" height="2.6" transform="rotate(28 159.2 343.1)" opacity="0.08"/><rect x="168.9" y="341.8" width="5.6" height="2.6" transform="rotate(28 171.0 343.1)" opacity="0.09"/><rect x="181.7" y="341.8" width="5.6" height="2.6" transform="rotate(28 183.9 343.1)" opacity="0.09"/><rect x="193.7" y="341.8" width="5.6" height="2.6" transform="rotate(28 195.8 343.1)" opacity="0.11"/><rect x="206.3" y="341.8" width="5.6" height="2.6" transform="rotate(28 208.5 343.1)" opacity="0.13"/><rect x="218.4" y="341.8" width="5.6" height="2.6" transform="rotate(28 220.5 343.1)" opacity="0.09"/><rect x="230.1" y="341.8" width="5.6" height="2.6" transform="rotate(28 232.3 343.1)" opacity="0.10"/><rect x="243.0" y="341.8" width="5.6" height="2.6" transform="rotate(28 245.1 343.1)" opacity="0.17"/><rect x="254.3" y="341.8" width="5.6" height="2.6" transform="rotate(28 256.5 343.1)" opacity="0.13"/><rect x="267.0" y="341.8" width="5.6" height="2.6" transform="rotate(28 269.1 343.1)" opacity="0.08"/><rect x="279.0" y="341.8" width="5.6" height="2.6" transform="rotate(28 281.1 343.1)" opacity="0.13"/><rect x="291.4" y="341.8" width="5.6" height="2.6" transform="rotate(28 293.6 343.1)" opacity="0.09"/><rect x="303.7" y="341.8" width="5.6" height="2.6" transform="rotate(28 305.9 343.1)" opacity="0.09"/><rect x="315.7" y="341.8" width="5.6" height="2.6" transform="rotate(28 317.9 343.1)" opacity="0.09"/><rect x="328.3" y="341.8" width="5.6" height="2.6" transform="rotate(28 330.5 343.1)" opacity="0.10"/><rect x="340.4" y="341.8" width="5.6" height="2.6" transform="rotate(28 342.5 343.1)" opacity="0.10"/><rect x="352.1" y="341.8" width="5.6" height="2.6" transform="rotate(28 354.3 343.1)" opacity="0.11"/><rect x="364.6" y="341.8" width="5.6" height="2.6" transform="rotate(28 366.8 343.1)" opacity="0.09"/><rect x="388.9" y="341.8" width="5.6" height="2.6" transform="rotate(28 391.0 343.1)" opacity="0.09"/><rect x="161.5" y="347.4" width="5.9" height="2.7" transform="rotate(28 163.7 348.7)" opacity="0.08"/><rect x="186.7" y="347.4" width="5.9" height="2.7" transform="rotate(28 189.0 348.7)" opacity="0.09"/><rect x="200.2" y="347.4" width="5.9" height="2.7" transform="rotate(28 202.5 348.7)" opacity="0.11"/><rect x="212.6" y="347.4" width="5.9" height="2.7" transform="rotate(28 214.9 348.7)" opacity="0.13"/><rect x="225.1" y="347.4" width="5.9" height="2.7" transform="rotate(28 227.4 348.7)" opacity="0.10"/><rect x="238.4" y="347.4" width="5.9" height="2.7" transform="rotate(28 240.7 348.7)" opacity="0.15"/><rect x="251.2" y="347.4" width="5.9" height="2.7" transform="rotate(28 253.5 348.7)" opacity="0.13"/><rect x="264.1" y="347.4" width="5.9" height="2.7" transform="rotate(28 266.4 348.7)" opacity="0.10"/><rect x="277.1" y="347.4" width="5.9" height="2.7" transform="rotate(28 279.3 348.7)" opacity="0.11"/><rect x="289.2" y="347.4" width="5.9" height="2.7" transform="rotate(28 291.5 348.7)" opacity="0.08"/><rect x="302.5" y="347.4" width="5.9" height="2.7" transform="rotate(28 304.7 348.7)" opacity="0.08"/><rect x="314.7" y="347.4" width="5.9" height="2.7" transform="rotate(28 316.9 348.7)" opacity="0.11"/><rect x="327.8" y="347.4" width="5.9" height="2.7" transform="rotate(28 330.0 348.7)" opacity="0.08"/><rect x="340.7" y="347.4" width="5.9" height="2.7" transform="rotate(28 342.9 348.7)" opacity="0.10"/><rect x="378.9" y="347.4" width="5.9" height="2.7" transform="rotate(28 381.1 348.7)" opacity="0.09"/><rect x="194.2" y="353.0" width="6.2" height="2.8" transform="rotate(28 196.5 354.4)" opacity="0.07"/><rect x="207.6" y="353.0" width="6.2" height="2.8" transform="rotate(28 209.9 354.4)" opacity="0.12"/><rect x="247.4" y="353.0" width="6.2" height="2.8" transform="rotate(28 249.7 354.4)" opacity="0.09"/><rect x="260.3" y="353.0" width="6.2" height="2.8" transform="rotate(28 262.7 354.4)" opacity="0.10"/><rect x="274.3" y="353.0" width="6.2" height="2.8" transform="rotate(28 276.7 354.4)" opacity="0.09"/><rect x="287.4" y="353.0" width="6.2" height="2.8" transform="rotate(28 289.8 354.4)" opacity="0.08"/><rect x="314.6" y="353.0" width="6.2" height="2.8" transform="rotate(28 317.0 354.4)" opacity="0.10"/><rect x="327.9" y="353.0" width="6.2" height="2.8" transform="rotate(28 330.3 354.4)" opacity="0.09"/><rect x="340.8" y="353.0" width="6.2" height="2.8" transform="rotate(28 343.2 354.4)" opacity="0.09"/><rect x="216.1" y="358.7" width="6.5" height="3.0" transform="rotate(28 218.5 360.2)" opacity="0.11"/><rect x="230.1" y="358.7" width="6.5" height="3.0" transform="rotate(28 232.6 360.2)" opacity="0.12"/><rect x="243.5" y="358.7" width="6.5" height="3.0" transform="rotate(28 246.0 360.2)" opacity="0.10"/><rect x="257.5" y="358.7" width="6.5" height="3.0" transform="rotate(28 260.0 360.2)" opacity="0.09"/><rect x="313.0" y="358.7" width="6.5" height="3.0" transform="rotate(28 315.5 360.2)" opacity="0.08"/><rect x="341.0" y="358.7" width="6.5" height="3.0" transform="rotate(28 343.5 360.2)" opacity="0.08"/><rect x="166.9" y="364.5" width="6.8" height="3.1" transform="rotate(28 169.5 366.1)" opacity="0.07"/><rect x="195.5" y="364.5" width="6.8" height="3.1" transform="rotate(28 198.1 366.1)" opacity="0.09"/><rect x="210.2" y="364.5" width="6.8" height="3.1" transform="rotate(28 212.8 366.1)" opacity="0.11"/><rect x="269.3" y="364.5" width="6.8" height="3.1" transform="rotate(28 271.9 366.1)" opacity="0.07"/><rect x="220.6" y="370.4" width="7.1" height="3.3" transform="rotate(28 223.3 372.0)" opacity="0.09"/><rect x="236.1" y="370.4" width="7.1" height="3.3" transform="rotate(28 238.8 372.0)" opacity="0.08"/></g>
<g fill="#6fa6f0"><rect x="341.4" y="96.6" width="6" height="3.5" transform="rotate(-20 341.4 96.6)" opacity="0.36"/><rect x="208.1" y="85.1" width="6" height="3.5" transform="rotate(-20 208.1 85.1)" opacity="0.17"/><rect x="324.1" y="118.8" width="6" height="3.5" transform="rotate(-20 324.1 118.8)" opacity="0.22"/><rect x="200.3" y="105.9" width="6" height="3.5" transform="rotate(-20 200.3 105.9)" opacity="0.21"/><rect x="233.5" y="117.7" width="6" height="3.5" transform="rotate(-20 233.5 117.7)" opacity="0.19"/><rect x="271.2" y="127.8" width="6" height="3.5" transform="rotate(-20 271.2 127.8)" opacity="0.32"/><rect x="309.8" y="139.2" width="6" height="3.5" transform="rotate(-20 309.8 139.2)" opacity="0.24"/><rect x="144.1" y="113.7" width="6" height="3.5" transform="rotate(-20 144.1 113.7)" opacity="0.19"/><rect x="220.3" y="136.6" width="6" height="3.5" transform="rotate(-20 220.3 136.6)" opacity="0.27"/><rect x="263.2" y="145.8" width="6" height="3.5" transform="rotate(-20 263.2 145.8)" opacity="0.32"/><rect x="338.2" y="170.3" width="6" height="3.5" transform="rotate(-20 338.2 170.3)" opacity="0.36"/><rect x="97.5" y="124.5" width="6" height="3.5" transform="rotate(-20 97.5 124.5)" opacity="0.12"/><rect x="129.0" y="134.0" width="6" height="3.5" transform="rotate(-20 129.0 134.0)" opacity="0.17"/><rect x="171.7" y="145.1" width="6" height="3.5" transform="rotate(-20 171.7 145.1)" opacity="0.18"/><rect x="204.6" y="155.5" width="6" height="3.5" transform="rotate(-20 204.6 155.5)" opacity="0.23"/><rect x="247.3" y="165.9" width="6" height="3.5" transform="rotate(-20 247.3 165.9)" opacity="0.29"/><rect x="285.7" y="179.1" width="6" height="3.5" transform="rotate(-20 285.7 179.1)" opacity="0.29"/><rect x="325.4" y="190.7" width="6" height="3.5" transform="rotate(-20 325.4 190.7)" opacity="0.24"/><rect x="155.2" y="163.4" width="6" height="3.5" transform="rotate(-20 155.2 163.4)" opacity="0.18"/><rect x="305.4" y="210.1" width="6" height="3.5" transform="rotate(-20 305.4 210.1)" opacity="0.27"/><rect x="103.7" y="174.9" width="6" height="3.5" transform="rotate(-20 103.7 174.9)" opacity="0.16"/><rect x="216.0" y="206.9" width="6" height="3.5" transform="rotate(-20 216.0 206.9)" opacity="0.24"/><rect x="126.9" y="204.5" width="6" height="3.5" transform="rotate(-20 126.9 204.5)" opacity="0.23"/><rect x="162.9" y="214.9" width="6" height="3.5" transform="rotate(-20 162.9 214.9)" opacity="0.27"/></g><g fill="#4f86e6"><polygon points="491.0,439.2 498.6,436.6 506.3,443.9 498.6,446.5" opacity="0.21"/><polygon points="548.7,378.9 556.4,376.3 564.1,383.6 556.4,386.2" opacity="0.30"/><polygon points="536.0,348.2 542.6,345.9 549.2,352.3 542.6,354.5" opacity="0.28"/><polygon points="488.7,346.4 495.4,344.1 502.2,350.6 495.4,352.8" opacity="0.34"/><polygon points="471.0,341.3 478.8,338.6 486.5,346.1 478.8,348.7" opacity="0.44"/><polygon points="441.2,438.1 448.5,435.6 455.9,442.6 448.5,445.1" opacity="0.20"/><polygon points="439.6,432.2 445.7,430.2 451.7,436.0 445.7,438.0" opacity="0.37"/><polygon points="534.2,348.7 541.3,346.3 548.4,353.1 541.3,355.4" opacity="0.21"/><polygon points="528.5,457.2 535.6,454.8 542.6,461.6 535.6,463.9" opacity="0.29"/><polygon points="535.8,398.4 543.2,395.9 550.6,403.0 543.2,405.5" opacity="0.24"/><polygon points="506.9,377.9 513.2,375.8 519.4,381.8 513.2,383.9" opacity="0.35"/><polygon points="342.2,377.6 347.8,375.7 353.5,381.0 347.8,383.0" opacity="0.33"/><polygon points="238.3,330.5 243.6,328.7 249.0,333.8 243.6,335.7" opacity="0.29"/><polygon points="492.7,352.4 499.5,350.1 506.3,356.6 499.5,358.9" opacity="0.26"/><polygon points="293.6,406.1 298.4,404.5 303.2,409.1 298.4,410.7" opacity="0.43"/><polygon points="448.7,425.3 455.7,422.9 462.6,429.5 455.7,431.9" opacity="0.36"/><polygon points="482.2,356.6 489.9,354.0 497.6,361.3 489.9,363.9" opacity="0.41"/><polygon points="202.9,466.2 207.0,464.9 211.0,468.7 207.0,470.1" opacity="0.19"/><polygon points="219.9,439.4 224.1,437.9 228.4,442.0 224.1,443.4" opacity="0.31"/><polygon points="411.2,411.7 417.0,409.7 422.9,415.3 417.0,417.3" opacity="0.45"/><polygon points="498.1,353.6 504.1,351.6 510.1,357.3 504.1,359.3" opacity="0.25"/><polygon points="394.7,408.5 400.1,406.7 405.4,411.8 400.1,413.6" opacity="0.28"/><polygon points="315.9,336.3 321.1,334.6 326.3,339.5 321.1,341.3" opacity="0.25"/><polygon points="425.2,346.2 431.3,344.1 437.5,350.0 431.3,352.1" opacity="0.32"/><polygon points="545.1,387.0 552.1,384.6 559.2,391.4 552.1,393.7" opacity="0.44"/><polygon points="305.8,404.4 310.6,402.7 315.4,407.3 310.6,409.0" opacity="0.24"/><polygon points="222.7,422.6 227.5,421.0 232.2,425.5 227.5,427.1" opacity="0.43"/><polygon points="373.3,378.1 379.6,375.9 385.9,382.0 379.6,384.1" opacity="0.29"/><polygon points="387.4,342.7 393.6,340.6 399.8,346.6 393.6,348.6" opacity="0.42"/><polygon points="125.3,448.9 129.3,447.5 133.3,451.3 129.3,452.7" opacity="0.29"/><polygon points="461.9,461.1 468.3,458.9 474.6,465.0 468.3,467.2" opacity="0.19"/><polygon points="351.1,397.9 357.3,395.7 363.6,401.7 357.3,403.8" opacity="0.37"/><polygon points="539.0,341.4 546.9,338.7 554.9,346.3 546.9,349.0" opacity="0.29"/><polygon points="503.7,403.5 510.1,401.4 516.6,407.5 510.1,409.7" opacity="0.37"/></g><g stroke="#4a7ad8" stroke-width="0.7" opacity="0.16"><line x1="-310" y1="330" x2="-90" y2="480"/><line x1="-297" y1="330" x2="-77" y2="480"/><line x1="-284" y1="330" x2="-64" y2="480"/><line x1="-271" y1="330" x2="-51" y2="480"/><line x1="-258" y1="330" x2="-38" y2="480"/><line x1="-245" y1="330" x2="-25" y2="480"/><line x1="-232" y1="330" x2="-12" y2="480"/><line x1="-219" y1="330" x2="1" y2="480"/><line x1="-206" y1="330" x2="14" y2="480"/><line x1="-193" y1="330" x2="27" y2="480"/><line x1="-180" y1="330" x2="40" y2="480"/><line x1="-167" y1="330" x2="53" y2="480"/><line x1="-154" y1="330" x2="66" y2="480"/><line x1="-141" y1="330" x2="79" y2="480"/><line x1="-128" y1="330" x2="92" y2="480"/><line x1="-115" y1="330" x2="105" y2="480"/><line x1="-102" y1="330" x2="118" y2="480"/><line x1="-89" y1="330" x2="131" y2="480"/><line x1="-76" y1="330" x2="144" y2="480"/><line x1="-63" y1="330" x2="157" y2="480"/><line x1="-50" y1="330" x2="170" y2="480"/><line x1="-37" y1="330" x2="183" y2="480"/><line x1="-24" y1="330" x2="196" y2="480"/><line x1="-11" y1="330" x2="209" y2="480"/><line x1="2" y1="330" x2="222" y2="480"/><line x1="15" y1="330" x2="235" y2="480"/><line x1="28" y1="330" x2="248" y2="480"/><line x1="41" y1="330" x2="261" y2="480"/><line x1="54" y1="330" x2="274" y2="480"/><line x1="67" y1="330" x2="287" y2="480"/><line x1="80" y1="330" x2="300" y2="480"/><line x1="93" y1="330" x2="313" y2="480"/><line x1="106" y1="330" x2="326" y2="480"/><line x1="119" y1="330" x2="339" y2="480"/><line x1="132" y1="330" x2="352" y2="480"/><line x1="145" y1="330" x2="365" y2="480"/><line x1="158" y1="330" x2="378" y2="480"/><line x1="171" y1="330" x2="391" y2="480"/><line x1="184" y1="330" x2="404" y2="480"/><line x1="197" y1="330" x2="417" y2="480"/><line x1="210" y1="330" x2="430" y2="480"/><line x1="223" y1="330" x2="443" y2="480"/><line x1="236" y1="330" x2="456" y2="480"/><line x1="249" y1="330" x2="469" y2="480"/><line x1="262" y1="330" x2="482" y2="480"/><line x1="275" y1="330" x2="495" y2="480"/><line x1="288" y1="330" x2="508" y2="480"/><line x1="301" y1="330" x2="521" y2="480"/><line x1="314" y1="330" x2="534" y2="480"/><line x1="327" y1="330" x2="547" y2="480"/><line x1="340" y1="330" x2="560" y2="480"/><line x1="353" y1="330" x2="573" y2="480"/><line x1="366" y1="330" x2="586" y2="480"/><line x1="379" y1="330" x2="599" y2="480"/><line x1="392" y1="330" x2="612" y2="480"/><line x1="405" y1="330" x2="625" y2="480"/><line x1="418" y1="330" x2="638" y2="480"/><line x1="431" y1="330" x2="651" y2="480"/><line x1="444" y1="330" x2="664" y2="480"/><line x1="457" y1="330" x2="677" y2="480"/><line x1="470" y1="330" x2="690" y2="480"/><line x1="483" y1="330" x2="703" y2="480"/><line x1="496" y1="330" x2="716" y2="480"/><line x1="509" y1="330" x2="729" y2="480"/><line x1="522" y1="330" x2="742" y2="480"/><line x1="535" y1="330" x2="755" y2="480"/><line x1="548" y1="330" x2="768" y2="480"/><line x1="561" y1="330" x2="781" y2="480"/><line x1="574" y1="330" x2="794" y2="480"/><line x1="587" y1="330" x2="807" y2="480"/><line x1="-80" y1="480" x2="220" y2="330"/><line x1="-64" y1="480" x2="236" y2="330"/><line x1="-48" y1="480" x2="252" y2="330"/><line x1="-32" y1="480" x2="268" y2="330"/><line x1="-16" y1="480" x2="284" y2="330"/><line x1="0" y1="480" x2="300" y2="330"/><line x1="16" y1="480" x2="316" y2="330"/><line x1="32" y1="480" x2="332" y2="330"/><line x1="48" y1="480" x2="348" y2="330"/><line x1="64" y1="480" x2="364" y2="330"/><line x1="80" y1="480" x2="380" y2="330"/><line x1="96" y1="480" x2="396" y2="330"/><line x1="112" y1="480" x2="412" y2="330"/><line x1="128" y1="480" x2="428" y2="330"/><line x1="144" y1="480" x2="444" y2="330"/><line x1="160" y1="480" x2="460" y2="330"/><line x1="176" y1="480" x2="476" y2="330"/><line x1="192" y1="480" x2="492" y2="330"/><line x1="208" y1="480" x2="508" y2="330"/><line x1="224" y1="480" x2="524" y2="330"/><line x1="240" y1="480" x2="540" y2="330"/><line x1="256" y1="480" x2="556" y2="330"/><line x1="272" y1="480" x2="572" y2="330"/><line x1="288" y1="480" x2="588" y2="330"/><line x1="304" y1="480" x2="604" y2="330"/><line x1="320" y1="480" x2="620" y2="330"/><line x1="336" y1="480" x2="636" y2="330"/><line x1="352" y1="480" x2="652" y2="330"/><line x1="368" y1="480" x2="668" y2="330"/><line x1="384" y1="480" x2="684" y2="330"/><line x1="400" y1="480" x2="700" y2="330"/><line x1="416" y1="480" x2="716" y2="330"/><line x1="432" y1="480" x2="732" y2="330"/><line x1="448" y1="480" x2="748" y2="330"/><line x1="464" y1="480" x2="764" y2="330"/><line x1="480" y1="480" x2="780" y2="330"/><line x1="496" y1="480" x2="796" y2="330"/><line x1="512" y1="480" x2="812" y2="330"/><line x1="528" y1="480" x2="828" y2="330"/><line x1="544" y1="480" x2="844" y2="330"/><line x1="560" y1="480" x2="860" y2="330"/><line x1="576" y1="480" x2="876" y2="330"/><line x1="592" y1="480" x2="892" y2="330"/><line x1="608" y1="480" x2="908" y2="330"/><line x1="624" y1="480" x2="924" y2="330"/><line x1="640" y1="480" x2="940" y2="330"/><line x1="656" y1="480" x2="956" y2="330"/><line x1="672" y1="480" x2="972" y2="330"/><line x1="688" y1="480" x2="988" y2="330"/><line x1="704" y1="480" x2="1004" y2="330"/><line x1="720" y1="480" x2="1020" y2="330"/><line x1="736" y1="480" x2="1036" y2="330"/><line x1="752" y1="480" x2="1052" y2="330"/><line x1="768" y1="480" x2="1068" y2="330"/><line x1="784" y1="480" x2="1084" y2="330"/><line x1="800" y1="480" x2="1100" y2="330"/><line x1="816" y1="480" x2="1116" y2="330"/><line x1="832" y1="480" x2="1132" y2="330"/><line x1="848" y1="480" x2="1148" y2="330"/><line x1="864" y1="480" x2="1164" y2="330"/></g>
<g stroke="#78b0ff" stroke-width="0.7" mask="url(#gridmask)"><line x1="112.5" y1="60" x2="98.5" y2="175"/><line x1="120.0" y1="60" x2="106.0" y2="175"/><line x1="127.5" y1="60" x2="113.5" y2="175"/><line x1="135.0" y1="60" x2="121.0" y2="175"/><line x1="142.5" y1="60" x2="128.5" y2="175"/><line x1="150.0" y1="60" x2="136.0" y2="175"/><line x1="157.5" y1="60" x2="143.5" y2="175"/><line x1="165.0" y1="60" x2="151.0" y2="175"/><line x1="172.5" y1="60" x2="158.5" y2="175"/><line x1="180.0" y1="60" x2="166.0" y2="175"/><line x1="187.5" y1="60" x2="173.5" y2="175"/><line x1="195.0" y1="60" x2="181.0" y2="175"/><line x1="202.5" y1="60" x2="188.5" y2="175"/><line x1="210.0" y1="60" x2="196.0" y2="175"/><line x1="217.5" y1="60" x2="203.5" y2="175"/><line x1="225.0" y1="60" x2="211.0" y2="175"/><line x1="232.5" y1="60" x2="218.5" y2="175"/><line x1="240.0" y1="60" x2="226.0" y2="175"/><line x1="247.5" y1="60" x2="233.5" y2="175"/><line x1="255.0" y1="60" x2="241.0" y2="175"/><line x1="262.5" y1="60" x2="248.5" y2="175"/><line x1="270.0" y1="60" x2="256.0" y2="175"/><line x1="277.5" y1="60" x2="263.5" y2="175"/><line x1="285.0" y1="60" x2="271.0" y2="175"/><line x1="292.5" y1="60" x2="278.5" y2="175"/><line x1="300.0" y1="60" x2="286.0" y2="175"/><line x1="307.5" y1="60" x2="293.5" y2="175"/><line x1="315.0" y1="60" x2="301.0" y2="175"/><line x1="322.5" y1="60" x2="308.5" y2="175"/><line x1="330.0" y1="60" x2="316.0" y2="175"/><line x1="337.5" y1="60" x2="323.5" y2="175"/><line x1="345.0" y1="60" x2="331.0" y2="175"/><line x1="352.5" y1="60" x2="338.5" y2="175"/><line x1="360.0" y1="60" x2="346.0" y2="175"/><line x1="367.5" y1="60" x2="353.5" y2="175"/><line x1="375.0" y1="60" x2="361.0" y2="175"/><line x1="382.5" y1="60" x2="368.5" y2="175"/><line x1="390.0" y1="60" x2="376.0" y2="175"/><line x1="397.5" y1="60" x2="383.5" y2="175"/><line x1="405.0" y1="60" x2="391.0" y2="175"/><line x1="412.5" y1="60" x2="398.5" y2="175"/><line x1="420.0" y1="60" x2="406.0" y2="175"/><line x1="427.5" y1="60" x2="413.5" y2="175"/><line x1="435.0" y1="60" x2="421.0" y2="175"/><line x1="442.5" y1="60" x2="428.5" y2="175"/><line x1="450.0" y1="60" x2="436.0" y2="175"/><line x1="457.5" y1="60" x2="443.5" y2="175"/><line x1="465.0" y1="60" x2="451.0" y2="175"/><line x1="472.5" y1="60" x2="458.5" y2="175"/><line x1="480.0" y1="60" x2="466.0" y2="175"/><line x1="487.5" y1="60" x2="473.5" y2="175"/><line x1="495.0" y1="60" x2="481.0" y2="175"/><line x1="502.5" y1="60" x2="488.5" y2="175"/><line x1="510.0" y1="60" x2="496.0" y2="175"/><line x1="517.5" y1="60" x2="503.5" y2="175"/><line x1="525.0" y1="60" x2="511.0" y2="175"/><line x1="532.5" y1="60" x2="518.5" y2="175"/><line x1="540.0" y1="60" x2="526.0" y2="175"/><line x1="547.5" y1="60" x2="533.5" y2="175"/><line x1="555.0" y1="60" x2="541.0" y2="175"/><line x1="562.5" y1="60" x2="548.5" y2="175"/><line x1="570.0" y1="60" x2="556.0" y2="175"/><line x1="577.5" y1="60" x2="563.5" y2="175"/><line x1="585.0" y1="60" x2="571.0" y2="175"/><line x1="592.5" y1="60" x2="578.5" y2="175"/><line x1="200" y1="82.0" x2="560" y2="30.0"/><line x1="200" y1="88.5" x2="560" y2="36.5"/><line x1="200" y1="95.0" x2="560" y2="43.0"/><line x1="200" y1="101.5" x2="560" y2="49.5"/><line x1="200" y1="108.0" x2="560" y2="56.0"/><line x1="200" y1="114.5" x2="560" y2="62.5"/><line x1="200" y1="121.0" x2="560" y2="69.0"/><line x1="200" y1="127.5" x2="560" y2="75.5"/><line x1="200" y1="134.0" x2="560" y2="82.0"/><line x1="200" y1="140.5" x2="560" y2="88.5"/><line x1="200" y1="147.0" x2="560" y2="95.0"/><line x1="200" y1="153.5" x2="560" y2="101.5"/><line x1="200" y1="160.0" x2="560" y2="108.0"/><line x1="200" y1="166.5" x2="560" y2="114.5"/><line x1="200" y1="173.0" x2="560" y2="121.0"/><line x1="200" y1="179.5" x2="560" y2="127.5"/><line x1="200" y1="186.0" x2="560" y2="134.0"/><line x1="200" y1="192.5" x2="560" y2="140.5"/><line x1="200" y1="199.0" x2="560" y2="147.0"/><line x1="200" y1="205.5" x2="560" y2="153.5"/></g><g stroke="#7ab4ff" stroke-width="0.6" mask="url(#gridmask2)"><line x1="-70.0" y1="90" x2="-95.0" y2="220"/><line x1="-63.5" y1="90" x2="-88.5" y2="220"/><line x1="-57.0" y1="90" x2="-82.0" y2="220"/><line x1="-50.5" y1="90" x2="-75.5" y2="220"/><line x1="-44.0" y1="90" x2="-69.0" y2="220"/><line x1="-37.5" y1="90" x2="-62.5" y2="220"/><line x1="-31.0" y1="90" x2="-56.0" y2="220"/><line x1="-24.5" y1="90" x2="-49.5" y2="220"/><line x1="-18.0" y1="90" x2="-43.0" y2="220"/><line x1="-11.5" y1="90" x2="-36.5" y2="220"/><line x1="-5.0" y1="90" x2="-30.0" y2="220"/><line x1="1.5" y1="90" x2="-23.5" y2="220"/><line x1="8.0" y1="90" x2="-17.0" y2="220"/><line x1="14.5" y1="90" x2="-10.5" y2="220"/><line x1="21.0" y1="90" x2="-4.0" y2="220"/><line x1="27.5" y1="90" x2="2.5" y2="220"/><line x1="34.0" y1="90" x2="9.0" y2="220"/><line x1="40.5" y1="90" x2="15.5" y2="220"/><line x1="47.0" y1="90" x2="22.0" y2="220"/><line x1="53.5" y1="90" x2="28.5" y2="220"/><line x1="60.0" y1="90" x2="35.0" y2="220"/><line x1="66.5" y1="90" x2="41.5" y2="220"/><line x1="73.0" y1="90" x2="48.0" y2="220"/><line x1="79.5" y1="90" x2="54.5" y2="220"/><line x1="86.0" y1="90" x2="61.0" y2="220"/><line x1="92.5" y1="90" x2="67.5" y2="220"/><line x1="99.0" y1="90" x2="74.0" y2="220"/><line x1="105.5" y1="90" x2="80.5" y2="220"/><line x1="112.0" y1="90" x2="87.0" y2="220"/><line x1="118.5" y1="90" x2="93.5" y2="220"/><line x1="125.0" y1="90" x2="100.0" y2="220"/><line x1="131.5" y1="90" x2="106.5" y2="220"/><line x1="138.0" y1="90" x2="113.0" y2="220"/><line x1="144.5" y1="90" x2="119.5" y2="220"/><line x1="151.0" y1="90" x2="126.0" y2="220"/><line x1="157.5" y1="90" x2="132.5" y2="220"/><line x1="164.0" y1="90" x2="139.0" y2="220"/><line x1="170.5" y1="90" x2="145.5" y2="220"/><line x1="177.0" y1="90" x2="152.0" y2="220"/><line x1="183.5" y1="90" x2="158.5" y2="220"/><line x1="190.0" y1="90" x2="165.0" y2="220"/><line x1="196.5" y1="90" x2="171.5" y2="220"/><line x1="203.0" y1="90" x2="178.0" y2="220"/><line x1="209.5" y1="90" x2="184.5" y2="220"/><line x1="216.0" y1="90" x2="191.0" y2="220"/><line x1="222.5" y1="90" x2="197.5" y2="220"/><line x1="229.0" y1="90" x2="204.0" y2="220"/><line x1="235.5" y1="90" x2="210.5" y2="220"/><line x1="242.0" y1="90" x2="217.0" y2="220"/><line x1="248.5" y1="90" x2="223.5" y2="220"/><line x1="255.0" y1="90" x2="230.0" y2="220"/><line x1="261.5" y1="90" x2="236.5" y2="220"/><line x1="268.0" y1="90" x2="243.0" y2="220"/><line x1="274.5" y1="90" x2="249.5" y2="220"/><line x1="281.0" y1="90" x2="256.0" y2="220"/><line x1="287.5" y1="90" x2="262.5" y2="220"/><line x1="294.0" y1="90" x2="269.0" y2="220"/><line x1="300.5" y1="90" x2="275.5" y2="220"/><line x1="307.0" y1="90" x2="282.0" y2="220"/><line x1="313.5" y1="90" x2="288.5" y2="220"/><line x1="320.0" y1="90" x2="295.0" y2="220"/><line x1="326.5" y1="90" x2="301.5" y2="220"/><line x1="333.0" y1="90" x2="308.0" y2="220"/><line x1="339.5" y1="90" x2="314.5" y2="220"/><line x1="346.0" y1="90" x2="321.0" y2="220"/><line x1="352.5" y1="90" x2="327.5" y2="220"/><line x1="359.0" y1="90" x2="334.0" y2="220"/><line x1="365.5" y1="90" x2="340.5" y2="220"/><line x1="372.0" y1="90" x2="347.0" y2="220"/><line x1="378.5" y1="90" x2="353.5" y2="220"/><line x1="385.0" y1="90" x2="360.0" y2="220"/><line x1="391.5" y1="90" x2="366.5" y2="220"/><line x1="398.0" y1="90" x2="373.0" y2="220"/><line x1="404.5" y1="90" x2="379.5" y2="220"/><line x1="411.0" y1="90" x2="386.0" y2="220"/><line x1="417.5" y1="90" x2="392.5" y2="220"/><line x1="424.0" y1="90" x2="399.0" y2="220"/><line x1="430.5" y1="90" x2="405.5" y2="220"/><line x1="437.0" y1="90" x2="412.0" y2="220"/><line x1="443.5" y1="90" x2="418.5" y2="220"/><line x1="60" y1="120.0" x2="360" y2="70.0"/><line x1="60" y1="125.2" x2="360" y2="75.2"/><line x1="60" y1="130.4" x2="360" y2="80.4"/><line x1="60" y1="135.6" x2="360" y2="85.6"/><line x1="60" y1="140.8" x2="360" y2="90.8"/><line x1="60" y1="146.0" x2="360" y2="96.0"/><line x1="60" y1="151.2" x2="360" y2="101.2"/><line x1="60" y1="156.4" x2="360" y2="106.4"/><line x1="60" y1="161.6" x2="360" y2="111.6"/><line x1="60" y1="166.8" x2="360" y2="116.8"/><line x1="60" y1="172.0" x2="360" y2="122.0"/><line x1="60" y1="177.2" x2="360" y2="127.2"/><line x1="60" y1="182.4" x2="360" y2="132.4"/><line x1="60" y1="187.6" x2="360" y2="137.6"/><line x1="60" y1="192.8" x2="360" y2="142.8"/><line x1="60" y1="198.0" x2="360" y2="148.0"/><line x1="60" y1="203.2" x2="360" y2="153.2"/><line x1="60" y1="208.4" x2="360" y2="158.4"/><line x1="60" y1="213.6" x2="360" y2="163.6"/><line x1="60" y1="218.8" x2="360" y2="168.8"/><line x1="60" y1="224.0" x2="360" y2="174.0"/><line x1="60" y1="229.2" x2="360" y2="179.2"/><line x1="60" y1="234.4" x2="360" y2="184.4"/><line x1="60" y1="239.6" x2="360" y2="189.6"/><line x1="60" y1="244.8" x2="360" y2="194.8"/><line x1="60" y1="250.0" x2="360" y2="200.0"/></g>
<g stroke="#6aa0f0" stroke-width="0.6" mask="url(#meshmask)"><line x1="240" y1="0" x2="330" y2="120"/><line x1="240" y1="0" x2="170" y2="120"/><line x1="254" y1="0" x2="344" y2="120"/><line x1="254" y1="0" x2="184" y2="120"/><line x1="268" y1="0" x2="358" y2="120"/><line x1="268" y1="0" x2="198" y2="120"/><line x1="282" y1="0" x2="372" y2="120"/><line x1="282" y1="0" x2="212" y2="120"/><line x1="296" y1="0" x2="386" y2="120"/><line x1="296" y1="0" x2="226" y2="120"/><line x1="310" y1="0" x2="400" y2="120"/><line x1="310" y1="0" x2="240" y2="120"/><line x1="324" y1="0" x2="414" y2="120"/><line x1="324" y1="0" x2="254" y2="120"/><line x1="338" y1="0" x2="428" y2="120"/><line x1="338" y1="0" x2="268" y2="120"/><line x1="352" y1="0" x2="442" y2="120"/><line x1="352" y1="0" x2="282" y2="120"/><line x1="366" y1="0" x2="456" y2="120"/><line x1="366" y1="0" x2="296" y2="120"/><line x1="380" y1="0" x2="470" y2="120"/><line x1="380" y1="0" x2="310" y2="120"/><line x1="394" y1="0" x2="484" y2="120"/><line x1="394" y1="0" x2="324" y2="120"/><line x1="408" y1="0" x2="498" y2="120"/><line x1="408" y1="0" x2="338" y2="120"/><line x1="422" y1="0" x2="512" y2="120"/><line x1="422" y1="0" x2="352" y2="120"/><line x1="436" y1="0" x2="526" y2="120"/><line x1="436" y1="0" x2="366" y2="120"/><line x1="450" y1="0" x2="540" y2="120"/><line x1="450" y1="0" x2="380" y2="120"/><line x1="464" y1="0" x2="554" y2="120"/><line x1="464" y1="0" x2="394" y2="120"/><line x1="478" y1="0" x2="568" y2="120"/><line x1="478" y1="0" x2="408" y2="120"/><line x1="492" y1="0" x2="582" y2="120"/><line x1="492" y1="0" x2="422" y2="120"/><line x1="506" y1="0" x2="596" y2="120"/><line x1="506" y1="0" x2="436" y2="120"/><line x1="520" y1="0" x2="610" y2="120"/><line x1="520" y1="0" x2="450" y2="120"/><line x1="534" y1="0" x2="624" y2="120"/><line x1="534" y1="0" x2="464" y2="120"/><line x1="548" y1="0" x2="638" y2="120"/><line x1="548" y1="0" x2="478" y2="120"/><line x1="562" y1="0" x2="652" y2="120"/><line x1="562" y1="0" x2="492" y2="120"/><line x1="576" y1="0" x2="666" y2="120"/><line x1="576" y1="0" x2="506" y2="120"/><line x1="590" y1="0" x2="680" y2="120"/><line x1="590" y1="0" x2="520" y2="120"/><line x1="604" y1="0" x2="694" y2="120"/><line x1="604" y1="0" x2="534" y2="120"/><line x1="618" y1="0" x2="708" y2="120"/><line x1="618" y1="0" x2="548" y2="120"/><line x1="632" y1="0" x2="722" y2="120"/><line x1="632" y1="0" x2="562" y2="120"/><line x1="646" y1="0" x2="736" y2="120"/><line x1="646" y1="0" x2="576" y2="120"/><line x1="660" y1="0" x2="750" y2="120"/><line x1="660" y1="0" x2="590" y2="120"/><line x1="674" y1="0" x2="764" y2="120"/><line x1="674" y1="0" x2="604" y2="120"/><line x1="688" y1="0" x2="778" y2="120"/><line x1="688" y1="0" x2="618" y2="120"/><line x1="702" y1="0" x2="792" y2="120"/><line x1="702" y1="0" x2="632" y2="120"/><line x1="716" y1="0" x2="806" y2="120"/><line x1="716" y1="0" x2="646" y2="120"/><line x1="730" y1="0" x2="820" y2="120"/><line x1="730" y1="0" x2="660" y2="120"/><line x1="744" y1="0" x2="834" y2="120"/><line x1="744" y1="0" x2="674" y2="120"/><line x1="758" y1="0" x2="848" y2="120"/><line x1="758" y1="0" x2="688" y2="120"/><line x1="772" y1="0" x2="862" y2="120"/><line x1="772" y1="0" x2="702" y2="120"/><line x1="786" y1="0" x2="876" y2="120"/><line x1="786" y1="0" x2="716" y2="120"/></g>
<!-- TEX END -->
<!-- cable body top surface -->
<path d="M344,148 C345,145 348,143.5 351,144 L560,71 L560,168 L421,225 C416,226 412,224 409,221 L346,156 C343,154 343,151 344,149 Z" fill="url(#ctop)"/>
<!-- lower rounded side -->
<path d="M412,186 L560,131 L560,168 L421,225 C428,212 424,197 412,186 Z" fill="url(#cside)"/>
<path d="M413,188 C455,173 510,152 560,133" stroke="#8c8e94" stroke-width="3.2" fill="none" filter="url(#blur1)"/>
<path d="M176,206 C195,201 215,198 232,192 C242,189 248,184 258,182 C268,181 280,178 296,172 C305,168 312,165 320,163 C332,160 340,157 348,153 L356,150 L420,214 L356,241 L300,236 L240,230 L182,233 Z" fill="#a9b0bd"/>
<!-- end face cavity -->
<path d="M354,155 L413,213" stroke="#0c0c0f" stroke-width="13" stroke-linecap="round"/>
<g fill="#2c2d32">
<ellipse cx="368" cy="166" rx="4" ry="7" transform="rotate(-45 368 166)"/>
<ellipse cx="386" cy="183" rx="4" ry="7" transform="rotate(-45 386 183)"/>
<ellipse cx="402" cy="199" rx="4" ry="7" transform="rotate(-45 402 199)"/>
</g>
<path d="M330,166 L350,150 L419,214 L405,223 L372,208 L345,192 Z" fill="url(#cavg)"/>
<!-- foil pairs (back to front) -->
<path d="M176,206 C195,201 215,198 232,192 C242,189 248,184 258,182 C268,181 280,178 296,172 C305,168 312,165 320,163 C332,160 340,157 348,153 L356,150 L363,158 C350,165 335,170 320,176 L280,194 L240,222 L182,234 Z" fill="url(#foilbase)" stroke="#a3abbb" stroke-width="0.5"/>
<g clip-path="url(#cA)"><path d="M177.2,211.5 C196.2,206.5 216.2,203.5 233.2,197.5 C243.2,194.5 249.2,189.5 259.2,187.5 C269.2,186.5 281.2,183.5 297.2,177.5 C306.2,173.5 313.2,170.5 321.2,168.5 C333.2,165.5 341.2,162.5 349.2,158.5" stroke="#ffffff" stroke-width="8" fill="none" filter="url(#blur2)" opacity="0.95"/></g>
<path d="M240,211 C250,207 262,202 274,194 C282,189 288,185 295,183 C305,181 312,179 320,178 C330,176 340,173 352,166 L368,162 L377,176 C360,182 345,190 330,197 L292,230 L244,229 Z" fill="url(#foilbase)" stroke="#a3abbb" stroke-width="0.5"/>
<g clip-path="url(#cB)"><path d="M241.2,216.5 C251.2,212.5 263.2,207.5 275.2,199.5 C283.2,194.5 289.2,190.5 296.2,188.5 C306.2,186.5 313.2,184.5 321.2,183.5 C331.2,181.5 341.2,178.5 353.2,171.5" stroke="#ffffff" stroke-width="8" fill="none" filter="url(#blur2)" opacity="0.95"/></g>
<path d="M287,216 C292,213 297,208 304,204 C312,200 317,198 324,197 C332,195 338,192 346,191 C356,189 364,188 372,187 C382,186 388,185 394,184 L401,197 C385,202 370,210 356,218 L356,232 L292,233 Z" fill="url(#foilbase)" stroke="#a3abbb" stroke-width="0.5"/>
<g clip-path="url(#cC)"><path d="M288.2,221.5 C293.2,218.5 298.2,213.5 305.2,209.5 C313.2,205.5 318.2,203.5 325.2,202.5 C333.2,200.5 339.2,197.5 347.2,196.5 C357.2,194.5 365.2,193.5 373.2,192.5 C383.2,191.5 389.2,190.5 395.2,189.5" stroke="#ffffff" stroke-width="8" fill="none" filter="url(#blur2)" opacity="0.95"/></g>
<path d="M347,215 C357,211 367,206 380,202 C390,199 400,196 408,194 L417,214 C400,222 378,232 356,241 Z" fill="url(#foilbase)" stroke="#a3abbb" stroke-width="0.5"/>
<g clip-path="url(#cD)"><path d="M348.2,220.5 C358.2,216.5 368.2,211.5 381.2,207.5 C391.2,204.5 401.2,201.5 409.2,199.5" stroke="#ffffff" stroke-width="8" fill="none" filter="url(#blur2)" opacity="0.95"/></g>
<g clip-path="url(#fclip)">
<rect x="170" y="140" width="260" height="110" fill="url(#twist)"/>
<path d="M320,140 L430,140 L430,250 L320,250 Z" fill="url(#foilsh)"/>
<g filter="url(#blur2)" fill="#8f99ad" opacity="0.6">
<path d="M198,214 C215,208 235,204 252,194 C246,204 228,212 204,220 Z"/>
<path d="M258,190 C272,187 288,182 300,176 C292,186 278,191 262,196 Z"/>
<path d="M300,176 C315,173 330,170 345,163 C338,171 322,177 305,182 Z"/>
<path d="M296,208 C312,203 328,199 345,197 C335,204 318,209 300,213 Z"/>
<path d="M330,186 C345,183 360,180 372,177 C362,184 348,188 334,191 Z"/>
<path d="M356,210 C370,205 385,201 398,198 C388,206 374,211 360,215 Z"/>
<path d="M250,222 C262,217 275,212 288,209 C280,217 268,222 254,226 Z"/>
</g>
<g fill="#ffffff" opacity="0.85" filter="url(#blur1)">
<path d="M205,206 C222,201 236,197 248,189" stroke="#fff" stroke-width="2" fill="none"/>
<path d="M262,199 C276,193 286,186 300,182" stroke="#fff" stroke-width="2" fill="none"/>
<path d="M306,206 C318,201 330,196 345,194" stroke="#fff" stroke-width="2" fill="none"/>
<path d="M360,209 C372,205 386,200 400,197" stroke="#fff" stroke-width="2" fill="none"/>
</g>
</g>
<path d="M411,190 C419,198 423,208 422,218 C420,224 414,224 410,221" stroke="#2a2b30" stroke-width="3.5" fill="none"/>
<g fill="#2d3fb0" opacity="0.9">
<path d="M281,199 L290,195 L291,198 L282,202 Z"/>
<path d="M340,176 L351,172 L352,175 L341,179 Z"/>
</g>

<!-- colored insulations -->
<path d="M124,231 L175,213 L178,225 L125,242 Z" fill="url(#gBrown)"/>
<path d="M186,228 L237.5,211.5 L242,224.7 L188.7,241.6 Z" fill="url(#gBlue)"/>
<path d="M232,232 L284.4,216 L289,228.4 L234.7,247 Z" fill="url(#gGreen)"/>
<path d="M295,232.5 L347.5,215 L355,227.5 L300,245 Z" fill="url(#gOrange)"/>
<g opacity="0.9">
<path d="M124,231 L126.5,230.2 L127.6,241.2 L125,242 Z" fill="#8d5a52"/>
<path d="M186,228 L188.6,227.2 L191.2,240.8 L188.7,241.6 Z" fill="#6d82dc"/>
<path d="M232,232 L234.6,231.2 L237.3,246.2 L234.7,247 Z" fill="#86d874"/>
<path d="M295,232.5 L297.6,231.7 L302.6,244.2 L300,245 Z" fill="#ffb27a"/>
</g>
<!-- white stubs -->
<g fill="url(#gStub)">
<path d="M162,233 L182,227 L184,237 L164,243 Z"/>
<path d="M221,232 L236,227 L238,236 L223,241 Z"/>
<path d="M269,238 L289,232 L291,243 L271,248 Z"/>
<path d="M335,238 L353,232 L356,243 L337,248 Z"/>
</g>
<!-- copper tips -->
<g id="cu" stroke="#a8643f" stroke-width="4.4" stroke-linecap="butt">
<line x1="90" y1="249" x2="125" y2="237.5"/>
<line x1="130" y1="252.5" x2="163" y2="241"/>
<line x1="153" y1="248" x2="181" y2="238"/>
<line x1="150" y1="235" x2="180" y2="224.5"/>
<line x1="191.6" y1="251" x2="226" y2="238"/>
<line x1="201" y1="254.7" x2="232" y2="242.5"/>
<line x1="239" y1="256.6" x2="272" y2="243.4"/>
<line x1="266.6" y1="254.7" x2="290" y2="244.4"/>
<line x1="280" y1="245" x2="297.5" y2="240"/>
<line x1="305" y1="256" x2="337.5" y2="242.5"/>
</g>
<g stroke="url(#cuPat)" stroke-width="3.4" stroke-linecap="butt">
<line x1="90" y1="249" x2="125" y2="237.5"/>
<line x1="130" y1="252.5" x2="163" y2="241"/>
<line x1="153" y1="248" x2="181" y2="238"/>
<line x1="150" y1="235" x2="180" y2="224.5"/>
<line x1="191.6" y1="251" x2="226" y2="238"/>
<line x1="201" y1="254.7" x2="232" y2="242.5"/>
<line x1="239" y1="256.6" x2="272" y2="243.4"/>
<line x1="266.6" y1="254.7" x2="290" y2="244.4"/>
<line x1="280" y1="245" x2="297.5" y2="240"/>
<line x1="305" y1="256" x2="337.5" y2="242.5"/>
</g>

<!-- pointer lines -->
<g stroke="#5d7fd6" stroke-width="1" opacity="0.85">
<line x1="154.5" y1="179" x2="154.5" y2="234"/>
<line x1="229.5" y1="243" x2="229.5" y2="311"/>
<line x1="371.5" y1="201" x2="371.5" y2="312"/>
<line x1="499.5" y1="182" x2="499.5" y2="312"/>
</g>
<g fill="#3f66cc" stroke="#a9bdf0" stroke-width="1.3">
<circle cx="154.5" cy="234.5" r="2.6"/>
<circle cx="229.5" cy="242.8" r="2.6"/>
<circle cx="371.6" cy="200.6" r="2.6"/>
<circle cx="499.5" cy="182.3" r="2.6"/>
</g>

<!-- pill & bars -->
<rect x="94" y="344" width="256" height="24" rx="12" fill="#3e70da"/>
<line x1="99.5" y1="375" x2="99.5" y2="456" stroke="#7f9fe6" stroke-width="1" opacity="0.7"/>
<rect x="100" y="387" width="103" height="18" fill="#487be2"/>
<rect x="100" y="412" width="144.5" height="18" fill="#487be2"/>
<rect x="100" y="437.5" width="327.5" height="18" fill="#487be2"/>
</svg>
</div>

<div class="t" style="left:90px;top:24.5px;font-size:36.5px;letter-spacing:0px;transform:scaleX(0.973);transform-origin:0 0;-webkit-text-stroke:0.9px #fff;">Aluminum–foil–shielded Wire</div>
<div class="t" style="left:159.5px;top:64px;font-size:15px;letter-spacing:0.2px;-webkit-text-stroke:0.15px #fff;">Multi–protection provides less signal losses and</div>
<div class="t" style="left:236.5px;top:78px;font-size:15px;letter-spacing:0.15px;-webkit-text-stroke:0.15px #fff;">higher speed transmission</div>
<div class="t" style="left:116px;top:166px;font-size:13px;color:#a9b9e6;">Ground wire</div>
<div class="t" style="left:184px;top:312px;font-size:13px;">Pure–copper core</div>
<div class="t" style="left:333px;top:312px;font-size:13px;">Aluminum foil</div>
<div class="t" style="left:459px;top:312px;font-size:13px;">Outside shield</div>
<div class="t" style="left:102px;top:349px;font-size:15px;letter-spacing:0.5px;-webkit-text-stroke:0.15px #fff;">Transmission Bandwidth Contrast</div>
<div class="t" style="left:141px;top:389px;font-size:14px;">100MHz</div>
<div class="t" style="left:214px;top:389px;font-size:14px;">Cat 5</div>
<div class="t" style="left:182px;top:414px;font-size:14px;">250MHz</div>
<div class="t" style="left:255px;top:414px;font-size:14px;">Cat 6</div>
<div class="t" style="left:365px;top:440px;font-size:14px;">600MHz</div>
<div class="t" style="left:438px;top:440px;font-size:14px;">Cat 7</div>
<div class="t" style="left:231px;top:466px;font-size:10px;color:#7d88b0;">PS:&nbsp; All data are from Vention laboratory</div>
</body></html>
